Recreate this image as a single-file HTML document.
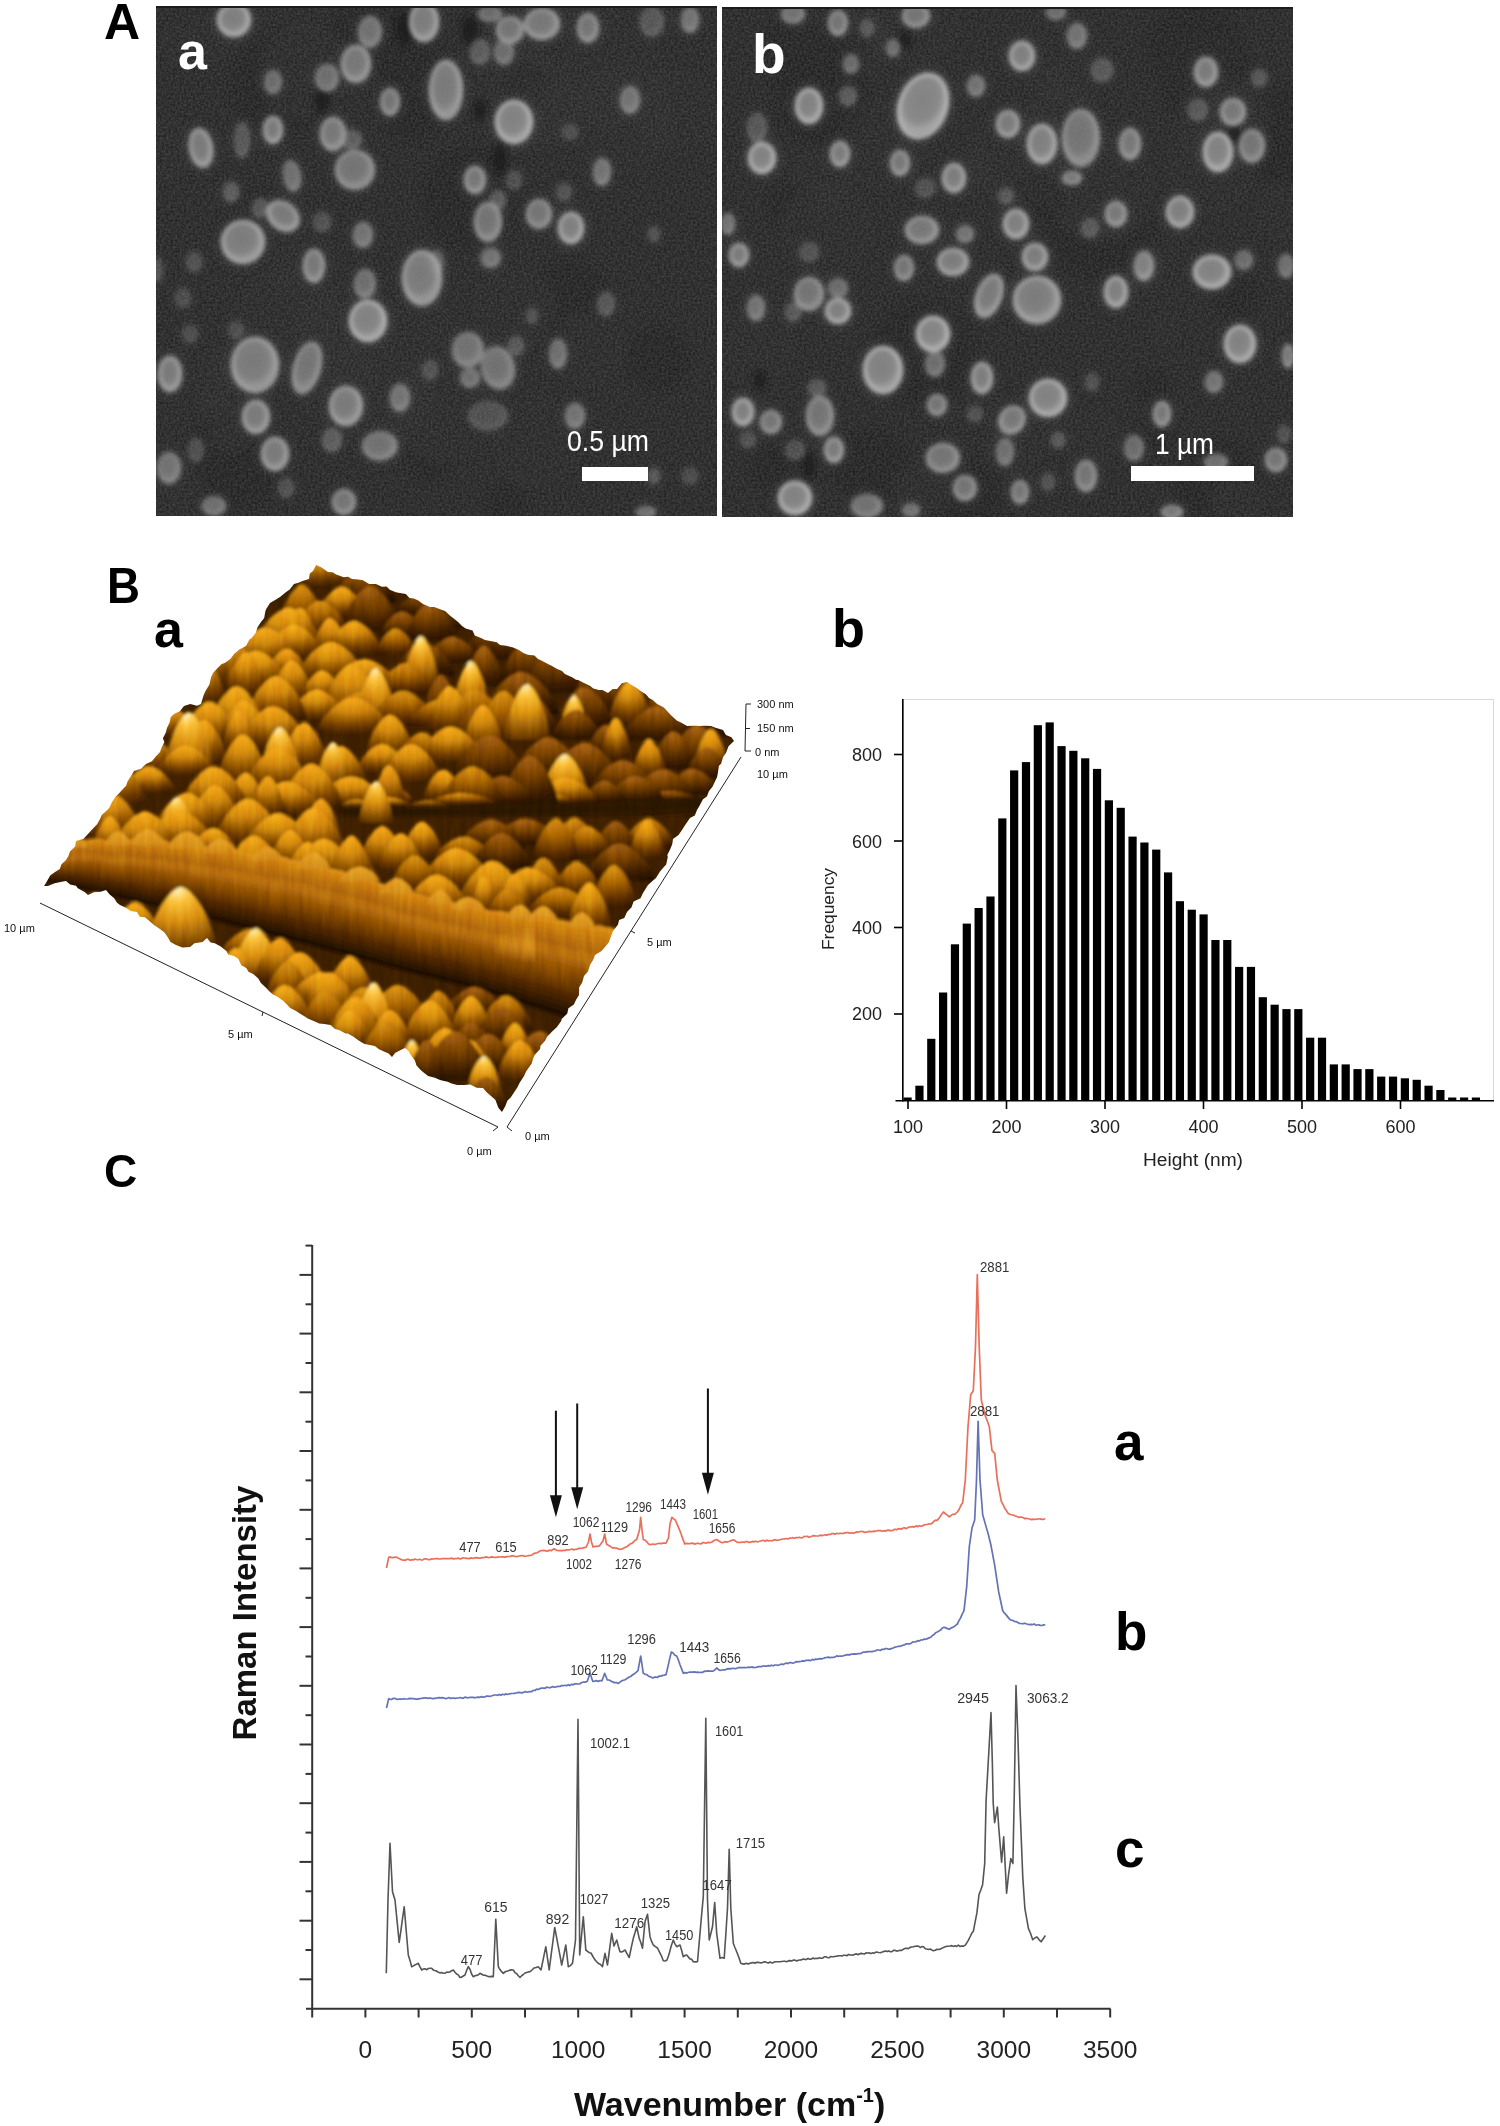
<!DOCTYPE html><html><head><meta charset="utf-8"><style>html,body{margin:0;padding:0;background:#fff;}svg{display:block;}</style></head><body>
<svg width="1500" height="2126" viewBox="0 0 1500 2126" font-family="Liberation Sans, sans-serif">
<defs>
<radialGradient id="pg" cx="0.45" cy="0.42" r="0.55">
<stop offset="0" stop-color="#868686"/><stop offset="0.6" stop-color="#8e8e8e"/><stop offset="0.86" stop-color="#b0b0b0"/><stop offset="1" stop-color="#9a9a9a"/>
</radialGradient>
<filter id="b1" x="-10%" y="-10%" width="120%" height="120%"><feGaussianBlur stdDeviation="2.1"/></filter>
<filter id="b4" x="-10%" y="-10%" width="120%" height="120%"><feGaussianBlur stdDeviation="4"/></filter>
<filter id="b3"><feGaussianBlur stdDeviation="3"/></filter>
<filter id="noise" x="0" y="0" width="100%" height="100%" color-interpolation-filters="sRGB"><feTurbulence type="fractalNoise" baseFrequency="0.45" numOctaves="2" seed="3"/><feColorMatrix type="matrix" values="0.7 0 0 0 -0.15  0.7 0 0 0 -0.15  0.7 0 0 0 -0.15  0 0 0 0 0.3"/></filter>
<clipPath id="cA"><rect x="156" y="6" width="561" height="510"/></clipPath>
<clipPath id="cB"><rect x="722" y="7" width="571" height="510"/></clipPath>
<clipPath id="cAFM"><polygon points="316.0,565.0 321.2,567.2 328.0,572.0 332.5,572.3 336.2,574.5 343.7,577.2 348.0,576.7 352.0,579.0 358.1,579.5 363.0,580.2 369.1,584.1 376.0,584.0 381.9,586.8 386.6,586.6 389.8,589.8 395.9,592.3 400.0,593.0 405.8,593.9 409.5,597.9 413.8,598.6 418.3,600.5 423.0,604.0 429.9,606.9 434.2,606.9 440.8,609.5 445.0,611.0 450.5,615.9 453.5,618.2 458.1,622.0 462.0,626.0 465.7,628.4 472.5,630.5 474.8,635.4 481.0,638.0 485.0,639.9 490.4,641.0 496.8,642.3 500.0,645.0 506.1,645.7 513.1,647.6 519.0,650.0 523.3,653.0 527.9,654.7 534.5,655.5 538.0,659.0 541.4,660.5 548.4,664.2 551.6,665.7 556.2,668.5 562.0,671.0 564.9,674.0 572.1,677.3 576.0,679.7 578.1,679.9 584.0,683.0 590.3,685.9 593.3,688.4 598.8,690.0 602.5,690.0 608.0,693.0 612.6,689.1 617.1,689.0 621.7,683.2 627.0,682.0 629.9,684.1 636.7,688.0 639.5,690.3 646.1,694.6 649.0,698.0 652.8,700.1 657.1,703.9 663.8,707.4 668.0,712.0 671.3,715.5 676.7,720.6 681.0,722.6 687.0,726.0 693.9,725.7 700.6,725.9 704.2,725.7 711.0,726.0 715.5,727.7 723.0,730.0 725.9,734.9 731.4,737.3 734.0,741.0 728.5,746.2 726.0,753.0 723.2,756.8 721.1,763.7 718.9,765.8 718.0,772.0 717.1,777.0 715.1,781.2 712.5,786.7 709.0,791.0 706.9,796.5 703.0,799.2 699.1,806.4 697.0,810.0 694.8,815.4 690.0,818.0 685.5,824.5 682.0,830.0 678.5,835.0 673.0,839.0 672.3,843.9 670.2,849.3 667.3,854.9 667.8,857.0 666.2,864.6 663.0,868.0 660.0,871.5 656.0,878.0 653.3,880.3 648.0,885.0 643.0,893.0 640.5,898.3 633.6,901.4 631.4,907.5 627.0,912.0 624.3,918.1 619.1,919.9 617.9,924.7 613.0,931.0 611.5,935.1 608.7,942.6 605.0,947.0 601.2,951.2 595.0,955.0 593.5,959.3 590.0,965.0 588.0,971.6 584.0,976.0 582.2,982.4 579.2,987.2 579.0,995.0 576.2,999.5 573.9,1004.5 568.4,1008.3 567.3,1013.4 561.7,1018.9 561.2,1021.1 557.0,1027.0 552.1,1031.6 547.0,1037.0 545.1,1040.8 540.5,1045.8 540.1,1048.9 534.6,1055.0 533.0,1059.0 531.7,1063.6 527.6,1069.3 526.2,1071.3 523.9,1076.3 519.5,1082.9 517.3,1087.4 515.0,1091.0 510.7,1097.4 507.5,1100.4 505.2,1106.2 502.0,1112.0 498.5,1108.0 495.3,1099.8 491.0,1096.0 486.4,1092.1 483.0,1088.0 476.6,1087.7 470.3,1084.6 464.0,1085.0 457.2,1084.9 451.5,1083.4 447.6,1081.7 440.0,1080.0 434.9,1077.7 428.1,1076.0 423.0,1072.0 419.9,1069.3 416.4,1065.2 414.9,1060.4 410.8,1054.9 408.9,1051.6 405.0,1048.0 401.2,1049.8 395.0,1052.9 392.0,1057.0 388.6,1053.6 384.5,1051.8 379.0,1049.3 374.8,1046.1 370.0,1045.0 364.5,1043.9 358.6,1040.5 353.9,1036.9 347.8,1033.5 345.6,1033.6 339.0,1030.0 335.0,1029.0 330.5,1024.9 324.3,1024.0 319.2,1023.4 314.8,1021.5 307.8,1018.5 304.0,1016.0 300.2,1013.7 295.6,1010.8 290.2,1008.0 286.2,1003.8 283.4,1001.0 277.1,996.4 272.8,994.5 269.0,991.0 266.7,988.4 260.9,982.9 258.3,978.6 253.2,973.9 248.5,971.7 246.3,968.0 241.3,965.2 238.3,958.8 234.0,956.0 228.1,954.5 226.6,951.3 220.8,946.4 214.7,943.2 210.6,942.4 207.0,938.0 202.6,941.9 194.5,943.2 190.0,947.0 182.4,947.4 176.0,945.0 170.5,941.9 167.8,937.2 164.3,932.2 158.5,927.9 154.0,925.0 148.5,920.3 144.9,917.3 139.8,916.8 137.0,912.0 130.7,910.9 126.3,908.1 120.0,905.0 117.0,902.7 114.2,898.2 109.7,894.4 106.0,890.0 100.7,891.8 94.0,892.2 88.0,895.0 84.7,892.1 77.8,888.3 76.0,885.8 70.1,884.4 66.0,881.0 61.7,881.7 54.6,883.3 48.0,886.0 44.0,886.0 46.1,882.8 50.2,875.6 55.0,872.0 59.8,869.0 61.5,864.2 66.0,860.0 68.4,855.9 70.0,851.5 75.1,846.4 76.0,841.0 83.3,838.9 88.0,834.0 91.6,830.1 97.1,824.3 100.0,819.0 101.7,815.1 107.3,809.9 109.5,807.5 112.0,802.0 115.7,796.5 119.1,793.2 122.0,790.0 126.1,785.8 127.4,781.8 131.4,775.2 134.0,771.0 141.1,768.8 146.0,764.0 151.9,761.2 155.8,756.6 160.0,752.0 161.7,747.3 164.4,741.9 162.9,738.3 165.6,732.9 167.0,728.0 169.6,722.5 170.7,717.3 174.0,714.0 179.9,711.3 184.0,706.0 190.3,704.1 196.9,705.7 201.0,704.0 203.5,695.4 206.0,690.0 209.4,684.7 211.1,677.1 213.0,673.0 217.9,667.7 221.3,664.3 225.2,662.8 230.6,658.8 234.0,654.0 239.4,649.6 246.0,646.0 249.3,639.7 251.7,637.9 255.8,632.8 257.4,627.4 261.0,622.0 264.2,617.9 265.3,611.5 266.2,609.0 270.0,603.0 276.4,599.3 280.0,597.0 285.5,592.4 289.7,589.4 294.0,584.0 298.4,582.7 303.2,580.7 309.0,579.0 309.8,573.6 313.0,571.0"/></clipPath>

<radialGradient id="h0" cx="0.45" cy="0.05" r="1.0" fx="0.45" fy="0.05">
<stop offset="0" stop-color="#dc9410"/><stop offset="0.35" stop-color="#b06a04"/><stop offset="0.75" stop-color="#5c2e00"/><stop offset="1" stop-color="#301600"/>
</radialGradient>
<radialGradient id="h1" cx="0.45" cy="0.05" r="1.0" fx="0.45" fy="0.05">
<stop offset="0" stop-color="#f8ac1c"/><stop offset="0.35" stop-color="#d48a0a"/><stop offset="0.75" stop-color="#6e3a00"/><stop offset="1" stop-color="#3a1c00"/>
</radialGradient>
<radialGradient id="h2" cx="0.45" cy="0.05" r="1.0" fx="0.45" fy="0.05">
<stop offset="0" stop-color="#fff0b0"/><stop offset="0.18" stop-color="#fcc23a"/><stop offset="0.5" stop-color="#d88e0c"/><stop offset="1" stop-color="#542a00"/>
</radialGradient>
<radialGradient id="h3" cx="0.45" cy="0.05" r="1.0" fx="0.45" fy="0.05">
<stop offset="0" stop-color="#a8620c"/><stop offset="0.35" stop-color="#7c4404"/><stop offset="0.75" stop-color="#3e1e00"/><stop offset="1" stop-color="#241000"/>
</radialGradient>
<linearGradient id="hb" x1="0" y1="0" x2="0" y2="1"><stop offset="0" stop-color="#eaa426"/><stop offset="0.6" stop-color="#dc961e"/><stop offset="1" stop-color="#d28c18"/></linearGradient>
<radialGradient id="hl"><stop offset="0" stop-color="#f0a828" stop-opacity="0.85"/><stop offset="1" stop-color="#f0a828" stop-opacity="0"/></radialGradient>
<linearGradient id="rg" x1="0" y1="0" x2="0" y2="1">
<stop offset="0" stop-color="#e8a42a"/><stop offset="0.15" stop-color="#d08c1c"/><stop offset="0.55" stop-color="#9a5c0c"/><stop offset="0.85" stop-color="#4a2600"/><stop offset="1" stop-color="#200e00"/>
</linearGradient>
<linearGradient id="rg2" x1="0" y1="0" x2="0" y2="1">
<stop offset="0" stop-color="#e09c26"/><stop offset="0.3" stop-color="#b87414"/><stop offset="0.8" stop-color="#6a3a04"/><stop offset="1" stop-color="#3a1e00"/>
</linearGradient>
<filter id="fb3" x="-20%" y="-50%" width="140%" height="200%"><feGaussianBlur stdDeviation="3"/></filter>
<filter id="streak" x="0" y="0" width="100%" height="100%" color-interpolation-filters="sRGB"><feTurbulence type="fractalNoise" baseFrequency="0.18 0.025" numOctaves="2" seed="5"/><feColorMatrix type="matrix" values="1.2 0 0 0 -0.1  1.2 0 0 0 -0.1  1.2 0 0 0 -0.1  0 0 0 0 1"/></filter>
<filter id="fb6" x="-20%" y="-20%" width="140%" height="140%"><feGaussianBlur stdDeviation="6"/></filter>
<filter id="fb1" x="-5%" y="-5%" width="110%" height="110%"><feGaussianBlur stdDeviation="1.8"/></filter>

</defs>
<rect width="1500" height="2126" fill="#fff"/>
<text x="104" y="39" font-size="50" font-weight="bold" fill="#000">A</text>
<g clip-path="url(#cA)">
<rect x="156" y="6" width="561" height="510" fill="#313131"/>
<g filter="url(#b3)" opacity="0.5"><circle cx="430" cy="459" r="25" fill="#262626" opacity="0.5"/><circle cx="281" cy="86" r="52" fill="#262626" opacity="0.5"/><circle cx="471" cy="198" r="52" fill="#262626" opacity="0.5"/><circle cx="232" cy="229" r="16" fill="#262626" opacity="0.5"/><circle cx="580" cy="7" r="38" fill="#3c3c3c" opacity="0.5"/><circle cx="215" cy="408" r="17" fill="#3c3c3c" opacity="0.5"/><circle cx="237" cy="460" r="51" fill="#262626" opacity="0.5"/><circle cx="179" cy="45" r="21" fill="#3c3c3c" opacity="0.5"/><circle cx="307" cy="71" r="48" fill="#3c3c3c" opacity="0.5"/><circle cx="212" cy="38" r="25" fill="#3c3c3c" opacity="0.5"/><circle cx="658" cy="359" r="34" fill="#262626" opacity="0.5"/><circle cx="343" cy="333" r="50" fill="#3c3c3c" opacity="0.5"/><circle cx="346" cy="27" r="18" fill="#262626" opacity="0.5"/><circle cx="167" cy="493" r="36" fill="#3c3c3c" opacity="0.5"/><circle cx="524" cy="60" r="27" fill="#3c3c3c" opacity="0.5"/><circle cx="418" cy="330" r="39" fill="#3c3c3c" opacity="0.5"/><circle cx="442" cy="410" r="52" fill="#3c3c3c" opacity="0.5"/><circle cx="163" cy="148" r="33" fill="#3c3c3c" opacity="0.5"/><circle cx="411" cy="117" r="27" fill="#262626" opacity="0.5"/><circle cx="569" cy="296" r="38" fill="#262626" opacity="0.5"/><circle cx="506" cy="505" r="22" fill="#262626" opacity="0.5"/><circle cx="621" cy="120" r="53" fill="#3c3c3c" opacity="0.5"/><circle cx="522" cy="100" r="54" fill="#3c3c3c" opacity="0.5"/><circle cx="398" cy="397" r="38" fill="#3c3c3c" opacity="0.5"/><circle cx="287" cy="321" r="53" fill="#3c3c3c" opacity="0.5"/><circle cx="525" cy="85" r="23" fill="#262626" opacity="0.5"/><circle cx="612" cy="75" r="53" fill="#3c3c3c" opacity="0.5"/><circle cx="588" cy="349" r="37" fill="#3c3c3c" opacity="0.5"/><circle cx="403" cy="44" r="44" fill="#262626" opacity="0.5"/><circle cx="258" cy="208" r="20" fill="#262626" opacity="0.5"/><circle cx="230" cy="432" r="21" fill="#3c3c3c" opacity="0.5"/><circle cx="371" cy="12" r="25" fill="#262626" opacity="0.5"/><circle cx="226" cy="380" r="34" fill="#3c3c3c" opacity="0.5"/><circle cx="538" cy="442" r="45" fill="#3c3c3c" opacity="0.5"/><circle cx="292" cy="266" r="24" fill="#3c3c3c" opacity="0.5"/><circle cx="234" cy="369" r="24" fill="#3c3c3c" opacity="0.5"/><circle cx="332" cy="381" r="43" fill="#3c3c3c" opacity="0.5"/><circle cx="675" cy="111" r="43" fill="#3c3c3c" opacity="0.5"/><circle cx="514" cy="309" r="42" fill="#3c3c3c" opacity="0.5"/><circle cx="542" cy="116" r="34" fill="#3c3c3c" opacity="0.5"/></g>
<rect x="156" y="6" width="561" height="510" filter="url(#noise)"/>
<g filter="url(#b4)"><ellipse cx="234" cy="20" rx="22" ry="22" fill="#6a6a6a" opacity="0.28"/>
<ellipse cx="370" cy="32" rx="17" ry="21" fill="#6a6a6a" opacity="0.19"/>
<ellipse cx="424" cy="22" rx="20" ry="25" fill="#6a6a6a" opacity="0.26"/>
<ellipse cx="356" cy="64" rx="20" ry="24" fill="#6a6a6a" opacity="0.23"/>
<ellipse cx="327" cy="78" rx="17" ry="19" fill="#6a6a6a" opacity="0.17"/>
<ellipse cx="273" cy="82" rx="14" ry="17" fill="#6a6a6a" opacity="0.16"/>
<ellipse cx="390" cy="102" rx="15" ry="19" fill="#6a6a6a" opacity="0.21"/>
<ellipse cx="446" cy="90" rx="22" ry="35" fill="#6a6a6a" opacity="0.24"/>
<ellipse cx="273" cy="130" rx="15" ry="19" fill="#6a6a6a" opacity="0.24"/>
<ellipse cx="333" cy="134" rx="18" ry="22" fill="#6a6a6a" opacity="0.23"/>
<ellipse cx="352" cy="140" rx="15" ry="15" fill="#6a6a6a" opacity="0.14"/>
<ellipse cx="201" cy="148" rx="17" ry="25" fill="#6a6a6a" opacity="0.24" transform="rotate(-10 201 148)"/>
<ellipse cx="242" cy="140" rx="13" ry="23" fill="#6a6a6a" opacity="0.12"/>
<ellipse cx="292" cy="176" rx="14" ry="21" fill="#6a6a6a" opacity="0.17" transform="rotate(-10 292 176)"/>
<ellipse cx="355" cy="170" rx="25" ry="25" fill="#6a6a6a" opacity="0.21"/>
<ellipse cx="231" cy="192" rx="13" ry="15" fill="#6a6a6a" opacity="0.14"/>
<ellipse cx="283" cy="216" rx="23" ry="19" fill="#6a6a6a" opacity="0.24" transform="rotate(40 283 216)"/>
<ellipse cx="260" cy="208" rx="13" ry="15" fill="#6a6a6a" opacity="0.12"/>
<ellipse cx="243" cy="242" rx="27" ry="27" fill="#6a6a6a" opacity="0.26"/>
<ellipse cx="363" cy="235" rx="15" ry="18" fill="#6a6a6a" opacity="0.19"/>
<ellipse cx="314" cy="266" rx="16" ry="22" fill="#6a6a6a" opacity="0.23"/>
<ellipse cx="322" cy="222" rx="14" ry="15" fill="#6a6a6a" opacity="0.10"/>
<ellipse cx="490" cy="14" rx="17" ry="13" fill="#6a6a6a" opacity="0.16"/>
<ellipse cx="510" cy="30" rx="19" ry="19" fill="#6a6a6a" opacity="0.21"/>
<ellipse cx="542" cy="24" rx="23" ry="21" fill="#6a6a6a" opacity="0.23"/>
<ellipse cx="588" cy="28" rx="16" ry="20" fill="#6a6a6a" opacity="0.21"/>
<ellipse cx="652" cy="22" rx="17" ry="20" fill="#6a6a6a" opacity="0.12"/>
<ellipse cx="690" cy="20" rx="14" ry="18" fill="#6a6a6a" opacity="0.19"/>
<ellipse cx="480" cy="52" rx="15" ry="18" fill="#6a6a6a" opacity="0.14"/>
<ellipse cx="504" cy="52" rx="15" ry="18" fill="#6a6a6a" opacity="0.16"/>
<ellipse cx="514" cy="122" rx="24" ry="27" fill="#6a6a6a" opacity="0.30"/>
<ellipse cx="630" cy="100" rx="15" ry="19" fill="#6a6a6a" opacity="0.19"/>
<ellipse cx="570" cy="132" rx="13" ry="13" fill="#6a6a6a" opacity="0.09"/>
<ellipse cx="475" cy="180" rx="16" ry="19" fill="#6a6a6a" opacity="0.23"/>
<ellipse cx="602" cy="172" rx="14" ry="19" fill="#6a6a6a" opacity="0.19"/>
<ellipse cx="514" cy="180" rx="13" ry="15" fill="#6a6a6a" opacity="0.10"/>
<ellipse cx="564" cy="192" rx="13" ry="14" fill="#6a6a6a" opacity="0.10"/>
<ellipse cx="488" cy="222" rx="19" ry="25" fill="#6a6a6a" opacity="0.21"/>
<ellipse cx="498" cy="200" rx="13" ry="15" fill="#6a6a6a" opacity="0.14"/>
<ellipse cx="539" cy="214" rx="18" ry="20" fill="#6a6a6a" opacity="0.21"/>
<ellipse cx="571" cy="228" rx="18" ry="21" fill="#6a6a6a" opacity="0.28"/>
<ellipse cx="654" cy="234" rx="11" ry="13" fill="#6a6a6a" opacity="0.10"/>
<ellipse cx="490" cy="258" rx="15" ry="15" fill="#6a6a6a" opacity="0.14"/>
<ellipse cx="436" cy="262" rx="13" ry="17" fill="#6a6a6a" opacity="0.14"/>
<ellipse cx="422" cy="278" rx="25" ry="33" fill="#6a6a6a" opacity="0.24"/>
<ellipse cx="368" cy="321" rx="24" ry="26" fill="#6a6a6a" opacity="0.30"/>
<ellipse cx="365" cy="284" rx="16" ry="20" fill="#6a6a6a" opacity="0.17"/>
<ellipse cx="255" cy="365" rx="29" ry="33" fill="#6a6a6a" opacity="0.24"/>
<ellipse cx="307" cy="368" rx="19" ry="32" fill="#6a6a6a" opacity="0.21" transform="rotate(15 307 368)"/>
<ellipse cx="170" cy="374" rx="17" ry="23" fill="#6a6a6a" opacity="0.24"/>
<ellipse cx="346" cy="406" rx="22" ry="25" fill="#6a6a6a" opacity="0.24"/>
<ellipse cx="400" cy="398" rx="15" ry="19" fill="#6a6a6a" opacity="0.19"/>
<ellipse cx="256" cy="417" rx="19" ry="22" fill="#6a6a6a" opacity="0.24"/>
<ellipse cx="275" cy="454" rx="19" ry="22" fill="#6a6a6a" opacity="0.24"/>
<ellipse cx="332" cy="440" rx="15" ry="17" fill="#6a6a6a" opacity="0.14"/>
<ellipse cx="380" cy="446" rx="23" ry="20" fill="#6a6a6a" opacity="0.19"/>
<ellipse cx="169" cy="468" rx="17" ry="21" fill="#6a6a6a" opacity="0.19"/>
<ellipse cx="196" cy="450" rx="13" ry="17" fill="#6a6a6a" opacity="0.10"/>
<ellipse cx="344" cy="502" rx="17" ry="18" fill="#6a6a6a" opacity="0.21"/>
<ellipse cx="214" cy="506" rx="17" ry="15" fill="#6a6a6a" opacity="0.17"/>
<ellipse cx="286" cy="488" rx="13" ry="15" fill="#6a6a6a" opacity="0.10"/>
<ellipse cx="183" cy="298" rx="13" ry="15" fill="#6a6a6a" opacity="0.09"/>
<ellipse cx="194" cy="262" rx="13" ry="15" fill="#6a6a6a" opacity="0.10"/>
<ellipse cx="236" cy="330" rx="13" ry="14" fill="#6a6a6a" opacity="0.09"/>
<ellipse cx="190" cy="334" rx="13" ry="14" fill="#6a6a6a" opacity="0.09"/>
<ellipse cx="430" cy="370" rx="13" ry="15" fill="#6a6a6a" opacity="0.10"/>
<ellipse cx="468" cy="350" rx="21" ry="23" fill="#6a6a6a" opacity="0.19"/>
<ellipse cx="498" cy="368" rx="22" ry="27" fill="#6a6a6a" opacity="0.19" transform="rotate(-15 498 368)"/>
<ellipse cx="470" cy="378" rx="15" ry="15" fill="#6a6a6a" opacity="0.17"/>
<ellipse cx="516" cy="346" rx="13" ry="15" fill="#6a6a6a" opacity="0.12"/>
<ellipse cx="558" cy="354" rx="14" ry="20" fill="#6a6a6a" opacity="0.17"/>
<ellipse cx="575" cy="416" rx="15" ry="18" fill="#6a6a6a" opacity="0.19"/>
<ellipse cx="488" cy="416" rx="25" ry="20" fill="#6a6a6a" opacity="0.10"/>
<ellipse cx="654" cy="476" rx="11" ry="13" fill="#6a6a6a" opacity="0.12"/>
<ellipse cx="646" cy="512" rx="15" ry="11" fill="#6a6a6a" opacity="0.17"/>
<ellipse cx="532" cy="316" rx="11" ry="13" fill="#6a6a6a" opacity="0.10"/>
<ellipse cx="690" cy="476" rx="13" ry="13" fill="#6a6a6a" opacity="0.09"/>
<ellipse cx="606" cy="304" rx="14" ry="17" fill="#6a6a6a" opacity="0.12"/>
<ellipse cx="492" cy="258" rx="14" ry="15" fill="#6a6a6a" opacity="0.14"/>
<ellipse cx="158" cy="270" rx="9" ry="17" fill="#6a6a6a" opacity="0.12"/></g>
<g filter="url(#b3)"><ellipse cx="322" cy="100" rx="7" ry="12" fill="#151515" opacity="0.8"/><ellipse cx="406" cy="28" rx="9" ry="16" fill="#151515" opacity="0.8"/><ellipse cx="500" cy="158" rx="6" ry="15" fill="#151515" opacity="0.8"/><ellipse cx="470" cy="30" rx="8" ry="14" fill="#151515" opacity="0.8"/><ellipse cx="480" cy="110" rx="6" ry="10" fill="#151515" opacity="0.8"/></g>
<g filter="url(#b1)"><ellipse cx="234" cy="20" rx="17" ry="17" fill="url(#pg)" opacity="0.87"/>
<ellipse cx="234" cy="20" rx="15.5" ry="15.5" fill="none" stroke="#cccccc" stroke-width="2.6" opacity="0.62"/>
<ellipse cx="370" cy="32" rx="12" ry="16" fill="url(#pg)" opacity="0.70"/>
<ellipse cx="424" cy="22" rx="15" ry="20" fill="url(#pg)" opacity="0.84"/>
<ellipse cx="424" cy="22" rx="13.5" ry="18.5" fill="none" stroke="#cccccc" stroke-width="2.6" opacity="0.52"/>
<ellipse cx="356" cy="64" rx="15" ry="19" fill="url(#pg)" opacity="0.77"/>
<ellipse cx="356" cy="64" rx="13.5" ry="17.5" fill="none" stroke="#cccccc" stroke-width="2.6" opacity="0.34"/>
<ellipse cx="327" cy="78" rx="12" ry="14" fill="url(#pg)" opacity="0.66"/>
<ellipse cx="273" cy="82" rx="9" ry="12" fill="url(#pg)" opacity="0.62"/>
<ellipse cx="390" cy="102" rx="10" ry="14" fill="url(#pg)" opacity="0.74"/>
<ellipse cx="390" cy="102" rx="8.5" ry="12.5" fill="none" stroke="#cccccc" stroke-width="2.6" opacity="0.26"/>
<ellipse cx="446" cy="90" rx="17" ry="30" fill="url(#pg)" opacity="0.81"/>
<ellipse cx="446" cy="90" rx="15.5" ry="28.5" fill="none" stroke="#cccccc" stroke-width="2.6" opacity="0.43"/>
<ellipse cx="273" cy="130" rx="10" ry="14" fill="url(#pg)" opacity="0.81"/>
<ellipse cx="273" cy="130" rx="8.5" ry="12.5" fill="none" stroke="#cccccc" stroke-width="2.6" opacity="0.43"/>
<ellipse cx="333" cy="134" rx="13" ry="17" fill="url(#pg)" opacity="0.77"/>
<ellipse cx="333" cy="134" rx="11.5" ry="15.5" fill="none" stroke="#cccccc" stroke-width="2.6" opacity="0.34"/>
<ellipse cx="352" cy="140" rx="10" ry="10" fill="url(#pg)" opacity="0.44"/>
<ellipse cx="201" cy="148" rx="12" ry="20" fill="url(#pg)" opacity="0.81" transform="rotate(-10 201 148)"/>
<ellipse cx="201" cy="148" rx="10.5" ry="18.5" fill="none" stroke="#cccccc" stroke-width="2.6" opacity="0.43" transform="rotate(-10 201 148)"/>
<ellipse cx="242" cy="140" rx="8" ry="18" fill="url(#pg)" opacity="0.39"/>
<ellipse cx="292" cy="176" rx="9" ry="16" fill="url(#pg)" opacity="0.66" transform="rotate(-10 292 176)"/>
<ellipse cx="355" cy="170" rx="20" ry="20" fill="url(#pg)" opacity="0.74"/>
<ellipse cx="355" cy="170" rx="18.5" ry="18.5" fill="none" stroke="#cccccc" stroke-width="2.6" opacity="0.26"/>
<ellipse cx="231" cy="192" rx="8" ry="10" fill="url(#pg)" opacity="0.44"/>
<ellipse cx="283" cy="216" rx="18" ry="14" fill="url(#pg)" opacity="0.81" transform="rotate(40 283 216)"/>
<ellipse cx="283" cy="216" rx="16.5" ry="12.5" fill="none" stroke="#cccccc" stroke-width="2.6" opacity="0.43" transform="rotate(40 283 216)"/>
<ellipse cx="260" cy="208" rx="8" ry="10" fill="url(#pg)" opacity="0.39"/>
<ellipse cx="243" cy="242" rx="22" ry="22" fill="url(#pg)" opacity="0.84"/>
<ellipse cx="243" cy="242" rx="20.5" ry="20.5" fill="none" stroke="#cccccc" stroke-width="2.6" opacity="0.52"/>
<ellipse cx="363" cy="235" rx="10" ry="13" fill="url(#pg)" opacity="0.70"/>
<ellipse cx="314" cy="266" rx="11" ry="17" fill="url(#pg)" opacity="0.77"/>
<ellipse cx="314" cy="266" rx="9.5" ry="15.5" fill="none" stroke="#cccccc" stroke-width="2.6" opacity="0.34"/>
<ellipse cx="322" cy="222" rx="9" ry="10" fill="url(#pg)" opacity="0.33"/>
<ellipse cx="490" cy="14" rx="12" ry="8" fill="url(#pg)" opacity="0.62"/>
<ellipse cx="510" cy="30" rx="14" ry="14" fill="url(#pg)" opacity="0.74"/>
<ellipse cx="510" cy="30" rx="12.5" ry="12.5" fill="none" stroke="#cccccc" stroke-width="2.6" opacity="0.26"/>
<ellipse cx="542" cy="24" rx="18" ry="16" fill="url(#pg)" opacity="0.77"/>
<ellipse cx="542" cy="24" rx="16.5" ry="14.5" fill="none" stroke="#cccccc" stroke-width="2.6" opacity="0.34"/>
<ellipse cx="588" cy="28" rx="11" ry="15" fill="url(#pg)" opacity="0.74"/>
<ellipse cx="588" cy="28" rx="9.5" ry="13.5" fill="none" stroke="#cccccc" stroke-width="2.6" opacity="0.26"/>
<ellipse cx="652" cy="22" rx="12" ry="15" fill="url(#pg)" opacity="0.39"/>
<ellipse cx="690" cy="20" rx="9" ry="13" fill="url(#pg)" opacity="0.70"/>
<ellipse cx="480" cy="52" rx="10" ry="13" fill="url(#pg)" opacity="0.44"/>
<ellipse cx="504" cy="52" rx="10" ry="13" fill="url(#pg)" opacity="0.62"/>
<ellipse cx="514" cy="122" rx="19" ry="22" fill="url(#pg)" opacity="0.91"/>
<ellipse cx="514" cy="122" rx="17.5" ry="20.5" fill="none" stroke="#cccccc" stroke-width="2.6" opacity="0.73"/>
<ellipse cx="630" cy="100" rx="10" ry="14" fill="url(#pg)" opacity="0.70"/>
<ellipse cx="570" cy="132" rx="8" ry="8" fill="url(#pg)" opacity="0.28"/>
<ellipse cx="475" cy="180" rx="11" ry="14" fill="url(#pg)" opacity="0.77"/>
<ellipse cx="475" cy="180" rx="9.5" ry="12.5" fill="none" stroke="#cccccc" stroke-width="2.6" opacity="0.34"/>
<ellipse cx="602" cy="172" rx="9" ry="14" fill="url(#pg)" opacity="0.70"/>
<ellipse cx="514" cy="180" rx="8" ry="10" fill="url(#pg)" opacity="0.33"/>
<ellipse cx="564" cy="192" rx="8" ry="9" fill="url(#pg)" opacity="0.33"/>
<ellipse cx="488" cy="222" rx="14" ry="20" fill="url(#pg)" opacity="0.74"/>
<ellipse cx="488" cy="222" rx="12.5" ry="18.5" fill="none" stroke="#cccccc" stroke-width="2.6" opacity="0.26"/>
<ellipse cx="498" cy="200" rx="8" ry="10" fill="url(#pg)" opacity="0.44"/>
<ellipse cx="539" cy="214" rx="13" ry="15" fill="url(#pg)" opacity="0.74"/>
<ellipse cx="539" cy="214" rx="11.5" ry="13.5" fill="none" stroke="#cccccc" stroke-width="2.6" opacity="0.26"/>
<ellipse cx="571" cy="228" rx="13" ry="16" fill="url(#pg)" opacity="0.87"/>
<ellipse cx="571" cy="228" rx="11.5" ry="14.5" fill="none" stroke="#cccccc" stroke-width="2.6" opacity="0.62"/>
<ellipse cx="654" cy="234" rx="6" ry="8" fill="url(#pg)" opacity="0.33"/>
<ellipse cx="490" cy="258" rx="10" ry="10" fill="url(#pg)" opacity="0.44"/>
<ellipse cx="436" cy="262" rx="8" ry="12" fill="url(#pg)" opacity="0.44"/>
<ellipse cx="422" cy="278" rx="20" ry="28" fill="url(#pg)" opacity="0.81"/>
<ellipse cx="422" cy="278" rx="18.5" ry="26.5" fill="none" stroke="#cccccc" stroke-width="2.6" opacity="0.43"/>
<ellipse cx="368" cy="321" rx="19" ry="21" fill="url(#pg)" opacity="0.91"/>
<ellipse cx="368" cy="321" rx="17.5" ry="19.5" fill="none" stroke="#cccccc" stroke-width="2.6" opacity="0.73"/>
<ellipse cx="365" cy="284" rx="11" ry="15" fill="url(#pg)" opacity="0.66"/>
<ellipse cx="255" cy="365" rx="24" ry="28" fill="url(#pg)" opacity="0.81"/>
<ellipse cx="255" cy="365" rx="22.5" ry="26.5" fill="none" stroke="#cccccc" stroke-width="2.6" opacity="0.43"/>
<ellipse cx="307" cy="368" rx="14" ry="27" fill="url(#pg)" opacity="0.74" transform="rotate(15 307 368)"/>
<ellipse cx="307" cy="368" rx="12.5" ry="25.5" fill="none" stroke="#cccccc" stroke-width="2.6" opacity="0.26" transform="rotate(15 307 368)"/>
<ellipse cx="170" cy="374" rx="12" ry="18" fill="url(#pg)" opacity="0.81"/>
<ellipse cx="170" cy="374" rx="10.5" ry="16.5" fill="none" stroke="#cccccc" stroke-width="2.6" opacity="0.43"/>
<ellipse cx="346" cy="406" rx="17" ry="20" fill="url(#pg)" opacity="0.81"/>
<ellipse cx="346" cy="406" rx="15.5" ry="18.5" fill="none" stroke="#cccccc" stroke-width="2.6" opacity="0.43"/>
<ellipse cx="400" cy="398" rx="10" ry="14" fill="url(#pg)" opacity="0.70"/>
<ellipse cx="256" cy="417" rx="14" ry="17" fill="url(#pg)" opacity="0.81"/>
<ellipse cx="256" cy="417" rx="12.5" ry="15.5" fill="none" stroke="#cccccc" stroke-width="2.6" opacity="0.43"/>
<ellipse cx="275" cy="454" rx="14" ry="17" fill="url(#pg)" opacity="0.81"/>
<ellipse cx="275" cy="454" rx="12.5" ry="15.5" fill="none" stroke="#cccccc" stroke-width="2.6" opacity="0.43"/>
<ellipse cx="332" cy="440" rx="10" ry="12" fill="url(#pg)" opacity="0.44"/>
<ellipse cx="380" cy="446" rx="18" ry="15" fill="url(#pg)" opacity="0.70"/>
<ellipse cx="169" cy="468" rx="12" ry="16" fill="url(#pg)" opacity="0.70"/>
<ellipse cx="196" cy="450" rx="8" ry="12" fill="url(#pg)" opacity="0.33"/>
<ellipse cx="344" cy="502" rx="12" ry="13" fill="url(#pg)" opacity="0.74"/>
<ellipse cx="344" cy="502" rx="10.5" ry="11.5" fill="none" stroke="#cccccc" stroke-width="2.6" opacity="0.26"/>
<ellipse cx="214" cy="506" rx="12" ry="10" fill="url(#pg)" opacity="0.66"/>
<ellipse cx="286" cy="488" rx="8" ry="10" fill="url(#pg)" opacity="0.33"/>
<ellipse cx="183" cy="298" rx="8" ry="10" fill="url(#pg)" opacity="0.28"/>
<ellipse cx="194" cy="262" rx="8" ry="10" fill="url(#pg)" opacity="0.33"/>
<ellipse cx="236" cy="330" rx="8" ry="9" fill="url(#pg)" opacity="0.28"/>
<ellipse cx="190" cy="334" rx="8" ry="9" fill="url(#pg)" opacity="0.28"/>
<ellipse cx="430" cy="370" rx="8" ry="10" fill="url(#pg)" opacity="0.33"/>
<ellipse cx="468" cy="350" rx="16" ry="18" fill="url(#pg)" opacity="0.70"/>
<ellipse cx="498" cy="368" rx="17" ry="22" fill="url(#pg)" opacity="0.70" transform="rotate(-15 498 368)"/>
<ellipse cx="470" cy="378" rx="10" ry="10" fill="url(#pg)" opacity="0.66"/>
<ellipse cx="516" cy="346" rx="8" ry="10" fill="url(#pg)" opacity="0.39"/>
<ellipse cx="558" cy="354" rx="9" ry="15" fill="url(#pg)" opacity="0.66"/>
<ellipse cx="575" cy="416" rx="10" ry="13" fill="url(#pg)" opacity="0.70"/>
<ellipse cx="488" cy="416" rx="20" ry="15" fill="url(#pg)" opacity="0.33"/>
<ellipse cx="654" cy="476" rx="6" ry="8" fill="url(#pg)" opacity="0.39"/>
<ellipse cx="646" cy="512" rx="10" ry="6" fill="url(#pg)" opacity="0.66"/>
<ellipse cx="532" cy="316" rx="6" ry="8" fill="url(#pg)" opacity="0.33"/>
<ellipse cx="690" cy="476" rx="8" ry="8" fill="url(#pg)" opacity="0.28"/>
<ellipse cx="606" cy="304" rx="9" ry="12" fill="url(#pg)" opacity="0.39"/>
<ellipse cx="492" cy="258" rx="9" ry="10" fill="url(#pg)" opacity="0.44"/>
<ellipse cx="158" cy="270" rx="4" ry="12" fill="url(#pg)" opacity="0.39"/></g>
<rect x="156" y="6" width="561" height="2" fill="#1c1c1c"/>
</g>
<g clip-path="url(#cB)">
<rect x="722" y="7" width="571" height="510" fill="#313131"/>
<g filter="url(#b3)" opacity="0.5"><circle cx="1071" cy="84" r="27" fill="#3c3c3c" opacity="0.5"/><circle cx="881" cy="146" r="45" fill="#3c3c3c" opacity="0.5"/><circle cx="1289" cy="138" r="51" fill="#262626" opacity="0.5"/><circle cx="1165" cy="329" r="18" fill="#3c3c3c" opacity="0.5"/><circle cx="822" cy="179" r="31" fill="#3c3c3c" opacity="0.5"/><circle cx="964" cy="498" r="39" fill="#262626" opacity="0.5"/><circle cx="754" cy="345" r="42" fill="#3c3c3c" opacity="0.5"/><circle cx="914" cy="17" r="49" fill="#3c3c3c" opacity="0.5"/><circle cx="1015" cy="442" r="33" fill="#3c3c3c" opacity="0.5"/><circle cx="1283" cy="213" r="29" fill="#3c3c3c" opacity="0.5"/><circle cx="922" cy="353" r="53" fill="#262626" opacity="0.5"/><circle cx="792" cy="208" r="27" fill="#262626" opacity="0.5"/><circle cx="809" cy="237" r="17" fill="#262626" opacity="0.5"/><circle cx="1217" cy="481" r="44" fill="#262626" opacity="0.5"/><circle cx="1236" cy="295" r="24" fill="#262626" opacity="0.5"/><circle cx="872" cy="467" r="40" fill="#262626" opacity="0.5"/><circle cx="1101" cy="229" r="53" fill="#262626" opacity="0.5"/><circle cx="1090" cy="439" r="30" fill="#3c3c3c" opacity="0.5"/><circle cx="843" cy="37" r="48" fill="#3c3c3c" opacity="0.5"/><circle cx="1211" cy="170" r="45" fill="#3c3c3c" opacity="0.5"/><circle cx="1046" cy="79" r="19" fill="#3c3c3c" opacity="0.5"/><circle cx="1032" cy="297" r="28" fill="#3c3c3c" opacity="0.5"/><circle cx="774" cy="468" r="25" fill="#262626" opacity="0.5"/><circle cx="1153" cy="388" r="20" fill="#262626" opacity="0.5"/><circle cx="834" cy="61" r="25" fill="#3c3c3c" opacity="0.5"/><circle cx="1021" cy="155" r="52" fill="#3c3c3c" opacity="0.5"/><circle cx="1157" cy="433" r="20" fill="#262626" opacity="0.5"/><circle cx="968" cy="175" r="25" fill="#3c3c3c" opacity="0.5"/><circle cx="1208" cy="82" r="48" fill="#262626" opacity="0.5"/><circle cx="1195" cy="49" r="49" fill="#262626" opacity="0.5"/><circle cx="1063" cy="130" r="45" fill="#3c3c3c" opacity="0.5"/><circle cx="827" cy="232" r="47" fill="#3c3c3c" opacity="0.5"/><circle cx="921" cy="492" r="28" fill="#3c3c3c" opacity="0.5"/><circle cx="1223" cy="123" r="47" fill="#3c3c3c" opacity="0.5"/><circle cx="1100" cy="189" r="54" fill="#3c3c3c" opacity="0.5"/><circle cx="814" cy="52" r="53" fill="#262626" opacity="0.5"/><circle cx="1237" cy="501" r="26" fill="#3c3c3c" opacity="0.5"/><circle cx="1036" cy="201" r="27" fill="#262626" opacity="0.5"/><circle cx="822" cy="99" r="49" fill="#262626" opacity="0.5"/><circle cx="817" cy="72" r="48" fill="#262626" opacity="0.5"/></g>
<rect x="722" y="7" width="571" height="510" filter="url(#noise)"/>
<g filter="url(#b4)"><ellipse cx="793" cy="14" rx="17" ry="15" fill="#6a6a6a" opacity="0.19"/>
<ellipse cx="838" cy="23" rx="15" ry="18" fill="#6a6a6a" opacity="0.21"/>
<ellipse cx="867" cy="28" rx="12" ry="14" fill="#6a6a6a" opacity="0.12"/>
<ellipse cx="916" cy="16" rx="19" ry="17" fill="#6a6a6a" opacity="0.21"/>
<ellipse cx="893" cy="48" rx="12" ry="14" fill="#6a6a6a" opacity="0.16"/>
<ellipse cx="851" cy="64" rx="13" ry="15" fill="#6a6a6a" opacity="0.16"/>
<ellipse cx="809" cy="106" rx="19" ry="23" fill="#6a6a6a" opacity="0.30"/>
<ellipse cx="848" cy="96" rx="14" ry="15" fill="#6a6a6a" opacity="0.14"/>
<ellipse cx="923" cy="106" rx="30" ry="39" fill="#6a6a6a" opacity="0.32" transform="rotate(20 923 106)"/>
<ellipse cx="976" cy="86" rx="14" ry="16" fill="#6a6a6a" opacity="0.19"/>
<ellipse cx="757" cy="128" rx="15" ry="20" fill="#6a6a6a" opacity="0.12"/>
<ellipse cx="762" cy="158" rx="19" ry="21" fill="#6a6a6a" opacity="0.30"/>
<ellipse cx="840" cy="154" rx="15" ry="18" fill="#6a6a6a" opacity="0.24"/>
<ellipse cx="900" cy="163" rx="15" ry="18" fill="#6a6a6a" opacity="0.23"/>
<ellipse cx="954" cy="178" rx="17" ry="20" fill="#6a6a6a" opacity="0.26"/>
<ellipse cx="925" cy="188" rx="15" ry="15" fill="#6a6a6a" opacity="0.10"/>
<ellipse cx="922" cy="230" rx="22" ry="19" fill="#6a6a6a" opacity="0.23"/>
<ellipse cx="965" cy="234" rx="14" ry="14" fill="#6a6a6a" opacity="0.19"/>
<ellipse cx="728" cy="224" rx="12" ry="16" fill="#6a6a6a" opacity="0.19"/>
<ellipse cx="739" cy="255" rx="15" ry="17" fill="#6a6a6a" opacity="0.24"/>
<ellipse cx="953" cy="262" rx="21" ry="19" fill="#6a6a6a" opacity="0.26"/>
<ellipse cx="904" cy="268" rx="15" ry="18" fill="#6a6a6a" opacity="0.21"/>
<ellipse cx="809" cy="252" rx="15" ry="15" fill="#6a6a6a" opacity="0.10"/>
<ellipse cx="1056" cy="12" rx="15" ry="13" fill="#6a6a6a" opacity="0.16"/>
<ellipse cx="1077" cy="36" rx="15" ry="18" fill="#6a6a6a" opacity="0.19"/>
<ellipse cx="1022" cy="56" rx="18" ry="20" fill="#6a6a6a" opacity="0.28"/>
<ellipse cx="1102" cy="70" rx="16" ry="17" fill="#6a6a6a" opacity="0.12"/>
<ellipse cx="1008" cy="124" rx="17" ry="19" fill="#6a6a6a" opacity="0.24"/>
<ellipse cx="1042" cy="144" rx="20" ry="25" fill="#6a6a6a" opacity="0.28"/>
<ellipse cx="1081" cy="138" rx="24" ry="34" fill="#6a6a6a" opacity="0.21"/>
<ellipse cx="1072" cy="178" rx="15" ry="12" fill="#6a6a6a" opacity="0.21"/>
<ellipse cx="1130" cy="144" rx="16" ry="21" fill="#6a6a6a" opacity="0.23"/>
<ellipse cx="1206" cy="72" rx="17" ry="20" fill="#6a6a6a" opacity="0.24"/>
<ellipse cx="1259" cy="78" rx="13" ry="14" fill="#6a6a6a" opacity="0.12"/>
<ellipse cx="1198" cy="110" rx="15" ry="16" fill="#6a6a6a" opacity="0.12"/>
<ellipse cx="1233" cy="112" rx="18" ry="19" fill="#6a6a6a" opacity="0.23"/>
<ellipse cx="1218" cy="152" rx="20" ry="25" fill="#6a6a6a" opacity="0.30"/>
<ellipse cx="1252" cy="146" rx="18" ry="22" fill="#6a6a6a" opacity="0.21"/>
<ellipse cx="1180" cy="212" rx="19" ry="21" fill="#6a6a6a" opacity="0.28"/>
<ellipse cx="1116" cy="214" rx="16" ry="18" fill="#6a6a6a" opacity="0.23"/>
<ellipse cx="1090" cy="228" rx="14" ry="15" fill="#6a6a6a" opacity="0.12"/>
<ellipse cx="1016" cy="224" rx="18" ry="20" fill="#6a6a6a" opacity="0.28"/>
<ellipse cx="1035" cy="257" rx="18" ry="19" fill="#6a6a6a" opacity="0.26"/>
<ellipse cx="1144" cy="266" rx="15" ry="20" fill="#6a6a6a" opacity="0.17"/>
<ellipse cx="1212" cy="272" rx="24" ry="22" fill="#6a6a6a" opacity="0.30"/>
<ellipse cx="1244" cy="260" rx="14" ry="15" fill="#6a6a6a" opacity="0.16"/>
<ellipse cx="1286" cy="266" rx="13" ry="17" fill="#6a6a6a" opacity="0.17"/>
<ellipse cx="1006" cy="196" rx="13" ry="13" fill="#6a6a6a" opacity="0.12"/>
<ellipse cx="809" cy="294" rx="20" ry="22" fill="#6a6a6a" opacity="0.21"/>
<ellipse cx="838" cy="288" rx="15" ry="15" fill="#6a6a6a" opacity="0.16"/>
<ellipse cx="838" cy="311" rx="18" ry="18" fill="#6a6a6a" opacity="0.28"/>
<ellipse cx="756" cy="308" rx="14" ry="18" fill="#6a6a6a" opacity="0.19"/>
<ellipse cx="793" cy="312" rx="13" ry="15" fill="#6a6a6a" opacity="0.12"/>
<ellipse cx="989" cy="296" rx="18" ry="28" fill="#6a6a6a" opacity="0.24" transform="rotate(20 989 296)"/>
<ellipse cx="933" cy="334" rx="22" ry="23" fill="#6a6a6a" opacity="0.32"/>
<ellipse cx="935" cy="364" rx="15" ry="18" fill="#6a6a6a" opacity="0.17"/>
<ellipse cx="883" cy="370" rx="25" ry="29" fill="#6a6a6a" opacity="0.30"/>
<ellipse cx="982" cy="378" rx="16" ry="21" fill="#6a6a6a" opacity="0.26"/>
<ellipse cx="937" cy="405" rx="15" ry="16" fill="#6a6a6a" opacity="0.21"/>
<ellipse cx="743" cy="412" rx="16" ry="19" fill="#6a6a6a" opacity="0.28"/>
<ellipse cx="771" cy="422" rx="16" ry="17" fill="#6a6a6a" opacity="0.21"/>
<ellipse cx="817" cy="388" rx="14" ry="14" fill="#6a6a6a" opacity="0.12"/>
<ellipse cx="820" cy="416" rx="19" ry="25" fill="#6a6a6a" opacity="0.21"/>
<ellipse cx="834" cy="450" rx="15" ry="18" fill="#6a6a6a" opacity="0.24"/>
<ellipse cx="795" cy="498" rx="22" ry="22" fill="#6a6a6a" opacity="0.30"/>
<ellipse cx="867" cy="506" rx="21" ry="17" fill="#6a6a6a" opacity="0.19"/>
<ellipse cx="911" cy="510" rx="14" ry="12" fill="#6a6a6a" opacity="0.17"/>
<ellipse cx="943" cy="458" rx="22" ry="20" fill="#6a6a6a" opacity="0.21"/>
<ellipse cx="965" cy="488" rx="17" ry="18" fill="#6a6a6a" opacity="0.21"/>
<ellipse cx="1005" cy="452" rx="14" ry="19" fill="#6a6a6a" opacity="0.17"/>
<ellipse cx="975" cy="414" rx="13" ry="13" fill="#6a6a6a" opacity="0.10"/>
<ellipse cx="748" cy="440" rx="13" ry="13" fill="#6a6a6a" opacity="0.10"/>
<ellipse cx="795" cy="450" rx="15" ry="15" fill="#6a6a6a" opacity="0.10"/>
<ellipse cx="1037" cy="300" rx="29" ry="29" fill="#6a6a6a" opacity="0.26"/>
<ellipse cx="1116" cy="292" rx="17" ry="21" fill="#6a6a6a" opacity="0.28"/>
<ellipse cx="1240" cy="344" rx="21" ry="24" fill="#6a6a6a" opacity="0.30"/>
<ellipse cx="1288" cy="356" rx="11" ry="17" fill="#6a6a6a" opacity="0.21"/>
<ellipse cx="1214" cy="382" rx="14" ry="16" fill="#6a6a6a" opacity="0.19"/>
<ellipse cx="1048" cy="398" rx="24" ry="24" fill="#6a6a6a" opacity="0.30"/>
<ellipse cx="1012" cy="420" rx="18" ry="20" fill="#6a6a6a" opacity="0.23" transform="rotate(30 1012 420)"/>
<ellipse cx="1162" cy="414" rx="14" ry="18" fill="#6a6a6a" opacity="0.23"/>
<ellipse cx="1092" cy="382" rx="12" ry="14" fill="#6a6a6a" opacity="0.10"/>
<ellipse cx="1134" cy="448" rx="15" ry="18" fill="#6a6a6a" opacity="0.16"/>
<ellipse cx="1058" cy="440" rx="12" ry="13" fill="#6a6a6a" opacity="0.12"/>
<ellipse cx="1086" cy="476" rx="16" ry="21" fill="#6a6a6a" opacity="0.21"/>
<ellipse cx="1020" cy="492" rx="14" ry="17" fill="#6a6a6a" opacity="0.21"/>
<ellipse cx="1048" cy="482" rx="12" ry="14" fill="#6a6a6a" opacity="0.10"/>
<ellipse cx="1216" cy="462" rx="17" ry="13" fill="#6a6a6a" opacity="0.17"/>
<ellipse cx="1276" cy="460" rx="16" ry="17" fill="#6a6a6a" opacity="0.21"/>
<ellipse cx="1284" cy="434" rx="12" ry="14" fill="#6a6a6a" opacity="0.10"/>
<ellipse cx="1172" cy="512" rx="16" ry="12" fill="#6a6a6a" opacity="0.21"/>
<ellipse cx="1144" cy="266" rx="15" ry="20" fill="#6a6a6a" opacity="0.17"/></g>
<g filter="url(#b3)"><ellipse cx="1234" cy="134" rx="6" ry="8" fill="#151515" opacity="0.8"/><ellipse cx="809" cy="466" rx="5" ry="13" fill="#151515" opacity="0.8"/><ellipse cx="905" cy="40" rx="6" ry="8" fill="#151515" opacity="0.8"/><ellipse cx="760" cy="380" rx="6" ry="8" fill="#151515" opacity="0.8"/></g>
<g filter="url(#b1)"><ellipse cx="793" cy="14" rx="12" ry="10" fill="url(#pg)" opacity="0.70"/>
<ellipse cx="838" cy="23" rx="10" ry="13" fill="url(#pg)" opacity="0.74"/>
<ellipse cx="838" cy="23" rx="8.5" ry="11.5" fill="none" stroke="#cccccc" stroke-width="2.6" opacity="0.26"/>
<ellipse cx="867" cy="28" rx="7" ry="9" fill="url(#pg)" opacity="0.39"/>
<ellipse cx="916" cy="16" rx="14" ry="12" fill="url(#pg)" opacity="0.74"/>
<ellipse cx="916" cy="16" rx="12.5" ry="10.5" fill="none" stroke="#cccccc" stroke-width="2.6" opacity="0.26"/>
<ellipse cx="893" cy="48" rx="7" ry="9" fill="url(#pg)" opacity="0.62"/>
<ellipse cx="851" cy="64" rx="8" ry="10" fill="url(#pg)" opacity="0.62"/>
<ellipse cx="809" cy="106" rx="14" ry="18" fill="url(#pg)" opacity="0.91"/>
<ellipse cx="809" cy="106" rx="12.5" ry="16.5" fill="none" stroke="#cccccc" stroke-width="2.6" opacity="0.73"/>
<ellipse cx="848" cy="96" rx="9" ry="10" fill="url(#pg)" opacity="0.44"/>
<ellipse cx="923" cy="106" rx="25" ry="34" fill="url(#pg)" opacity="0.94" transform="rotate(20 923 106)"/>
<ellipse cx="923" cy="106" rx="23.5" ry="32.5" fill="none" stroke="#cccccc" stroke-width="2.6" opacity="0.80" transform="rotate(20 923 106)"/>
<ellipse cx="976" cy="86" rx="9" ry="11" fill="url(#pg)" opacity="0.70"/>
<ellipse cx="757" cy="128" rx="10" ry="15" fill="url(#pg)" opacity="0.39"/>
<ellipse cx="762" cy="158" rx="14" ry="16" fill="url(#pg)" opacity="0.91"/>
<ellipse cx="762" cy="158" rx="12.5" ry="14.5" fill="none" stroke="#cccccc" stroke-width="2.6" opacity="0.73"/>
<ellipse cx="840" cy="154" rx="10" ry="13" fill="url(#pg)" opacity="0.81"/>
<ellipse cx="840" cy="154" rx="8.5" ry="11.5" fill="none" stroke="#cccccc" stroke-width="2.6" opacity="0.43"/>
<ellipse cx="900" cy="163" rx="10" ry="13" fill="url(#pg)" opacity="0.77"/>
<ellipse cx="900" cy="163" rx="8.5" ry="11.5" fill="none" stroke="#cccccc" stroke-width="2.6" opacity="0.34"/>
<ellipse cx="954" cy="178" rx="12" ry="15" fill="url(#pg)" opacity="0.84"/>
<ellipse cx="954" cy="178" rx="10.5" ry="13.5" fill="none" stroke="#cccccc" stroke-width="2.6" opacity="0.52"/>
<ellipse cx="925" cy="188" rx="10" ry="10" fill="url(#pg)" opacity="0.33"/>
<ellipse cx="922" cy="230" rx="17" ry="14" fill="url(#pg)" opacity="0.77"/>
<ellipse cx="922" cy="230" rx="15.5" ry="12.5" fill="none" stroke="#cccccc" stroke-width="2.6" opacity="0.34"/>
<ellipse cx="965" cy="234" rx="9" ry="9" fill="url(#pg)" opacity="0.70"/>
<ellipse cx="728" cy="224" rx="7" ry="11" fill="url(#pg)" opacity="0.70"/>
<ellipse cx="739" cy="255" rx="10" ry="12" fill="url(#pg)" opacity="0.81"/>
<ellipse cx="739" cy="255" rx="8.5" ry="10.5" fill="none" stroke="#cccccc" stroke-width="2.6" opacity="0.43"/>
<ellipse cx="953" cy="262" rx="16" ry="14" fill="url(#pg)" opacity="0.84"/>
<ellipse cx="953" cy="262" rx="14.5" ry="12.5" fill="none" stroke="#cccccc" stroke-width="2.6" opacity="0.52"/>
<ellipse cx="904" cy="268" rx="10" ry="13" fill="url(#pg)" opacity="0.74"/>
<ellipse cx="904" cy="268" rx="8.5" ry="11.5" fill="none" stroke="#cccccc" stroke-width="2.6" opacity="0.26"/>
<ellipse cx="809" cy="252" rx="10" ry="10" fill="url(#pg)" opacity="0.33"/>
<ellipse cx="1056" cy="12" rx="10" ry="8" fill="url(#pg)" opacity="0.62"/>
<ellipse cx="1077" cy="36" rx="10" ry="13" fill="url(#pg)" opacity="0.70"/>
<ellipse cx="1022" cy="56" rx="13" ry="15" fill="url(#pg)" opacity="0.87"/>
<ellipse cx="1022" cy="56" rx="11.5" ry="13.5" fill="none" stroke="#cccccc" stroke-width="2.6" opacity="0.62"/>
<ellipse cx="1102" cy="70" rx="11" ry="12" fill="url(#pg)" opacity="0.39"/>
<ellipse cx="1008" cy="124" rx="12" ry="14" fill="url(#pg)" opacity="0.81"/>
<ellipse cx="1008" cy="124" rx="10.5" ry="12.5" fill="none" stroke="#cccccc" stroke-width="2.6" opacity="0.43"/>
<ellipse cx="1042" cy="144" rx="15" ry="20" fill="url(#pg)" opacity="0.87"/>
<ellipse cx="1042" cy="144" rx="13.5" ry="18.5" fill="none" stroke="#cccccc" stroke-width="2.6" opacity="0.62"/>
<ellipse cx="1081" cy="138" rx="19" ry="29" fill="url(#pg)" opacity="0.74"/>
<ellipse cx="1081" cy="138" rx="17.5" ry="27.5" fill="none" stroke="#cccccc" stroke-width="2.6" opacity="0.26"/>
<ellipse cx="1072" cy="178" rx="10" ry="7" fill="url(#pg)" opacity="0.74"/>
<ellipse cx="1072" cy="178" rx="8.5" ry="5.5" fill="none" stroke="#cccccc" stroke-width="2.6" opacity="0.26"/>
<ellipse cx="1130" cy="144" rx="11" ry="16" fill="url(#pg)" opacity="0.77"/>
<ellipse cx="1130" cy="144" rx="9.5" ry="14.5" fill="none" stroke="#cccccc" stroke-width="2.6" opacity="0.34"/>
<ellipse cx="1206" cy="72" rx="12" ry="15" fill="url(#pg)" opacity="0.81"/>
<ellipse cx="1206" cy="72" rx="10.5" ry="13.5" fill="none" stroke="#cccccc" stroke-width="2.6" opacity="0.43"/>
<ellipse cx="1259" cy="78" rx="8" ry="9" fill="url(#pg)" opacity="0.39"/>
<ellipse cx="1198" cy="110" rx="10" ry="11" fill="url(#pg)" opacity="0.39"/>
<ellipse cx="1233" cy="112" rx="13" ry="14" fill="url(#pg)" opacity="0.77"/>
<ellipse cx="1233" cy="112" rx="11.5" ry="12.5" fill="none" stroke="#cccccc" stroke-width="2.6" opacity="0.34"/>
<ellipse cx="1218" cy="152" rx="15" ry="20" fill="url(#pg)" opacity="0.91"/>
<ellipse cx="1218" cy="152" rx="13.5" ry="18.5" fill="none" stroke="#cccccc" stroke-width="2.6" opacity="0.73"/>
<ellipse cx="1252" cy="146" rx="13" ry="17" fill="url(#pg)" opacity="0.74"/>
<ellipse cx="1252" cy="146" rx="11.5" ry="15.5" fill="none" stroke="#cccccc" stroke-width="2.6" opacity="0.26"/>
<ellipse cx="1180" cy="212" rx="14" ry="16" fill="url(#pg)" opacity="0.87"/>
<ellipse cx="1180" cy="212" rx="12.5" ry="14.5" fill="none" stroke="#cccccc" stroke-width="2.6" opacity="0.62"/>
<ellipse cx="1116" cy="214" rx="11" ry="13" fill="url(#pg)" opacity="0.77"/>
<ellipse cx="1116" cy="214" rx="9.5" ry="11.5" fill="none" stroke="#cccccc" stroke-width="2.6" opacity="0.34"/>
<ellipse cx="1090" cy="228" rx="9" ry="10" fill="url(#pg)" opacity="0.39"/>
<ellipse cx="1016" cy="224" rx="13" ry="15" fill="url(#pg)" opacity="0.87"/>
<ellipse cx="1016" cy="224" rx="11.5" ry="13.5" fill="none" stroke="#cccccc" stroke-width="2.6" opacity="0.62"/>
<ellipse cx="1035" cy="257" rx="13" ry="14" fill="url(#pg)" opacity="0.84"/>
<ellipse cx="1035" cy="257" rx="11.5" ry="12.5" fill="none" stroke="#cccccc" stroke-width="2.6" opacity="0.52"/>
<ellipse cx="1144" cy="266" rx="10" ry="15" fill="url(#pg)" opacity="0.66"/>
<ellipse cx="1212" cy="272" rx="19" ry="17" fill="url(#pg)" opacity="0.91"/>
<ellipse cx="1212" cy="272" rx="17.5" ry="15.5" fill="none" stroke="#cccccc" stroke-width="2.6" opacity="0.73"/>
<ellipse cx="1244" cy="260" rx="9" ry="10" fill="url(#pg)" opacity="0.62"/>
<ellipse cx="1286" cy="266" rx="8" ry="12" fill="url(#pg)" opacity="0.66"/>
<ellipse cx="1006" cy="196" rx="8" ry="8" fill="url(#pg)" opacity="0.39"/>
<ellipse cx="809" cy="294" rx="15" ry="17" fill="url(#pg)" opacity="0.74"/>
<ellipse cx="809" cy="294" rx="13.5" ry="15.5" fill="none" stroke="#cccccc" stroke-width="2.6" opacity="0.26"/>
<ellipse cx="838" cy="288" rx="10" ry="10" fill="url(#pg)" opacity="0.62"/>
<ellipse cx="838" cy="311" rx="13" ry="13" fill="url(#pg)" opacity="0.87"/>
<ellipse cx="838" cy="311" rx="11.5" ry="11.5" fill="none" stroke="#cccccc" stroke-width="2.6" opacity="0.62"/>
<ellipse cx="756" cy="308" rx="9" ry="13" fill="url(#pg)" opacity="0.70"/>
<ellipse cx="793" cy="312" rx="8" ry="10" fill="url(#pg)" opacity="0.39"/>
<ellipse cx="989" cy="296" rx="13" ry="23" fill="url(#pg)" opacity="0.81" transform="rotate(20 989 296)"/>
<ellipse cx="989" cy="296" rx="11.5" ry="21.5" fill="none" stroke="#cccccc" stroke-width="2.6" opacity="0.43" transform="rotate(20 989 296)"/>
<ellipse cx="933" cy="334" rx="17" ry="18" fill="url(#pg)" opacity="0.94"/>
<ellipse cx="933" cy="334" rx="15.5" ry="16.5" fill="none" stroke="#cccccc" stroke-width="2.6" opacity="0.80"/>
<ellipse cx="935" cy="364" rx="10" ry="13" fill="url(#pg)" opacity="0.66"/>
<ellipse cx="883" cy="370" rx="20" ry="24" fill="url(#pg)" opacity="0.91"/>
<ellipse cx="883" cy="370" rx="18.5" ry="22.5" fill="none" stroke="#cccccc" stroke-width="2.6" opacity="0.73"/>
<ellipse cx="982" cy="378" rx="11" ry="16" fill="url(#pg)" opacity="0.84"/>
<ellipse cx="982" cy="378" rx="9.5" ry="14.5" fill="none" stroke="#cccccc" stroke-width="2.6" opacity="0.52"/>
<ellipse cx="937" cy="405" rx="10" ry="11" fill="url(#pg)" opacity="0.74"/>
<ellipse cx="937" cy="405" rx="8.5" ry="9.5" fill="none" stroke="#cccccc" stroke-width="2.6" opacity="0.26"/>
<ellipse cx="743" cy="412" rx="11" ry="14" fill="url(#pg)" opacity="0.87"/>
<ellipse cx="743" cy="412" rx="9.5" ry="12.5" fill="none" stroke="#cccccc" stroke-width="2.6" opacity="0.62"/>
<ellipse cx="771" cy="422" rx="11" ry="12" fill="url(#pg)" opacity="0.74"/>
<ellipse cx="771" cy="422" rx="9.5" ry="10.5" fill="none" stroke="#cccccc" stroke-width="2.6" opacity="0.26"/>
<ellipse cx="817" cy="388" rx="9" ry="9" fill="url(#pg)" opacity="0.39"/>
<ellipse cx="820" cy="416" rx="14" ry="20" fill="url(#pg)" opacity="0.74"/>
<ellipse cx="820" cy="416" rx="12.5" ry="18.5" fill="none" stroke="#cccccc" stroke-width="2.6" opacity="0.26"/>
<ellipse cx="834" cy="450" rx="10" ry="13" fill="url(#pg)" opacity="0.81"/>
<ellipse cx="834" cy="450" rx="8.5" ry="11.5" fill="none" stroke="#cccccc" stroke-width="2.6" opacity="0.43"/>
<ellipse cx="795" cy="498" rx="17" ry="17" fill="url(#pg)" opacity="0.91"/>
<ellipse cx="795" cy="498" rx="15.5" ry="15.5" fill="none" stroke="#cccccc" stroke-width="2.6" opacity="0.73"/>
<ellipse cx="867" cy="506" rx="16" ry="12" fill="url(#pg)" opacity="0.70"/>
<ellipse cx="911" cy="510" rx="9" ry="7" fill="url(#pg)" opacity="0.66"/>
<ellipse cx="943" cy="458" rx="17" ry="15" fill="url(#pg)" opacity="0.74"/>
<ellipse cx="943" cy="458" rx="15.5" ry="13.5" fill="none" stroke="#cccccc" stroke-width="2.6" opacity="0.26"/>
<ellipse cx="965" cy="488" rx="12" ry="13" fill="url(#pg)" opacity="0.74"/>
<ellipse cx="965" cy="488" rx="10.5" ry="11.5" fill="none" stroke="#cccccc" stroke-width="2.6" opacity="0.26"/>
<ellipse cx="1005" cy="452" rx="9" ry="14" fill="url(#pg)" opacity="0.66"/>
<ellipse cx="975" cy="414" rx="8" ry="8" fill="url(#pg)" opacity="0.33"/>
<ellipse cx="748" cy="440" rx="8" ry="8" fill="url(#pg)" opacity="0.33"/>
<ellipse cx="795" cy="450" rx="10" ry="10" fill="url(#pg)" opacity="0.33"/>
<ellipse cx="1037" cy="300" rx="24" ry="24" fill="url(#pg)" opacity="0.84"/>
<ellipse cx="1037" cy="300" rx="22.5" ry="22.5" fill="none" stroke="#cccccc" stroke-width="2.6" opacity="0.52"/>
<ellipse cx="1116" cy="292" rx="12" ry="16" fill="url(#pg)" opacity="0.87"/>
<ellipse cx="1116" cy="292" rx="10.5" ry="14.5" fill="none" stroke="#cccccc" stroke-width="2.6" opacity="0.62"/>
<ellipse cx="1240" cy="344" rx="16" ry="19" fill="url(#pg)" opacity="0.91"/>
<ellipse cx="1240" cy="344" rx="14.5" ry="17.5" fill="none" stroke="#cccccc" stroke-width="2.6" opacity="0.73"/>
<ellipse cx="1288" cy="356" rx="6" ry="12" fill="url(#pg)" opacity="0.74"/>
<ellipse cx="1288" cy="356" rx="4.5" ry="10.5" fill="none" stroke="#cccccc" stroke-width="2.6" opacity="0.26"/>
<ellipse cx="1214" cy="382" rx="9" ry="11" fill="url(#pg)" opacity="0.70"/>
<ellipse cx="1048" cy="398" rx="19" ry="19" fill="url(#pg)" opacity="0.91"/>
<ellipse cx="1048" cy="398" rx="17.5" ry="17.5" fill="none" stroke="#cccccc" stroke-width="2.6" opacity="0.73"/>
<ellipse cx="1012" cy="420" rx="13" ry="15" fill="url(#pg)" opacity="0.77" transform="rotate(30 1012 420)"/>
<ellipse cx="1012" cy="420" rx="11.5" ry="13.5" fill="none" stroke="#cccccc" stroke-width="2.6" opacity="0.34" transform="rotate(30 1012 420)"/>
<ellipse cx="1162" cy="414" rx="9" ry="13" fill="url(#pg)" opacity="0.77"/>
<ellipse cx="1162" cy="414" rx="7.5" ry="11.5" fill="none" stroke="#cccccc" stroke-width="2.6" opacity="0.34"/>
<ellipse cx="1092" cy="382" rx="7" ry="9" fill="url(#pg)" opacity="0.33"/>
<ellipse cx="1134" cy="448" rx="10" ry="13" fill="url(#pg)" opacity="0.62"/>
<ellipse cx="1058" cy="440" rx="7" ry="8" fill="url(#pg)" opacity="0.39"/>
<ellipse cx="1086" cy="476" rx="11" ry="16" fill="url(#pg)" opacity="0.74"/>
<ellipse cx="1086" cy="476" rx="9.5" ry="14.5" fill="none" stroke="#cccccc" stroke-width="2.6" opacity="0.26"/>
<ellipse cx="1020" cy="492" rx="9" ry="12" fill="url(#pg)" opacity="0.74"/>
<ellipse cx="1020" cy="492" rx="7.5" ry="10.5" fill="none" stroke="#cccccc" stroke-width="2.6" opacity="0.26"/>
<ellipse cx="1048" cy="482" rx="7" ry="9" fill="url(#pg)" opacity="0.33"/>
<ellipse cx="1216" cy="462" rx="12" ry="8" fill="url(#pg)" opacity="0.66"/>
<ellipse cx="1276" cy="460" rx="11" ry="12" fill="url(#pg)" opacity="0.74"/>
<ellipse cx="1276" cy="460" rx="9.5" ry="10.5" fill="none" stroke="#cccccc" stroke-width="2.6" opacity="0.26"/>
<ellipse cx="1284" cy="434" rx="7" ry="9" fill="url(#pg)" opacity="0.33"/>
<ellipse cx="1172" cy="512" rx="11" ry="7" fill="url(#pg)" opacity="0.74"/>
<ellipse cx="1172" cy="512" rx="9.5" ry="5.5" fill="none" stroke="#cccccc" stroke-width="2.6" opacity="0.26"/>
<ellipse cx="1144" cy="266" rx="10" ry="15" fill="url(#pg)" opacity="0.66"/></g>
<rect x="722" y="7" width="571" height="2" fill="#1c1c1c"/>
</g>
<text x="178" y="69" font-size="52" font-weight="bold" fill="#fff">a</text>
<text x="752" y="73" font-size="55" font-weight="bold" fill="#fff">b</text>
<rect x="582" y="467" width="66" height="14" fill="#fff"/>
<text x="567" y="451" font-size="30" fill="#fff" textLength="82" lengthAdjust="spacingAndGlyphs">0.5 µm</text>
<rect x="1131" y="466" width="123" height="15" fill="#fff"/>
<text x="1155" y="454" font-size="30" fill="#fff" textLength="59" lengthAdjust="spacingAndGlyphs">1 µm</text>
<text x="107" y="603" font-size="50" font-weight="bold" fill="#000" textLength="33" lengthAdjust="spacingAndGlyphs">B</text>
<text x="154" y="647" font-size="52" font-weight="bold" fill="#000">a</text>
<g clip-path="url(#cAFM)">
<rect x="40" y="560" width="700" height="560" fill="#3e2000"/>
<g filter="url(#fb1)">
<path d="M293.9,585.5C296.7,569.2 313.6,552.9 322.0,552.9C330.5,552.9 347.4,569.2 350.2,585.5Z" fill="url(#h1)"/>
<path d="M361.7,595.0C365.1,577.2 385.7,559.4 396.0,559.4C406.3,559.4 426.9,577.2 430.3,595.0Z" fill="url(#h0)"/>
<path d="M330.8,602.4C334.1,585.7 354.0,568.9 364.0,568.9C373.9,568.9 393.8,585.7 397.1,602.4Z" fill="url(#h3)"/>
<path d="M393.5,616.0C397.1,603.0 418.6,590.0 429.4,590.0C440.2,590.0 461.8,603.0 465.4,616.0Z" fill="url(#h3)"/>
<path d="M316.6,616.9C319.1,601.8 334.0,586.7 341.5,586.7C348.9,586.7 363.8,601.8 366.3,616.9Z" fill="url(#h1)"/>
<path d="M278.2,627.4C280.5,605.9 294.8,584.4 301.9,584.4C309.1,584.4 323.3,605.9 325.7,627.4Z" fill="url(#h0)"/>
<path d="M437.1,628.0C439.8,614.1 455.9,600.3 464.0,600.3C472.1,600.3 488.3,614.1 491.0,628.0Z" fill="url(#h3)"/>
<path d="M340.2,632.5C343.3,609.2 361.4,586.0 370.4,586.0C379.5,586.0 397.6,609.2 400.6,632.5Z" fill="url(#h3)"/>
<path d="M292.2,633.1C295.0,616.8 311.8,600.5 320.2,600.5C328.6,600.5 345.5,616.8 348.3,633.1Z" fill="url(#h0)"/>
<path d="M379.3,637.9C381.6,624.7 395.4,611.5 402.3,611.5C409.3,611.5 423.1,624.7 425.4,637.9Z" fill="url(#h3)"/>
<path d="M404.8,641.5C407.5,621.6 423.3,601.8 431.2,601.8C439.1,601.8 454.9,621.6 457.6,641.5Z" fill="url(#h3)"/>
<path d="M282.0,644.0C283.8,626.0 294.6,608.0 300.0,608.0C305.4,608.0 316.2,626.0 318.0,644.0Z" fill="url(#h1)"/>
<path d="M252.4,650.7C256.0,629.2 277.6,607.6 288.4,607.6C299.2,607.6 320.7,629.2 324.3,650.7Z" fill="url(#h1)"/>
<path d="M312.0,654.0C313.8,636.0 324.6,618.0 330.0,618.0C335.4,618.0 346.2,636.0 348.0,654.0Z" fill="url(#h1)"/>
<path d="M325.2,654.5C328.1,637.7 345.4,620.9 354.0,620.9C362.7,620.9 380.0,637.7 382.9,654.5Z" fill="url(#h1)"/>
<path d="M375.3,655.2C377.3,641.9 389.6,628.5 395.8,628.5C401.9,628.5 414.2,641.9 416.3,655.2Z" fill="url(#h0)"/>
<path d="M264.7,657.5C267.6,641.0 285.3,624.5 294.2,624.5C303.1,624.5 320.8,641.0 323.7,657.5Z" fill="url(#h1)"/>
<path d="M462.9,660.1C466.7,638.7 489.0,617.3 500.2,617.3C511.3,617.3 533.6,638.7 537.4,660.1Z" fill="url(#h3)"/>
<path d="M424.5,663.4C427.4,650.1 444.2,636.8 452.6,636.8C461.1,636.8 477.9,650.1 480.7,663.4Z" fill="url(#h3)"/>
<path d="M227.1,665.4C230.9,646.5 253.6,627.5 265.0,627.5C276.4,627.5 299.1,646.5 302.9,665.4Z" fill="url(#h1)"/>
<path d="M265.7,675.7C267.8,662.3 280.5,648.8 286.9,648.8C293.2,648.8 305.9,662.3 308.0,675.7Z" fill="url(#h1)"/>
<path d="M394.0,676.0C397.0,659.3 415.2,642.6 424.4,642.6C433.5,642.6 451.7,659.3 454.8,676.0Z" fill="url(#h3)"/>
<path d="M295.3,681.5C298.9,661.8 320.4,642.1 331.2,642.1C341.9,642.1 363.4,661.8 367.0,681.5Z" fill="url(#h1)"/>
<path d="M193.9,682.9C197.2,659.0 216.8,635.1 226.6,635.1C236.4,635.1 256.0,659.0 259.2,682.9Z" fill="url(#h1)"/>
<path d="M499.8,683.6C502.7,661.8 519.9,640.0 528.5,640.0C537.0,640.0 554.2,661.8 557.1,683.6Z" fill="url(#h3)"/>
<path d="M403.0,686.0C404.8,661.0 415.6,636.0 421.0,636.0C426.4,636.0 437.2,661.0 439.0,686.0Z" fill="url(#h2)"/>
<path d="M464.0,686.8C466.0,666.2 478.0,645.7 484.0,645.7C489.9,645.7 501.9,666.2 503.9,686.8Z" fill="url(#h3)"/>
<path d="M222.0,688.7C225.5,669.7 246.0,650.7 256.2,650.7C266.5,650.7 287.0,669.7 290.4,688.7Z" fill="url(#h1)"/>
<path d="M327.5,690.1C331.2,674.6 353.4,659.1 364.5,659.1C375.6,659.1 397.8,674.6 401.5,690.1Z" fill="url(#h1)"/>
<path d="M523.8,693.6C527.1,669.8 547.4,646.0 557.5,646.0C567.6,646.0 587.9,669.8 591.2,693.6Z" fill="url(#h3)"/>
<path d="M375.6,693.9C378.6,678.5 396.9,663.1 406.0,663.1C415.2,663.1 433.5,678.5 436.5,693.9Z" fill="url(#h0)"/>
<path d="M226.0,694.0C228.0,673.0 240.0,652.0 246.0,652.0C252.0,652.0 264.0,673.0 266.0,694.0Z" fill="url(#h1)"/>
<path d="M271.0,700.0C273.1,680.0 285.7,660.0 292.0,660.0C298.3,660.0 310.9,680.0 313.0,700.0Z" fill="url(#h1)"/>
<path d="M300.1,701.1C302.3,685.8 315.5,670.6 322.1,670.6C328.6,670.6 341.8,685.8 344.0,701.1Z" fill="url(#h1)"/>
<path d="M177.7,703.4C180.2,679.5 194.6,655.7 201.8,655.7C209.0,655.7 223.4,679.5 225.8,703.4Z" fill="url(#h1)"/>
<path d="M570.6,708.3C573.2,687.0 588.8,665.8 596.6,665.8C604.4,665.8 620.0,687.0 622.6,708.3Z" fill="url(#h3)"/>
<path d="M453.0,709.0C454.8,685.0 465.6,661.0 471.0,661.0C476.4,661.0 487.2,685.0 489.0,709.0Z" fill="url(#h2)"/>
<path d="M594.2,712.0C597.8,692.2 619.6,672.3 630.5,672.3C641.3,672.3 663.1,692.2 666.7,712.0Z" fill="url(#h3)"/>
<path d="M483.0,714.5C486.8,693.3 509.7,672.1 521.1,672.1C532.6,672.1 555.5,693.3 559.3,714.5Z" fill="url(#h3)"/>
<path d="M320.0,719.0C323.2,691.5 342.4,664.0 352.0,664.0C361.6,664.0 380.8,691.5 384.0,719.0Z" fill="url(#h1)"/>
<path d="M646.0,719.4C648.1,698.7 660.4,678.1 666.6,678.1C672.8,678.1 685.2,698.7 687.2,719.4Z" fill="url(#h0)"/>
<path d="M288.8,719.5C291.6,704.5 308.7,689.5 317.2,689.5C325.8,689.5 342.8,704.5 345.7,719.5Z" fill="url(#h1)"/>
<path d="M324.3,720.2C328.0,706.0 350.6,691.9 361.8,691.9C373.1,691.9 395.6,706.0 399.4,720.2Z" fill="url(#h0)"/>
<path d="M245.3,720.2C248.4,698.1 266.9,676.0 276.2,676.0C285.5,676.0 304.1,698.1 307.2,720.2Z" fill="url(#h1)"/>
<path d="M356.0,722.0C358.0,695.0 370.0,668.0 376.0,668.0C382.0,668.0 394.0,695.0 396.0,722.0Z" fill="url(#h2)"/>
<path d="M609.0,723.0C611.1,702.0 623.7,681.0 630.0,681.0C636.3,681.0 648.9,702.0 651.0,723.0Z" fill="url(#h1)"/>
<path d="M421.5,724.1C423.5,699.5 435.2,674.8 441.1,674.8C447.0,674.8 458.7,699.5 460.6,724.1Z" fill="url(#h3)"/>
<path d="M368.9,724.6C372.3,707.7 392.9,690.8 403.1,690.8C413.4,690.8 434.0,707.7 437.4,724.6Z" fill="url(#h0)"/>
<path d="M407.3,726.2C410.4,713.0 429.1,699.9 438.4,699.9C447.7,699.9 466.3,713.0 469.4,726.2Z" fill="url(#h0)"/>
<path d="M444.4,726.7C447.5,707.8 465.6,688.9 474.7,688.9C483.8,688.9 501.9,707.8 505.0,726.7Z" fill="url(#h0)"/>
<path d="M555.1,727.9C558.0,707.6 575.7,687.2 584.5,687.2C593.3,687.2 610.9,707.6 613.9,727.9Z" fill="url(#h3)"/>
<path d="M427.0,732.0C429.3,709.0 443.1,686.0 450.0,686.0C456.9,686.0 470.7,709.0 473.0,732.0Z" fill="url(#h1)"/>
<path d="M315.9,733.4C319.7,715.3 342.4,697.3 353.8,697.3C365.2,697.3 387.9,715.3 391.7,733.4Z" fill="url(#h1)"/>
<path d="M513.9,734.5C516.0,716.3 528.9,698.1 535.4,698.1C541.9,698.1 554.8,716.3 556.9,734.5Z" fill="url(#h3)"/>
<path d="M135.4,735.1C138.5,720.3 157.5,705.6 167.0,705.6C176.6,705.6 195.6,720.3 198.7,735.1Z" fill="url(#h1)"/>
<path d="M680.2,735.9C682.8,714.0 698.9,692.2 706.9,692.2C715.0,692.2 731.0,714.0 733.7,735.9Z" fill="url(#h3)"/>
<path d="M206.5,736.2C209.6,711.3 227.8,686.3 236.9,686.3C246.0,686.3 264.2,711.3 267.2,736.2Z" fill="url(#h1)"/>
<path d="M559.0,739.0C560.5,717.0 569.5,695.0 574.0,695.0C578.5,695.0 587.5,717.0 589.0,739.0Z" fill="url(#h2)"/>
<path d="M479.7,739.6C482.6,726.4 500.1,713.3 508.9,713.3C517.7,713.3 535.2,726.4 538.2,739.6Z" fill="url(#h0)"/>
<path d="M476.3,739.7C479.1,715.2 495.4,690.7 503.6,690.7C511.8,690.7 528.2,715.2 530.9,739.7Z" fill="url(#h0)"/>
<path d="M504.0,740.0C506.3,712.0 520.1,684.0 527.0,684.0C533.9,684.0 547.7,712.0 550.0,740.0Z" fill="url(#h2)"/>
<path d="M550.7,740.1C553.2,724.8 568.4,709.5 576.0,709.5C583.6,709.5 598.8,724.8 601.3,740.1Z" fill="url(#h3)"/>
<path d="M620.7,741.1C624.4,723.5 646.8,706.0 657.9,706.0C669.1,706.0 691.4,723.5 695.1,741.1Z" fill="url(#h3)"/>
<path d="M179.4,742.8C182.4,722.2 200.4,701.7 209.4,701.7C218.4,701.7 236.5,722.2 239.5,742.8Z" fill="url(#h1)"/>
<path d="M218.3,744.1C220.9,722.2 236.4,700.2 244.1,700.2C251.9,700.2 267.4,722.2 270.0,744.1Z" fill="url(#h1)"/>
<path d="M238.0,747.1C241.5,726.7 262.6,706.2 273.2,706.2C283.7,706.2 304.8,726.7 308.4,747.1Z" fill="url(#h1)"/>
<path d="M450.1,748.8C452.9,726.9 469.8,705.0 478.2,705.0C486.6,705.0 503.4,726.9 506.3,748.8Z" fill="url(#h3)"/>
<path d="M462.0,751.0C464.1,728.0 476.7,705.0 483.0,705.0C489.3,705.0 501.9,728.0 504.0,751.0Z" fill="url(#h1)"/>
<path d="M222.0,752.0C223.7,731.0 233.9,710.0 239.0,710.0C244.1,710.0 254.3,731.0 256.0,752.0Z" fill="url(#h1)"/>
<path d="M586.4,755.8C588.3,740.5 600.0,725.1 605.8,725.1C611.6,725.1 623.3,740.5 625.3,755.8Z" fill="url(#h3)"/>
<path d="M365.4,756.5C367.9,735.7 382.7,714.8 390.2,714.8C397.6,714.8 412.4,735.7 414.9,756.5Z" fill="url(#h1)"/>
<path d="M601.0,758.0C602.5,738.0 611.5,718.0 616.0,718.0C620.5,718.0 629.5,738.0 631.0,758.0Z" fill="url(#h1)"/>
<path d="M397.2,758.5C399.7,745.4 414.7,732.2 422.1,732.2C429.6,732.2 444.6,745.4 447.0,758.5Z" fill="url(#h0)"/>
<path d="M416.6,762.1C420.0,744.4 440.5,726.8 450.7,726.8C461.0,726.8 481.4,744.4 484.8,762.1Z" fill="url(#h1)"/>
<path d="M180.7,764.2C183.1,742.0 197.1,719.8 204.1,719.8C211.2,719.8 225.2,742.0 227.5,764.2Z" fill="url(#h1)"/>
<path d="M668.8,766.3C671.6,745.5 688.6,724.6 697.1,724.6C705.5,724.6 722.5,745.5 725.3,766.3Z" fill="url(#h3)"/>
<path d="M280.0,767.6C282.4,744.9 296.9,722.2 304.2,722.2C311.4,722.2 325.9,744.9 328.3,767.6Z" fill="url(#h1)"/>
<path d="M650.5,770.1C652.8,750.7 666.6,731.4 673.5,731.4C680.4,731.4 694.1,750.7 696.4,770.1Z" fill="url(#h3)"/>
<path d="M693.0,771.0C694.8,750.0 705.6,729.0 711.0,729.0C716.4,729.0 727.2,750.0 729.0,771.0Z" fill="url(#h1)"/>
<path d="M107.7,771.8C111.4,752.6 133.2,733.4 144.1,733.4C155.1,733.4 176.9,752.6 180.5,771.8Z" fill="url(#h1)"/>
<path d="M164.0,772.0C166.5,742.0 181.5,712.0 189.0,712.0C196.5,712.0 211.5,742.0 214.0,772.0Z" fill="url(#h2)"/>
<path d="M355.8,772.4C358.5,758.2 374.3,744.1 382.2,744.1C390.1,744.1 406.0,758.2 408.6,772.4Z" fill="url(#h1)"/>
<path d="M156.3,774.9C159.3,760.1 177.1,745.3 186.0,745.3C194.9,745.3 212.8,760.1 215.7,774.9Z" fill="url(#h1)"/>
<path d="M632.0,777.0C633.7,758.0 643.9,739.0 649.0,739.0C654.1,739.0 664.3,758.0 666.0,777.0Z" fill="url(#h1)"/>
<path d="M511.9,778.3C515.5,757.7 537.3,737.2 548.1,737.2C559.0,737.2 580.7,757.7 584.3,778.3Z" fill="url(#h3)"/>
<path d="M685.1,778.4C687.3,763.0 700.6,747.5 707.3,747.5C713.9,747.5 727.2,763.0 729.4,778.4Z" fill="url(#h3)"/>
<path d="M259.0,779.0C261.1,753.0 273.7,727.0 280.0,727.0C286.3,727.0 298.9,753.0 301.0,779.0Z" fill="url(#h2)"/>
<path d="M381.0,781.6C384.1,762.8 402.2,744.0 411.3,744.0C420.4,744.0 438.6,762.8 441.6,781.6Z" fill="url(#h1)"/>
<path d="M217.1,783.5C219.7,758.9 235.1,734.3 242.8,734.3C250.6,734.3 266.0,758.9 268.6,783.5Z" fill="url(#h1)"/>
<path d="M450.4,783.6C454.3,759.3 477.6,735.0 489.2,735.0C500.8,735.0 524.1,759.3 528.0,783.6Z" fill="url(#h3)"/>
<path d="M315.8,785.3C318.4,765.7 333.7,746.1 341.3,746.1C349.0,746.1 364.3,765.7 366.8,785.3Z" fill="url(#h1)"/>
<path d="M316.0,786.0C317.7,764.0 327.9,742.0 333.0,742.0C338.1,742.0 348.3,764.0 350.0,786.0Z" fill="url(#h2)"/>
<path d="M545.9,787.9C549.7,765.2 572.9,742.6 584.5,742.6C596.1,742.6 619.3,765.2 623.2,787.9Z" fill="url(#h3)"/>
<path d="M244.3,790.5C247.7,769.0 267.7,747.5 277.8,747.5C287.8,747.5 307.8,769.0 311.2,790.5Z" fill="url(#h1)"/>
<path d="M121.7,792.8C124.5,779.7 140.8,766.5 149.0,766.5C157.1,766.5 173.5,779.7 176.2,792.8Z" fill="url(#h1)"/>
<path d="M663.9,795.1C666.7,782.0 683.7,768.8 692.3,768.8C700.8,768.8 717.8,782.0 720.6,795.1Z" fill="url(#h3)"/>
<path d="M587.7,795.6C591.2,777.8 612.4,759.9 623.0,759.9C633.5,759.9 654.7,777.8 658.2,795.6Z" fill="url(#h3)"/>
<path d="M541.0,800.0C543.4,777.0 557.8,754.0 565.0,754.0C572.2,754.0 586.6,777.0 589.0,800.0Z" fill="url(#h2)"/>
<path d="M628.9,800.5C632.4,784.9 653.0,769.2 663.3,769.2C673.6,769.2 694.2,784.9 697.6,800.5Z" fill="url(#h3)"/>
<path d="M639.2,800.7C642.3,795.7 660.7,790.7 669.9,790.7C679.1,790.7 697.5,795.7 700.5,800.7Z" fill="url(#h3)"/>
<path d="M423.0,800.7C425.0,785.1 437.3,769.6 443.5,769.6C449.7,769.6 462.0,785.1 464.0,800.7Z" fill="url(#h1)"/>
<path d="M605.9,802.1C608.9,789.1 626.6,776.0 635.5,776.0C644.4,776.0 662.1,789.1 665.1,802.1Z" fill="url(#h3)"/>
<path d="M583.3,802.9C585.5,791.7 598.3,780.6 604.6,780.6C611.0,780.6 623.8,791.7 625.9,802.9Z" fill="url(#h3)"/>
<path d="M531.8,803.9C535.1,790.7 555.2,777.6 565.2,777.6C575.2,777.6 595.3,790.7 598.7,803.9Z" fill="url(#h1)"/>
<path d="M503.2,804.4C506.9,798.1 529.4,791.8 540.6,791.8C551.8,791.8 574.2,798.1 577.9,804.4Z" fill="url(#h1)"/>
<path d="M501.3,804.5C504.2,780.0 521.3,755.5 529.9,755.5C538.4,755.5 555.6,780.0 558.4,804.5Z" fill="url(#h3)"/>
<path d="M469.1,805.0C472.5,790.6 492.6,776.1 502.6,776.1C512.7,776.1 532.8,790.6 536.2,805.0Z" fill="url(#h3)"/>
<path d="M439.1,805.6C442.5,786.0 462.6,766.4 472.6,766.4C482.7,766.4 502.8,786.0 506.1,805.6Z" fill="url(#h0)"/>
<path d="M423.0,805.8C426.9,799.4 449.9,793.0 461.4,793.0C473.0,793.0 496.0,799.4 499.8,805.8Z" fill="url(#h0)"/>
<path d="M83.6,805.8C86.8,783.6 106.0,761.4 115.6,761.4C125.2,761.4 144.3,783.6 147.5,805.8Z" fill="url(#h1)"/>
<path d="M313.0,806.0C316.8,791.2 339.7,776.5 351.2,776.5C362.6,776.5 385.5,791.2 389.3,806.0Z" fill="url(#h1)"/>
<path d="M361.7,806.0C364.4,795.5 380.9,785.0 389.1,785.0C397.3,785.0 413.8,795.5 416.5,806.0Z" fill="url(#h0)"/>
<path d="M372.0,807.0C373.7,786.0 383.9,765.0 389.0,765.0C394.1,765.0 404.3,786.0 406.0,807.0Z" fill="url(#h1)"/>
<path d="M363.9,807.5C366.4,802.5 381.5,797.5 389.0,797.5C396.5,797.5 411.6,802.5 414.1,807.5Z" fill="url(#h1)"/>
<path d="M334.5,809.3C336.7,804.3 350.0,799.3 356.7,799.3C363.3,799.3 376.6,804.3 378.8,809.3Z" fill="url(#h1)"/>
<path d="M401.0,810.3C403.6,805.3 419.5,800.3 427.5,800.3C435.4,800.3 451.4,805.3 454.0,810.3Z" fill="url(#h0)"/>
<path d="M279.2,810.3C282.4,787.1 301.8,763.8 311.5,763.8C321.2,763.8 340.6,787.1 343.8,810.3Z" fill="url(#h1)"/>
<path d="M224.9,810.4C227.0,791.6 239.6,772.8 245.8,772.8C252.1,772.8 264.7,791.6 266.8,810.4Z" fill="url(#h1)"/>
<path d="M178.1,812.2C181.7,789.3 203.3,766.5 214.1,766.5C224.8,766.5 246.4,789.3 250.0,812.2Z" fill="url(#h1)"/>
<path d="M251.1,814.6C254.7,797.9 276.4,781.3 287.2,781.3C298.1,781.3 319.7,797.9 323.4,814.6Z" fill="url(#h1)"/>
<path d="M250.0,816.0C251.8,796.0 262.6,776.0 268.0,776.0C273.4,776.0 284.2,796.0 286.0,816.0Z" fill="url(#h1)"/>
<path d="M345,812 L450,812 L560,810 L640,808 L720,803" fill="none" stroke="#2a1200" stroke-width="16" stroke-linecap="round" stroke-linejoin="round" filter="url(#fb3)"/>
<path d="M359.0,823.0C360.7,802.0 370.9,781.0 376.0,781.0C381.1,781.0 391.3,802.0 393.0,823.0Z" fill="url(#h2)"/>
<path d="M189.2,826.6C191.8,805.8 207.3,785.0 215.0,785.0C222.8,785.0 238.3,805.8 240.9,826.6Z" fill="url(#h1)"/>
<path d="M152.0,834.5C155.5,813.6 176.3,792.7 186.8,792.7C197.2,792.7 218.1,813.6 221.6,834.5Z" fill="url(#h1)"/>
<path d="M77.6,836.9C80.9,814.8 100.6,792.7 110.4,792.7C120.3,792.7 139.9,814.8 143.2,836.9Z" fill="url(#h1)"/>
<path d="M157.0,839.0C159.0,818.0 171.0,797.0 177.0,797.0C183.0,797.0 195.0,818.0 197.0,839.0Z" fill="url(#h2)"/>
<path d="M213.5,844.4C217.0,821.5 237.9,798.6 248.3,798.6C258.7,798.6 279.6,821.5 283.1,844.4Z" fill="url(#h1)"/>
<path d="M300.2,844.5C302.3,821.6 314.8,798.7 321.1,798.7C327.3,798.7 339.8,821.6 341.9,844.5Z" fill="url(#h1)"/>
<path d="M488.3,845.5C492.0,832.1 514.3,818.6 525.5,818.6C536.6,818.6 558.9,832.1 562.7,845.5Z" fill="url(#h3)"/>
<path d="M622.1,848.7C624.8,833.3 640.8,818.0 648.9,818.0C656.9,818.0 672.9,833.3 675.6,848.7Z" fill="url(#h0)"/>
<path d="M142.2,849.2C145.9,829.9 168.2,810.6 179.3,810.6C190.4,810.6 212.7,829.9 216.4,849.2Z" fill="url(#h1)"/>
<path d="M456.5,849.6C460.0,834.4 480.7,819.3 491.0,819.3C501.4,819.3 522.1,834.4 525.6,849.6Z" fill="url(#h3)"/>
<path d="M549.6,851.3C552.1,834.4 567.2,817.6 574.7,817.6C582.2,817.6 597.3,834.4 599.8,851.3Z" fill="url(#h0)"/>
<path d="M92.0,852.0C93.8,834.0 104.6,816.0 110.0,816.0C115.4,816.0 126.2,834.0 128.0,852.0Z" fill="url(#h1)"/>
<path d="M241.5,852.3C245.2,832.8 267.4,813.2 278.5,813.2C289.7,813.2 311.9,832.8 315.6,852.3Z" fill="url(#h1)"/>
<path d="M591.8,855.4C594.2,838.0 608.6,820.7 615.8,820.7C623.0,820.7 637.4,838.0 639.8,855.4Z" fill="url(#h3)"/>
<path d="M187.9,855.6C190.5,841.9 205.7,828.2 213.4,828.2C221.0,828.2 236.2,841.9 238.8,855.6Z" fill="url(#h1)"/>
<path d="M562.6,855.8C565.0,840.7 579.8,825.7 587.2,825.7C594.6,825.7 609.4,840.7 611.8,855.8Z" fill="url(#h0)"/>
<path d="M400.9,856.9C403.0,839.2 415.7,821.5 422.0,821.5C428.4,821.5 441.0,839.2 443.2,856.9Z" fill="url(#h1)"/>
<path d="M280.3,857.7C283.6,832.8 303.6,808.0 313.5,808.0C323.5,808.0 343.5,832.8 346.8,857.7Z" fill="url(#h1)"/>
<path d="M109.5,857.9C113.0,834.6 134.5,811.3 145.2,811.3C156.0,811.3 177.4,834.6 181.0,857.9Z" fill="url(#h1)"/>
<path d="M629.0,858.0C630.8,839.0 641.6,820.0 647.0,820.0C652.4,820.0 663.2,839.0 665.0,858.0Z" fill="url(#h1)"/>
<path d="M532.3,861.3C534.7,839.7 548.9,818.1 556.1,818.1C563.2,818.1 577.4,839.7 579.8,861.3Z" fill="url(#h0)"/>
<path d="M431.5,862.8C434.7,849.7 454.0,836.5 463.6,836.5C473.2,836.5 492.5,849.7 495.7,862.8Z" fill="url(#h0)"/>
<path d="M358.4,865.7C360.8,845.8 375.2,825.8 382.3,825.8C389.5,825.8 403.8,845.8 406.2,865.7Z" fill="url(#h1)"/>
<path d="M268.8,866.5C270.9,848.1 283.8,829.7 290.3,829.7C296.7,829.7 309.6,848.1 311.8,866.5Z" fill="url(#h1)"/>
<path d="M471.2,869.9C474.3,851.4 492.4,832.9 501.5,832.9C510.6,832.9 528.8,851.4 531.8,869.9Z" fill="url(#h3)"/>
<path d="M378.0,871.0C380.3,852.0 394.1,833.0 401.0,833.0C407.9,833.0 421.7,852.0 424.0,871.0Z" fill="url(#h1)"/>
<path d="M290.9,877.3C294.2,858.0 314.0,838.7 323.8,838.7C333.7,838.7 353.4,858.0 356.7,877.3Z" fill="url(#h1)"/>
<path d="M285.0,878.0C287.3,860.0 301.1,842.0 308.0,842.0C314.9,842.0 328.7,860.0 331.0,878.0Z" fill="url(#h1)"/>
<path d="M223.0,879.5C226.1,857.5 244.7,835.5 254.0,835.5C263.2,835.5 281.8,857.5 284.9,879.5Z" fill="url(#h1)"/>
<path d="M584.2,880.9C587.7,862.2 609.0,843.4 619.6,843.4C630.2,843.4 651.4,862.2 654.9,880.9Z" fill="url(#h3)"/>
<path d="M39.2,851.3 L47.2,849.0 L55.1,846.4 L63.0,845.5 L71.0,843.1 L79.0,839.2 L86.9,839.6 L94.8,838.8 L102.8,838.6 L102.8,842.8 L94.8,842.8 L86.9,843.4 L79.0,843.0 L71.0,846.5 L63.0,848.5 L55.1,849.2 L47.2,851.5 L39.2,853.4Z" fill="rgb(217, 140, 20)"/>
<path d="M39.2,852.9 L47.2,850.8 L55.1,848.4 L63.0,847.7 L71.0,845.6 L79.0,842.0 L86.9,842.4 L94.8,841.8 L102.8,841.7 L102.8,845.9 L94.8,845.8 L86.9,846.3 L79.0,845.7 L71.0,848.9 L63.0,850.7 L55.1,851.2 L47.2,853.3 L39.2,855.0Z" fill="rgb(207, 129, 16)"/>
<path d="M39.2,854.4 L47.2,852.6 L55.1,850.5 L63.0,849.9 L71.0,848.0 L79.0,844.7 L86.9,845.3 L94.8,844.7 L102.8,844.8 L102.8,849.0 L94.8,848.8 L86.9,849.1 L79.0,848.5 L71.0,851.3 L63.0,852.9 L55.1,853.3 L47.2,855.1 L39.2,856.6Z" fill="rgb(196, 120, 14)"/>
<path d="M39.2,856.0 L47.2,854.5 L55.1,852.5 L63.0,852.1 L71.0,850.4 L79.0,847.5 L86.9,848.1 L94.8,847.7 L102.8,847.9 L102.8,852.1 L94.8,851.8 L86.9,851.9 L79.0,851.2 L71.0,853.8 L63.0,855.1 L55.1,855.3 L47.2,856.9 L39.2,858.2Z" fill="rgb(185, 111, 11)"/>
<path d="M39.2,857.6 L47.2,856.3 L55.1,854.6 L63.0,854.3 L71.0,852.9 L79.0,850.2 L86.9,850.9 L94.8,850.7 L102.8,850.9 L102.8,855.1 L94.8,854.7 L86.9,854.8 L79.0,854.0 L71.0,856.2 L63.0,857.3 L55.1,857.4 L47.2,858.7 L39.2,859.8Z" fill="rgb(177, 105, 10)"/>
<path d="M39.2,859.2 L47.2,858.1 L55.1,856.7 L63.0,856.5 L71.0,855.3 L79.0,853.0 L86.9,853.8 L94.8,853.7 L102.8,854.0 L102.8,858.2 L94.8,857.7 L86.9,857.6 L79.0,856.7 L71.0,858.6 L63.0,859.5 L55.1,859.5 L47.2,860.5 L39.2,861.4Z" fill="rgb(185, 111, 12)"/>
<path d="M39.2,860.8 L47.2,859.9 L55.1,858.7 L63.0,858.7 L71.0,857.8 L79.0,855.7 L86.9,856.6 L94.8,856.6 L102.8,857.1 L102.8,861.3 L94.8,860.7 L86.9,860.4 L79.0,859.5 L71.0,861.1 L63.0,861.7 L55.1,861.5 L47.2,862.3 L39.2,862.9Z" fill="rgb(184, 111, 12)"/>
<path d="M39.2,862.4 L47.2,861.7 L55.1,860.8 L63.0,860.9 L71.0,860.2 L79.0,858.5 L86.9,859.4 L94.8,859.6 L102.8,860.2 L102.8,864.4 L94.8,863.7 L86.9,863.3 L79.0,862.2 L71.0,863.5 L63.0,863.9 L55.1,863.6 L47.2,864.2 L39.2,864.5Z" fill="rgb(169, 99, 9)"/>
<path d="M39.2,864.0 L47.2,863.5 L55.1,862.8 L63.0,863.1 L71.0,862.6 L79.0,861.2 L86.9,862.2 L94.8,862.6 L102.8,863.3 L102.8,867.5 L94.8,866.6 L86.9,866.1 L79.0,865.0 L71.0,865.9 L63.0,866.1 L55.1,865.6 L47.2,866.0 L39.2,866.1Z" fill="rgb(154, 87, 6)"/>
<path d="M39.2,865.5 L47.2,865.3 L55.1,864.9 L63.0,865.3 L71.0,865.1 L79.0,864.0 L86.9,865.1 L94.8,865.6 L102.8,866.4 L102.8,870.6 L94.8,869.6 L86.9,868.9 L79.0,867.7 L71.0,868.4 L63.0,868.3 L55.1,867.7 L47.2,867.8 L39.2,867.7Z" fill="rgb(140, 77, 5)"/>
<path d="M39.2,867.1 L47.2,867.1 L55.1,866.9 L63.0,867.5 L71.0,867.5 L79.0,866.7 L86.9,867.9 L94.8,868.5 L102.8,869.5 L102.8,873.6 L94.8,872.6 L86.9,871.8 L79.0,870.5 L71.0,870.8 L63.0,870.5 L55.1,869.7 L47.2,869.6 L39.2,869.3Z" fill="rgb(125, 68, 4)"/>
<path d="M39.2,868.7 L47.2,868.9 L55.1,869.0 L63.0,869.7 L71.0,869.9 L79.0,869.5 L86.9,870.7 L94.8,871.5 L102.8,872.5 L102.8,876.7 L94.8,875.6 L86.9,874.6 L79.0,873.2 L71.0,873.2 L63.0,872.7 L55.1,871.8 L47.2,871.4 L39.2,870.9Z" fill="rgb(110, 58, 3)"/>
<path d="M39.2,870.3 L47.2,870.7 L55.1,871.1 L63.0,871.9 L71.0,872.4 L79.0,872.2 L86.9,873.6 L94.8,874.5 L102.8,875.6 L102.8,879.8 L94.8,878.5 L86.9,877.4 L79.0,876.0 L71.0,875.7 L63.0,874.9 L55.1,873.9 L47.2,873.2 L39.2,872.5Z" fill="rgb(96, 49, 2)"/>
<path d="M39.2,871.9 L47.2,872.6 L55.1,873.1 L63.0,874.1 L71.0,874.8 L79.0,875.0 L86.9,876.4 L94.8,877.5 L102.8,878.7 L102.8,882.9 L94.8,881.5 L86.9,880.2 L79.0,878.7 L71.0,878.1 L63.0,877.2 L55.1,875.9 L47.2,875.0 L39.2,874.0Z" fill="rgb(81, 40, 1)"/>
<path d="M39.2,873.5 L47.2,874.4 L55.1,875.2 L63.0,876.4 L71.0,877.2 L79.0,877.8 L86.9,879.2 L94.8,880.4 L102.8,881.8 L102.8,886.0 L94.8,884.5 L86.9,883.1 L79.0,881.5 L71.0,880.5 L63.0,879.4 L55.1,878.0 L47.2,876.8 L39.2,875.6Z" fill="rgb(69, 34, 1)"/>
<path d="M39.2,875.1 L47.2,876.2 L55.1,877.2 L63.0,878.6 L71.0,879.7 L79.0,880.5 L86.9,882.1 L94.8,883.4 L102.8,884.9 L102.8,889.1 L94.8,887.5 L86.9,885.9 L79.0,884.2 L71.0,883.0 L63.0,881.6 L55.1,880.0 L47.2,878.6 L39.2,877.2Z" fill="rgb(56, 27, 1)"/>
<path d="M39.2,876.6 L47.2,878.0 L55.1,879.3 L63.0,880.8 L71.0,882.1 L79.0,883.3 L86.9,884.9 L94.8,886.4 L102.8,888.0 L102.8,892.2 L94.8,890.4 L86.9,888.7 L79.0,887.0 L71.0,885.4 L63.0,883.8 L55.1,882.1 L47.2,880.5 L39.2,878.8Z" fill="rgb(44, 20, 0)"/>
<path d="M39.2,878.2 L47.2,879.8 L55.1,881.3 L63.0,883.0 L71.0,884.5 L79.0,886.0 L86.9,887.7 L94.8,889.4 L102.8,891.0 L102.8,894.1 L94.8,892.3 L86.9,890.6 L79.0,888.8 L71.0,887.0 L63.0,885.2 L55.1,883.4 L47.2,881.6 L39.2,879.8Z" fill="rgb(31, 14, 0)"/>
<path d="M332.4,883.6C334.8,869.8 349.0,856.0 356.1,856.0C363.2,856.0 377.5,869.8 379.8,883.6Z" fill="url(#h1)"/>
<path d="M328.6,884.0C330.9,859.6 344.7,835.3 351.6,835.3C358.4,835.3 372.2,859.6 374.5,884.0Z" fill="url(#h1)"/>
<path d="M419.5,886.9C423.2,867.4 445.4,847.9 456.6,847.9C467.7,847.9 489.9,867.4 493.6,886.9Z" fill="url(#h1)"/>
<path d="M55.4,847.0C57.1,840.8 66.9,834.5 71.8,834.5C76.7,834.5 86.5,840.8 88.2,847.0Z" fill="url(#hb)"/>
<path d="M388.7,892.4C391.3,873.8 407.1,855.3 414.9,855.3C422.8,855.3 438.5,873.8 441.2,892.4Z" fill="url(#h0)"/>
<path d="M551.7,895.3C554.2,878.3 569.2,861.2 576.7,861.2C584.2,861.2 599.1,878.3 601.6,895.3Z" fill="url(#h0)"/>
<path d="M101.2,839.5 L109.2,841.1 L117.1,841.0 L125.1,838.9 L133.0,839.0 L141.0,839.7 L148.9,841.0 L156.9,840.4 L164.8,841.8 L164.8,846.9 L156.9,845.4 L148.9,845.9 L141.0,844.5 L133.0,843.7 L125.1,843.4 L117.1,845.3 L109.2,845.2 L101.2,843.6Z" fill="rgb(217, 140, 20)"/>
<path d="M101.2,842.6 L109.2,844.1 L117.1,844.1 L125.1,842.2 L133.0,842.5 L141.0,843.2 L148.9,844.6 L156.9,844.0 L164.8,845.6 L164.8,850.6 L156.9,849.1 L148.9,849.4 L141.0,848.0 L133.0,847.2 L125.1,846.8 L117.1,848.4 L109.2,848.2 L101.2,846.6Z" fill="rgb(207, 129, 16)"/>
<path d="M101.2,845.6 L109.2,847.1 L117.1,847.3 L125.1,845.6 L133.0,845.9 L141.0,846.7 L148.9,848.1 L156.9,847.7 L164.8,849.3 L164.8,854.3 L156.9,852.8 L148.9,853.0 L141.0,851.5 L133.0,850.6 L125.1,850.1 L117.1,851.5 L109.2,851.3 L101.2,849.7Z" fill="rgb(196, 120, 14)"/>
<path d="M101.2,848.6 L109.2,850.2 L117.1,850.4 L125.1,848.9 L133.0,849.4 L141.0,850.2 L148.9,851.7 L156.9,851.4 L164.8,853.0 L164.8,858.1 L156.9,856.5 L148.9,856.5 L141.0,855.0 L133.0,854.1 L125.1,853.5 L117.1,854.6 L109.2,854.3 L101.2,852.7Z" fill="rgb(185, 111, 11)"/>
<path d="M101.2,851.6 L109.2,853.2 L117.1,853.5 L125.1,852.3 L133.0,852.8 L141.0,853.7 L148.9,855.2 L156.9,855.1 L164.8,856.7 L164.8,861.8 L156.9,860.2 L148.9,860.1 L141.0,858.5 L133.0,857.5 L125.1,856.8 L117.1,857.8 L109.2,857.3 L101.2,855.7Z" fill="rgb(177, 105, 10)"/>
<path d="M101.2,854.6 L109.2,856.2 L117.1,856.7 L125.1,855.6 L133.0,856.3 L141.0,857.3 L148.9,858.8 L156.9,858.8 L164.8,860.4 L164.8,865.5 L156.9,863.8 L148.9,863.6 L141.0,862.1 L133.0,861.0 L125.1,860.2 L117.1,860.9 L109.2,860.3 L101.2,858.7Z" fill="rgb(185, 111, 12)"/>
<path d="M101.2,857.6 L109.2,859.2 L117.1,859.8 L125.1,859.0 L133.0,859.7 L141.0,860.8 L148.9,862.3 L156.9,862.5 L164.8,864.1 L164.8,869.2 L156.9,867.5 L148.9,867.2 L141.0,865.6 L133.0,864.4 L125.1,863.5 L117.1,864.0 L109.2,863.4 L101.2,861.7Z" fill="rgb(184, 111, 12)"/>
<path d="M101.2,860.6 L109.2,862.3 L117.1,862.9 L125.1,862.3 L133.0,863.2 L141.0,864.3 L148.9,865.9 L156.9,866.2 L164.8,867.9 L164.8,872.9 L156.9,871.2 L148.9,870.7 L141.0,869.1 L133.0,867.9 L125.1,866.9 L117.1,867.2 L109.2,866.4 L101.2,864.7Z" fill="rgb(169, 99, 9)"/>
<path d="M101.2,863.6 L109.2,865.3 L117.1,866.0 L125.1,865.7 L133.0,866.6 L141.0,867.8 L148.9,869.4 L156.9,869.9 L164.8,871.6 L164.8,876.6 L156.9,874.9 L148.9,874.3 L141.0,872.6 L133.0,871.3 L125.1,870.2 L117.1,870.3 L109.2,869.4 L101.2,867.7Z" fill="rgb(154, 87, 6)"/>
<path d="M101.2,866.7 L109.2,868.3 L117.1,869.2 L125.1,869.0 L133.0,870.1 L141.0,871.3 L148.9,873.0 L156.9,873.6 L164.8,875.3 L164.8,880.4 L156.9,878.6 L148.9,877.8 L141.0,876.1 L133.0,874.8 L125.1,873.6 L117.1,873.4 L109.2,872.4 L101.2,870.8Z" fill="rgb(140, 77, 5)"/>
<path d="M101.2,869.7 L109.2,871.4 L117.1,872.3 L125.1,872.4 L133.0,873.5 L141.0,874.9 L148.9,876.5 L156.9,877.3 L164.8,879.0 L164.8,884.1 L156.9,882.3 L148.9,881.4 L141.0,879.7 L133.0,878.2 L125.1,876.9 L117.1,876.6 L109.2,875.5 L101.2,873.8Z" fill="rgb(125, 68, 4)"/>
<path d="M101.2,872.7 L109.2,874.4 L117.1,875.4 L125.1,875.7 L133.0,877.0 L141.0,878.4 L148.9,880.1 L156.9,881.0 L164.8,882.7 L164.8,887.8 L156.9,886.0 L148.9,884.9 L141.0,883.2 L133.0,881.7 L125.1,880.3 L117.1,879.7 L109.2,878.5 L101.2,876.8Z" fill="rgb(110, 58, 3)"/>
<path d="M101.2,875.7 L109.2,877.4 L117.1,878.6 L125.1,879.1 L133.0,880.4 L141.0,881.9 L148.9,883.6 L156.9,884.7 L164.8,886.4 L164.8,891.5 L156.9,889.7 L148.9,888.5 L141.0,886.7 L133.0,885.1 L125.1,883.7 L117.1,882.8 L109.2,881.5 L101.2,879.8Z" fill="rgb(96, 49, 2)"/>
<path d="M101.2,878.7 L109.2,880.4 L117.1,881.7 L125.1,882.4 L133.0,883.9 L141.0,885.4 L148.9,887.2 L156.9,888.4 L164.8,890.2 L164.8,895.2 L156.9,893.4 L148.9,892.0 L141.0,890.2 L133.0,888.6 L125.1,887.0 L117.1,886.0 L109.2,884.5 L101.2,882.8Z" fill="rgb(81, 40, 1)"/>
<path d="M101.2,881.7 L109.2,883.5 L117.1,884.8 L125.1,885.8 L133.0,887.3 L141.0,888.9 L148.9,890.7 L156.9,892.1 L164.8,893.9 L164.8,898.9 L156.9,897.1 L148.9,895.6 L141.0,893.7 L133.0,892.0 L125.1,890.4 L117.1,889.1 L109.2,887.6 L101.2,885.8Z" fill="rgb(69, 34, 1)"/>
<path d="M101.2,884.7 L109.2,886.5 L117.1,888.0 L125.1,889.2 L133.0,890.8 L141.0,892.5 L148.9,894.3 L156.9,895.8 L164.8,897.6 L164.8,902.7 L156.9,900.8 L148.9,899.1 L141.0,897.3 L133.0,895.5 L125.1,893.7 L117.1,892.2 L109.2,890.6 L101.2,888.8Z" fill="rgb(56, 27, 1)"/>
<path d="M101.2,887.7 L109.2,889.5 L117.1,891.1 L125.1,892.5 L133.0,894.2 L141.0,896.0 L148.9,897.8 L156.9,899.5 L164.8,901.3 L164.8,906.4 L156.9,904.5 L148.9,902.7 L141.0,900.8 L133.0,898.9 L125.1,897.1 L117.1,895.3 L109.2,893.6 L101.2,891.8Z" fill="rgb(44, 20, 0)"/>
<path d="M101.2,890.8 L109.2,892.5 L117.1,894.2 L125.1,895.9 L133.0,897.7 L141.0,899.5 L148.9,901.4 L156.9,903.1 L164.8,905.0 L164.8,908.8 L156.9,906.8 L148.9,904.9 L141.0,903.0 L133.0,901.1 L125.1,899.2 L117.1,897.3 L109.2,895.6 L101.2,893.8Z" fill="rgb(31, 14, 0)"/>
<path d="M105.2,845.0C106.5,838.0 114.1,831.0 117.9,831.0C121.7,831.0 129.4,838.0 130.6,845.0Z" fill="url(#hb)"/>
<path d="M520.3,898.9C522.6,878.5 536.5,858.1 543.4,858.1C550.3,858.1 564.2,878.5 566.5,898.9Z" fill="url(#h0)"/>
<path d="M493.3,900.7C496.9,884.3 518.2,867.8 528.8,867.8C539.5,867.8 560.8,884.3 564.3,900.7Z" fill="url(#h1)"/>
<path d="M129.7,845.0C131.5,837.1 142.2,829.3 147.5,829.3C152.8,829.3 163.5,837.1 165.3,845.0Z" fill="url(#hb)"/>
<path d="M591.0,908.4C593.3,886.7 607.1,864.9 614.0,864.9C620.9,864.9 634.7,886.7 637.0,908.4Z" fill="url(#h0)"/>
<path d="M455.2,910.8C458.9,885.9 481.3,861.0 492.4,861.0C503.6,861.0 525.9,885.9 529.6,910.8Z" fill="url(#h1)"/>
<path d="M163.2,839.1 L171.1,843.0 L179.1,841.7 L187.1,844.0 L195.0,845.8 L202.9,846.4 L210.9,845.9 L218.9,848.4 L226.8,848.9 L226.8,854.5 L218.9,853.9 L210.9,851.5 L202.9,851.8 L195.0,851.1 L187.1,849.3 L179.1,847.0 L171.1,848.0 L163.2,844.4Z" fill="rgb(217, 140, 20)"/>
<path d="M163.2,843.0 L171.1,846.7 L179.1,845.6 L187.1,847.9 L195.0,849.7 L202.9,850.4 L210.9,850.0 L218.9,852.4 L226.8,853.0 L226.8,858.7 L218.9,858.0 L210.9,855.6 L202.9,855.8 L195.0,855.0 L187.1,853.2 L179.1,850.9 L171.1,851.8 L163.2,848.2Z" fill="rgb(207, 129, 16)"/>
<path d="M163.2,846.8 L171.1,850.4 L179.1,849.5 L187.1,851.8 L195.0,853.6 L202.9,854.4 L210.9,854.1 L218.9,856.5 L226.8,857.2 L226.8,862.8 L218.9,862.0 L210.9,859.7 L202.9,859.8 L195.0,858.9 L187.1,857.1 L179.1,854.8 L171.1,855.5 L163.2,852.1Z" fill="rgb(196, 120, 14)"/>
<path d="M163.2,850.7 L171.1,854.2 L179.1,853.4 L187.1,855.7 L195.0,857.5 L202.9,858.3 L210.9,858.2 L218.9,860.6 L226.8,861.3 L226.8,867.0 L218.9,866.1 L210.9,863.8 L202.9,863.7 L195.0,862.8 L187.1,861.0 L179.1,858.7 L171.1,859.3 L163.2,855.9Z" fill="rgb(185, 111, 11)"/>
<path d="M163.2,854.5 L171.1,857.9 L179.1,857.3 L187.1,859.6 L195.0,861.4 L202.9,862.3 L210.9,862.3 L218.9,864.7 L226.8,865.5 L226.8,871.2 L218.9,870.2 L210.9,867.9 L202.9,867.7 L195.0,866.7 L187.1,864.9 L179.1,862.7 L171.1,863.0 L163.2,859.8Z" fill="rgb(177, 105, 10)"/>
<path d="M163.2,858.4 L171.1,861.7 L179.1,861.3 L187.1,863.5 L195.0,865.3 L202.9,866.3 L210.9,866.4 L218.9,868.7 L226.8,869.7 L226.8,875.3 L218.9,874.3 L210.9,872.0 L202.9,871.7 L195.0,870.6 L187.1,868.8 L179.1,866.6 L171.1,866.7 L163.2,863.6Z" fill="rgb(185, 111, 12)"/>
<path d="M163.2,862.2 L171.1,865.4 L179.1,865.2 L187.1,867.4 L195.0,869.2 L202.9,870.2 L210.9,870.5 L218.9,872.8 L226.8,873.8 L226.8,879.5 L218.9,878.4 L210.9,876.1 L202.9,875.6 L195.0,874.5 L187.1,872.7 L179.1,870.5 L171.1,870.5 L163.2,867.4Z" fill="rgb(184, 111, 12)"/>
<path d="M163.2,866.1 L171.1,869.1 L179.1,869.1 L187.1,871.3 L195.0,873.1 L202.9,874.2 L210.9,874.6 L218.9,876.9 L226.8,878.0 L226.8,883.7 L218.9,882.4 L210.9,880.2 L202.9,879.6 L195.0,878.4 L187.1,876.6 L179.1,874.4 L171.1,874.2 L163.2,871.3Z" fill="rgb(169, 99, 9)"/>
<path d="M163.2,869.9 L171.1,872.9 L179.1,873.0 L187.1,875.1 L195.0,877.0 L202.9,878.2 L210.9,878.7 L218.9,881.0 L226.8,882.2 L226.8,887.8 L218.9,886.5 L210.9,884.3 L202.9,883.6 L195.0,882.3 L187.1,880.4 L179.1,878.3 L171.1,878.0 L163.2,875.1Z" fill="rgb(154, 87, 6)"/>
<path d="M163.2,873.8 L171.1,876.6 L179.1,876.9 L187.1,879.0 L195.0,880.9 L202.9,882.2 L210.9,882.8 L218.9,885.0 L226.8,886.3 L226.8,892.0 L218.9,890.6 L210.9,888.4 L202.9,887.6 L195.0,886.2 L187.1,884.3 L179.1,882.3 L171.1,881.7 L163.2,879.0Z" fill="rgb(140, 77, 5)"/>
<path d="M163.2,877.6 L171.1,880.4 L179.1,880.8 L187.1,882.9 L195.0,884.8 L202.9,886.1 L210.9,887.0 L218.9,889.1 L226.8,890.5 L226.8,896.1 L218.9,894.7 L210.9,892.5 L202.9,891.5 L195.0,890.1 L187.1,888.2 L179.1,886.2 L171.1,885.4 L163.2,882.8Z" fill="rgb(125, 68, 4)"/>
<path d="M163.2,881.4 L171.1,884.1 L179.1,884.8 L187.1,886.8 L195.0,888.7 L202.9,890.1 L210.9,891.1 L218.9,893.2 L226.8,894.6 L226.8,900.3 L218.9,898.7 L210.9,896.6 L202.9,895.5 L195.0,894.0 L187.1,892.1 L179.1,890.1 L171.1,889.2 L163.2,886.7Z" fill="rgb(110, 58, 3)"/>
<path d="M163.2,885.3 L171.1,887.8 L179.1,888.7 L187.1,890.7 L195.0,892.6 L202.9,894.1 L210.9,895.2 L218.9,897.3 L226.8,898.8 L226.8,904.5 L218.9,902.8 L210.9,900.8 L202.9,899.5 L195.0,897.9 L187.1,896.0 L179.1,894.0 L171.1,892.9 L163.2,890.5Z" fill="rgb(96, 49, 2)"/>
<path d="M163.2,889.1 L171.1,891.6 L179.1,892.6 L187.1,894.6 L195.0,896.5 L202.9,898.0 L210.9,899.3 L218.9,901.3 L226.8,903.0 L226.8,908.6 L218.9,906.9 L210.9,904.9 L202.9,903.4 L195.0,901.8 L187.1,899.9 L179.1,897.9 L171.1,896.7 L163.2,894.4Z" fill="rgb(81, 40, 1)"/>
<path d="M163.2,893.0 L171.1,895.3 L179.1,896.5 L187.1,898.5 L195.0,900.4 L202.9,902.0 L210.9,903.4 L218.9,905.4 L226.8,907.1 L226.8,912.8 L218.9,911.0 L210.9,909.0 L202.9,907.4 L195.0,905.7 L187.1,903.8 L179.1,901.8 L171.1,900.4 L163.2,898.2Z" fill="rgb(69, 34, 1)"/>
<path d="M163.2,896.8 L171.1,899.1 L179.1,900.4 L187.1,902.4 L195.0,904.3 L202.9,906.0 L210.9,907.5 L218.9,909.5 L226.8,911.3 L226.8,916.9 L218.9,915.0 L210.9,913.1 L202.9,911.4 L195.0,909.6 L187.1,907.7 L179.1,905.8 L171.1,904.1 L163.2,902.1Z" fill="rgb(56, 27, 1)"/>
<path d="M163.2,900.7 L171.1,902.8 L179.1,904.3 L187.1,906.3 L195.0,908.2 L202.9,910.0 L210.9,911.6 L218.9,913.6 L226.8,915.4 L226.8,921.1 L218.9,919.1 L210.9,917.2 L202.9,915.4 L195.0,913.5 L187.1,911.6 L179.1,909.7 L171.1,907.9 L163.2,905.9Z" fill="rgb(44, 20, 0)"/>
<path d="M163.2,904.5 L171.1,906.5 L179.1,908.3 L187.1,910.2 L195.0,912.1 L202.9,913.9 L210.9,915.7 L218.9,917.6 L226.8,919.6 L226.8,923.8 L218.9,921.7 L210.9,919.8 L202.9,917.9 L195.0,916.0 L187.1,914.1 L179.1,912.2 L171.1,910.3 L163.2,908.4Z" fill="rgb(31, 14, 0)"/>
<path d="M497.0,913.0C498.8,893.0 509.6,873.0 515.0,873.0C520.4,873.0 531.2,893.0 533.0,913.0Z" fill="url(#h1)"/>
<path d="M470.0,914.0C471.4,895.0 479.8,876.0 484.0,876.0C488.2,876.0 496.6,895.0 498.0,914.0Z" fill="url(#h1)"/>
<path d="M403.0,914.1C406.4,894.3 426.7,874.5 436.9,874.5C447.1,874.5 467.5,894.3 470.8,914.1Z" fill="url(#h1)"/>
<path d="M167.7,848.6C169.6,839.9 181.1,831.3 186.9,831.3C192.6,831.3 204.1,839.9 206.1,848.6Z" fill="url(#hb)"/>
<path d="M524.6,917.9C528.1,902.6 549.5,887.4 560.2,887.4C570.9,887.4 592.3,902.6 595.8,917.9Z" fill="url(#h0)"/>
<path d="M41.0,920.0C43.3,904.0 57.1,888.0 64.0,888.0C70.9,888.0 84.7,904.0 87.0,920.0Z" fill="url(#h1)"/>
<path d="M483.7,922.1C486.1,905.5 500.4,888.9 507.6,888.9C514.8,888.9 529.1,905.5 531.5,922.1Z" fill="url(#h0)"/>
<path d="M203.4,853.1C205.1,845.8 215.3,838.4 220.5,838.4C225.6,838.4 235.8,845.8 237.5,853.1Z" fill="url(#hb)"/>
<path d="M225.2,847.4 L233.1,849.6 L241.1,850.8 L249.1,853.0 L257.0,853.2 L264.9,855.4 L272.9,856.9 L280.9,856.6 L288.8,857.7 L288.8,864.0 L280.9,862.8 L272.9,862.9 L264.9,861.3 L257.0,859.1 L249.1,858.8 L241.1,856.6 L233.1,855.3 L225.2,853.1Z" fill="rgb(217, 140, 20)"/>
<path d="M225.2,851.6 L233.1,853.8 L241.1,855.0 L249.1,857.2 L257.0,857.5 L264.9,859.8 L272.9,861.3 L280.9,861.2 L288.8,862.3 L288.8,868.5 L280.9,867.3 L272.9,867.3 L264.9,865.7 L257.0,863.5 L249.1,863.0 L241.1,860.8 L233.1,859.5 L225.2,857.3Z" fill="rgb(207, 129, 16)"/>
<path d="M225.2,855.8 L233.1,858.0 L241.1,859.3 L249.1,861.5 L257.0,861.9 L264.9,864.1 L272.9,865.7 L280.9,865.7 L288.8,866.9 L288.8,873.1 L280.9,871.8 L272.9,871.6 L264.9,870.0 L257.0,867.8 L249.1,867.3 L241.1,865.1 L233.1,863.7 L225.2,861.6Z" fill="rgb(196, 120, 14)"/>
<path d="M225.2,860.0 L233.1,862.2 L241.1,863.6 L249.1,865.7 L257.0,866.3 L264.9,868.5 L272.9,870.1 L280.9,870.2 L288.8,871.4 L288.8,877.6 L280.9,876.3 L272.9,876.0 L264.9,874.4 L257.0,872.2 L249.1,871.5 L241.1,869.4 L233.1,868.0 L225.2,865.8Z" fill="rgb(185, 111, 11)"/>
<path d="M225.2,864.3 L233.1,866.4 L241.1,867.8 L249.1,870.0 L257.0,870.6 L264.9,872.8 L272.9,874.5 L280.9,874.7 L288.8,876.0 L288.8,882.2 L280.9,880.8 L272.9,880.4 L264.9,878.7 L257.0,876.5 L249.1,875.8 L241.1,873.6 L233.1,872.2 L225.2,870.0Z" fill="rgb(177, 105, 10)"/>
<path d="M225.2,868.5 L233.1,870.7 L241.1,872.1 L249.1,874.2 L257.0,875.0 L264.9,877.2 L272.9,878.8 L280.9,879.2 L288.8,880.6 L288.8,886.8 L280.9,885.3 L272.9,884.8 L264.9,883.1 L257.0,880.9 L249.1,880.0 L241.1,877.9 L233.1,876.4 L225.2,874.2Z" fill="rgb(185, 111, 12)"/>
<path d="M225.2,872.7 L233.1,874.9 L241.1,876.3 L249.1,878.5 L257.0,879.3 L264.9,881.5 L272.9,883.2 L280.9,883.7 L288.8,885.1 L288.8,891.3 L280.9,889.8 L272.9,889.2 L264.9,887.4 L257.0,885.3 L249.1,884.3 L241.1,882.1 L233.1,880.6 L225.2,878.4Z" fill="rgb(184, 111, 12)"/>
<path d="M225.2,876.9 L233.1,879.1 L241.1,880.6 L249.1,882.8 L257.0,883.7 L264.9,885.8 L272.9,887.6 L280.9,888.2 L288.8,889.7 L288.8,895.9 L280.9,894.3 L272.9,893.5 L264.9,891.8 L257.0,889.6 L249.1,888.5 L241.1,886.4 L233.1,884.8 L225.2,882.7Z" fill="rgb(169, 99, 9)"/>
<path d="M225.2,881.1 L233.1,883.3 L241.1,884.9 L249.1,887.0 L257.0,888.0 L264.9,890.2 L272.9,892.0 L280.9,892.7 L288.8,894.3 L288.8,900.5 L280.9,898.9 L272.9,897.9 L264.9,896.1 L257.0,894.0 L249.1,892.8 L241.1,890.7 L233.1,889.0 L225.2,886.9Z" fill="rgb(154, 87, 6)"/>
<path d="M225.2,885.4 L233.1,887.5 L241.1,889.1 L249.1,891.3 L257.0,892.4 L264.9,894.5 L272.9,896.3 L280.9,897.2 L288.8,898.8 L288.8,905.0 L280.9,903.4 L272.9,902.3 L264.9,900.5 L257.0,898.3 L249.1,897.1 L241.1,894.9 L233.1,893.2 L225.2,891.1Z" fill="rgb(140, 77, 5)"/>
<path d="M225.2,889.6 L233.1,891.7 L241.1,893.4 L249.1,895.5 L257.0,896.8 L264.9,898.9 L272.9,900.7 L280.9,901.7 L288.8,903.4 L288.8,909.6 L280.9,907.9 L272.9,906.7 L264.9,904.8 L257.0,902.7 L249.1,901.3 L241.1,899.2 L233.1,897.4 L225.2,895.3Z" fill="rgb(125, 68, 4)"/>
<path d="M225.2,893.8 L233.1,895.9 L241.1,897.7 L249.1,899.8 L257.0,901.1 L264.9,903.2 L272.9,905.1 L280.9,906.3 L288.8,907.9 L288.8,914.2 L280.9,912.4 L272.9,911.1 L264.9,909.2 L257.0,907.0 L249.1,905.6 L241.1,903.5 L233.1,901.7 L225.2,899.5Z" fill="rgb(110, 58, 3)"/>
<path d="M225.2,898.0 L233.1,900.1 L241.1,901.9 L249.1,904.0 L257.0,905.5 L264.9,907.6 L272.9,909.5 L280.9,910.8 L288.8,912.5 L288.8,918.7 L280.9,916.9 L272.9,915.4 L264.9,913.5 L257.0,911.4 L249.1,909.8 L241.1,907.7 L233.1,905.9 L225.2,903.8Z" fill="rgb(96, 49, 2)"/>
<path d="M225.2,902.2 L233.1,904.4 L241.1,906.2 L249.1,908.3 L257.0,909.8 L264.9,911.9 L272.9,913.9 L280.9,915.3 L288.8,917.1 L288.8,923.3 L280.9,921.4 L272.9,919.8 L264.9,917.9 L257.0,915.8 L249.1,914.1 L241.1,912.0 L233.1,910.1 L225.2,908.0Z" fill="rgb(81, 40, 1)"/>
<path d="M225.2,906.5 L233.1,908.6 L241.1,910.4 L249.1,912.5 L257.0,914.2 L264.9,916.3 L272.9,918.2 L280.9,919.8 L288.8,921.6 L288.8,927.8 L280.9,925.9 L272.9,924.2 L264.9,922.2 L257.0,920.1 L249.1,918.3 L241.1,916.2 L233.1,914.3 L225.2,912.2Z" fill="rgb(69, 34, 1)"/>
<path d="M225.2,910.7 L233.1,912.8 L241.1,914.7 L249.1,916.8 L257.0,918.5 L264.9,920.6 L272.9,922.6 L280.9,924.3 L288.8,926.2 L288.8,932.4 L280.9,930.4 L272.9,928.6 L264.9,926.6 L257.0,924.5 L249.1,922.6 L241.1,920.5 L233.1,918.5 L225.2,916.4Z" fill="rgb(56, 27, 1)"/>
<path d="M225.2,914.9 L233.1,917.0 L241.1,919.0 L249.1,921.0 L257.0,922.9 L264.9,925.0 L272.9,927.0 L280.9,928.8 L288.8,930.8 L288.8,937.0 L280.9,934.9 L272.9,933.0 L264.9,930.9 L257.0,928.8 L249.1,926.8 L241.1,924.8 L233.1,922.7 L225.2,920.7Z" fill="rgb(44, 20, 0)"/>
<path d="M225.2,919.1 L233.1,921.2 L241.1,923.2 L249.1,925.3 L257.0,927.3 L264.9,929.3 L272.9,931.4 L280.9,933.3 L288.8,935.3 L288.8,939.9 L280.9,937.8 L272.9,935.8 L264.9,933.7 L257.0,931.6 L249.1,929.6 L241.1,927.5 L233.1,925.4 L225.2,923.4Z" fill="rgb(31, 14, 0)"/>
<path d="M68.0,931.0C70.8,912.0 87.6,893.0 96.0,893.0C104.4,893.0 121.2,912.0 124.0,931.0Z" fill="url(#h1)"/>
<path d="M566.7,932.3C568.9,907.4 582.5,882.6 589.3,882.6C596.1,882.6 609.6,907.4 611.9,932.3Z" fill="url(#h1)"/>
<path d="M251.5,860.5C253.1,853.6 262.5,846.7 267.2,846.7C272.0,846.7 281.4,853.6 283.0,860.5Z" fill="url(#hb)"/>
<path d="M107.0,942.0C109.8,922.0 126.6,902.0 135.0,902.0C143.4,902.0 160.2,922.0 163.0,942.0Z" fill="url(#h1)"/>
<path d="M287.2,859.2 L295.1,859.8 L303.1,860.7 L311.1,862.6 L319.0,867.1 L326.9,868.1 L334.9,869.3 L342.9,870.8 L350.8,875.2 L350.8,881.3 L342.9,877.1 L334.9,875.6 L326.9,874.3 L319.0,873.2 L311.1,868.9 L303.1,866.9 L295.1,865.9 L287.2,865.3Z" fill="rgb(217, 140, 20)"/>
<path d="M287.2,863.7 L295.1,864.3 L303.1,865.3 L311.1,867.2 L319.0,871.6 L326.9,872.6 L334.9,873.9 L342.9,875.4 L350.8,879.7 L350.8,885.8 L342.9,881.7 L334.9,880.2 L326.9,878.8 L319.0,877.6 L311.1,873.5 L303.1,871.5 L295.1,870.5 L287.2,869.7Z" fill="rgb(207, 129, 16)"/>
<path d="M287.2,868.1 L295.1,868.9 L303.1,869.9 L311.1,871.8 L319.0,876.0 L326.9,877.2 L334.9,878.5 L342.9,880.1 L350.8,884.2 L350.8,890.4 L342.9,886.4 L334.9,884.8 L326.9,883.3 L319.0,882.1 L311.1,878.1 L303.1,876.1 L295.1,875.0 L287.2,874.2Z" fill="rgb(196, 120, 14)"/>
<path d="M287.2,872.6 L295.1,873.4 L303.1,874.5 L311.1,876.5 L319.0,880.5 L326.9,881.7 L334.9,883.1 L342.9,884.7 L350.8,888.7 L350.8,894.9 L342.9,891.0 L334.9,889.4 L326.9,887.9 L319.0,886.6 L311.1,882.7 L303.1,880.8 L295.1,879.6 L287.2,878.6Z" fill="rgb(185, 111, 11)"/>
<path d="M287.2,877.0 L295.1,877.9 L303.1,879.1 L311.1,881.1 L319.0,885.0 L326.9,886.3 L334.9,887.7 L342.9,889.4 L350.8,893.2 L350.8,899.4 L342.9,895.7 L334.9,894.0 L326.9,892.4 L319.0,891.1 L311.1,887.3 L303.1,885.4 L295.1,884.1 L287.2,883.1Z" fill="rgb(177, 105, 10)"/>
<path d="M287.2,881.5 L295.1,882.5 L303.1,883.7 L311.1,885.7 L319.0,889.5 L326.9,890.8 L334.9,892.3 L342.9,894.0 L350.8,897.8 L350.8,903.9 L342.9,900.3 L334.9,898.6 L326.9,897.0 L319.0,895.6 L311.1,892.0 L303.1,890.0 L295.1,888.7 L287.2,887.6Z" fill="rgb(185, 111, 12)"/>
<path d="M287.2,886.0 L295.1,887.0 L303.1,888.3 L311.1,890.3 L319.0,894.0 L326.9,895.3 L334.9,896.9 L342.9,898.6 L350.8,902.3 L350.8,908.4 L342.9,904.9 L334.9,903.2 L326.9,901.5 L319.0,900.1 L311.1,896.6 L303.1,894.6 L295.1,893.2 L287.2,892.0Z" fill="rgb(184, 111, 12)"/>
<path d="M287.2,890.4 L295.1,891.6 L303.1,892.9 L311.1,894.9 L319.0,898.4 L326.9,899.9 L334.9,901.5 L342.9,903.3 L350.8,906.8 L350.8,912.9 L342.9,909.6 L334.9,907.8 L326.9,906.1 L319.0,904.5 L311.1,901.2 L303.1,899.2 L295.1,897.7 L287.2,896.5Z" fill="rgb(169, 99, 9)"/>
<path d="M287.2,894.9 L295.1,896.1 L303.1,897.5 L311.1,899.5 L319.0,902.9 L326.9,904.4 L334.9,906.1 L342.9,907.9 L350.8,911.3 L350.8,917.5 L342.9,914.2 L334.9,912.4 L326.9,910.6 L319.0,909.0 L311.1,905.8 L303.1,903.8 L295.1,902.3 L287.2,900.9Z" fill="rgb(154, 87, 6)"/>
<path d="M287.2,899.3 L295.1,900.7 L303.1,902.1 L311.1,904.1 L319.0,907.4 L326.9,909.0 L334.9,910.7 L342.9,912.5 L350.8,915.8 L350.8,922.0 L342.9,918.8 L334.9,917.0 L326.9,915.2 L319.0,913.5 L311.1,910.4 L303.1,908.4 L295.1,906.8 L287.2,905.4Z" fill="rgb(140, 77, 5)"/>
<path d="M287.2,903.8 L295.1,905.2 L303.1,906.7 L311.1,908.8 L319.0,911.9 L326.9,913.5 L334.9,915.3 L342.9,917.2 L350.8,920.3 L350.8,926.5 L342.9,923.5 L334.9,921.6 L326.9,919.7 L319.0,918.0 L311.1,915.0 L303.1,913.0 L295.1,911.4 L287.2,909.9Z" fill="rgb(125, 68, 4)"/>
<path d="M287.2,908.3 L295.1,909.7 L303.1,911.4 L311.1,913.4 L319.0,916.4 L326.9,918.1 L334.9,919.9 L342.9,921.8 L350.8,924.9 L350.8,931.0 L342.9,928.1 L334.9,926.2 L326.9,924.3 L319.0,922.5 L311.1,919.6 L303.1,917.6 L295.1,915.9 L287.2,914.3Z" fill="rgb(110, 58, 3)"/>
<path d="M287.2,912.7 L295.1,914.3 L303.1,916.0 L311.1,918.0 L319.0,920.9 L326.9,922.6 L334.9,924.5 L342.9,926.5 L350.8,929.4 L350.8,935.5 L342.9,932.8 L334.9,930.8 L326.9,928.8 L319.0,926.9 L311.1,924.3 L303.1,922.2 L295.1,920.5 L287.2,918.8Z" fill="rgb(96, 49, 2)"/>
<path d="M287.2,917.2 L295.1,918.8 L303.1,920.6 L311.1,922.6 L319.0,925.3 L326.9,927.2 L334.9,929.1 L342.9,931.1 L350.8,933.9 L350.8,940.0 L342.9,937.4 L334.9,935.4 L326.9,933.4 L319.0,931.4 L311.1,928.9 L303.1,926.8 L295.1,925.0 L287.2,923.2Z" fill="rgb(81, 40, 1)"/>
<path d="M287.2,921.6 L295.1,923.4 L303.1,925.2 L311.1,927.2 L319.0,929.8 L326.9,931.7 L334.9,933.7 L342.9,935.7 L350.8,938.4 L350.8,944.5 L342.9,942.0 L334.9,940.0 L326.9,937.9 L319.0,935.9 L311.1,933.5 L303.1,931.4 L295.1,929.5 L287.2,927.7Z" fill="rgb(69, 34, 1)"/>
<path d="M287.2,926.1 L295.1,927.9 L303.1,929.8 L311.1,931.8 L319.0,934.3 L326.9,936.3 L334.9,938.3 L342.9,940.4 L350.8,942.9 L350.8,949.1 L342.9,946.7 L334.9,944.6 L326.9,942.5 L319.0,940.4 L311.1,938.1 L303.1,936.0 L295.1,934.1 L287.2,932.2Z" fill="rgb(56, 27, 1)"/>
<path d="M287.2,930.6 L295.1,932.5 L303.1,934.4 L311.1,936.4 L319.0,938.8 L326.9,940.8 L334.9,942.9 L342.9,945.0 L350.8,947.4 L350.8,953.6 L342.9,951.3 L334.9,949.2 L326.9,947.0 L319.0,944.9 L311.1,942.7 L303.1,940.7 L295.1,938.6 L287.2,936.6Z" fill="rgb(44, 20, 0)"/>
<path d="M287.2,935.0 L295.1,937.0 L303.1,939.0 L311.1,941.1 L319.0,943.3 L326.9,945.4 L334.9,947.5 L342.9,949.6 L350.8,952.0 L350.8,956.5 L342.9,954.3 L334.9,952.1 L326.9,949.9 L319.0,947.7 L311.1,945.7 L303.1,943.6 L295.1,941.5 L287.2,939.5Z" fill="rgb(31, 14, 0)"/>
<path d="M296.6,869.4C298.3,860.6 308.4,851.9 313.4,851.9C318.5,851.9 328.6,860.6 330.3,869.4Z" fill="url(#hb)"/>
<path d="M152.6,952.3C155.3,935.0 171.4,917.6 179.5,917.6C187.5,917.6 203.6,935.0 206.3,952.3Z" fill="url(#h3)"/>
<path d="M349.2,873.9 L357.1,876.0 L365.1,877.4 L373.1,880.0 L381.0,883.1 L388.9,885.1 L396.9,889.3 L404.9,890.9 L412.8,893.8 L412.8,899.8 L404.9,896.9 L396.9,895.3 L388.9,891.3 L381.0,889.2 L373.1,886.2 L365.1,883.6 L357.1,882.2 L349.2,880.1Z" fill="rgb(217, 140, 20)"/>
<path d="M349.2,878.4 L357.1,880.6 L365.1,882.0 L373.1,884.6 L381.0,887.6 L388.9,889.6 L396.9,893.7 L404.9,895.3 L412.8,898.2 L412.8,904.2 L404.9,901.4 L396.9,899.8 L388.9,895.8 L381.0,893.8 L373.1,890.8 L365.1,888.3 L357.1,886.8 L349.2,884.6Z" fill="rgb(207, 129, 16)"/>
<path d="M349.2,883.0 L357.1,885.1 L365.1,886.6 L373.1,889.2 L381.0,892.2 L388.9,894.2 L396.9,898.2 L404.9,899.8 L412.8,902.7 L412.8,908.7 L404.9,905.9 L396.9,904.2 L388.9,900.4 L381.0,898.3 L373.1,895.4 L365.1,892.9 L357.1,891.3 L349.2,889.2Z" fill="rgb(196, 120, 14)"/>
<path d="M349.2,887.6 L357.1,889.7 L365.1,891.2 L373.1,893.8 L381.0,896.7 L388.9,898.7 L396.9,902.6 L404.9,904.3 L412.8,907.1 L412.8,913.1 L404.9,910.3 L396.9,908.6 L388.9,904.9 L381.0,902.9 L373.1,900.0 L365.1,897.5 L357.1,895.9 L349.2,893.8Z" fill="rgb(185, 111, 11)"/>
<path d="M349.2,892.1 L357.1,894.3 L365.1,895.8 L373.1,898.4 L381.0,901.2 L388.9,903.3 L396.9,907.1 L404.9,908.7 L412.8,911.5 L412.8,917.5 L404.9,914.8 L396.9,913.1 L388.9,909.5 L381.0,907.4 L373.1,904.6 L365.1,902.1 L357.1,900.5 L349.2,898.3Z" fill="rgb(177, 105, 10)"/>
<path d="M349.2,896.7 L357.1,898.8 L365.1,900.4 L373.1,902.9 L381.0,905.8 L388.9,907.8 L396.9,911.5 L404.9,913.2 L412.8,915.9 L412.8,921.9 L404.9,919.3 L396.9,917.5 L388.9,914.0 L381.0,911.9 L373.1,909.2 L365.1,906.7 L357.1,905.0 L349.2,902.9Z" fill="rgb(185, 111, 12)"/>
<path d="M349.2,901.3 L357.1,903.4 L365.1,905.0 L373.1,907.5 L381.0,910.3 L388.9,912.4 L396.9,915.9 L404.9,917.6 L412.8,920.3 L412.8,926.3 L404.9,923.7 L396.9,922.0 L388.9,918.6 L381.0,916.5 L373.1,913.8 L365.1,911.3 L357.1,909.6 L349.2,907.5Z" fill="rgb(184, 111, 12)"/>
<path d="M349.2,905.8 L357.1,908.0 L365.1,909.7 L373.1,912.1 L381.0,914.8 L388.9,916.9 L396.9,920.4 L404.9,922.1 L412.8,924.7 L412.8,930.7 L404.9,928.2 L396.9,926.4 L388.9,923.1 L381.0,921.0 L373.1,918.4 L365.1,915.9 L357.1,914.2 L349.2,912.0Z" fill="rgb(169, 99, 9)"/>
<path d="M349.2,910.4 L357.1,912.5 L365.1,914.3 L373.1,916.7 L381.0,919.4 L388.9,921.5 L396.9,924.8 L404.9,926.6 L412.8,929.1 L412.8,935.1 L404.9,932.6 L396.9,930.8 L388.9,927.7 L381.0,925.6 L373.1,922.9 L365.1,920.5 L357.1,918.8 L349.2,916.6Z" fill="rgb(154, 87, 6)"/>
<path d="M349.2,915.0 L357.1,917.1 L365.1,918.9 L373.1,921.3 L381.0,923.9 L388.9,926.0 L396.9,929.2 L404.9,931.0 L412.8,933.5 L412.8,939.5 L404.9,937.1 L396.9,935.3 L388.9,932.2 L381.0,930.1 L373.1,927.5 L365.1,925.2 L357.1,923.3 L349.2,921.2Z" fill="rgb(140, 77, 5)"/>
<path d="M349.2,919.5 L357.1,921.7 L365.1,923.5 L373.1,925.9 L381.0,928.5 L388.9,930.6 L396.9,933.7 L404.9,935.5 L412.8,937.9 L412.8,943.9 L404.9,941.6 L396.9,939.7 L388.9,936.8 L381.0,934.6 L373.1,932.1 L365.1,929.8 L357.1,927.9 L349.2,925.7Z" fill="rgb(125, 68, 4)"/>
<path d="M349.2,924.1 L357.1,926.2 L365.1,928.1 L373.1,930.5 L381.0,933.0 L388.9,935.1 L396.9,938.1 L404.9,940.0 L412.8,942.3 L412.8,948.3 L404.9,946.0 L396.9,944.1 L388.9,941.3 L381.0,939.2 L373.1,936.7 L365.1,934.4 L357.1,932.5 L349.2,930.3Z" fill="rgb(110, 58, 3)"/>
<path d="M349.2,928.6 L357.1,930.8 L365.1,932.7 L373.1,935.1 L381.0,937.5 L388.9,939.7 L396.9,942.5 L404.9,944.4 L412.8,946.7 L412.8,952.7 L404.9,950.5 L396.9,948.6 L388.9,945.9 L381.0,943.7 L373.1,941.3 L365.1,939.0 L357.1,937.0 L349.2,934.9Z" fill="rgb(96, 49, 2)"/>
<path d="M349.2,933.2 L357.1,935.4 L365.1,937.3 L373.1,939.6 L381.0,942.1 L388.9,944.2 L396.9,947.0 L404.9,948.9 L412.8,951.2 L412.8,957.2 L404.9,955.0 L396.9,953.0 L388.9,950.4 L381.0,948.3 L373.1,945.9 L365.1,943.6 L357.1,941.6 L349.2,939.4Z" fill="rgb(81, 40, 1)"/>
<path d="M349.2,937.8 L357.1,939.9 L365.1,941.9 L373.1,944.2 L381.0,946.6 L388.9,948.8 L396.9,951.4 L404.9,953.4 L412.8,955.6 L412.8,961.6 L404.9,959.4 L396.9,957.4 L388.9,955.0 L381.0,952.8 L373.1,950.5 L365.1,948.2 L357.1,946.2 L349.2,944.0Z" fill="rgb(69, 34, 1)"/>
<path d="M339.6,880.9C341.6,873.8 353.5,866.7 359.5,866.7C365.5,866.7 377.5,873.8 379.5,880.9Z" fill="url(#hb)"/>
<path d="M349.2,942.3 L357.1,944.5 L365.1,946.6 L373.1,948.8 L381.0,951.2 L388.9,953.3 L396.9,955.8 L404.9,957.8 L412.8,960.0 L412.8,966.0 L404.9,963.9 L396.9,961.9 L388.9,959.5 L381.0,957.3 L373.1,955.1 L365.1,952.8 L357.1,950.7 L349.2,948.5Z" fill="rgb(56, 27, 1)"/>
<path d="M349.2,946.9 L357.1,949.1 L365.1,951.2 L373.1,953.4 L381.0,955.7 L388.9,957.9 L396.9,960.3 L404.9,962.3 L412.8,964.4 L412.8,970.4 L404.9,968.4 L396.9,966.3 L388.9,964.0 L381.0,961.9 L373.1,959.7 L365.1,957.5 L357.1,955.3 L349.2,953.1Z" fill="rgb(44, 20, 0)"/>
<path d="M349.2,951.5 L357.1,953.6 L365.1,955.8 L373.1,958.0 L381.0,960.2 L388.9,962.4 L396.9,964.7 L404.9,966.7 L412.8,968.8 L412.8,973.2 L404.9,971.2 L396.9,969.1 L388.9,967.0 L381.0,964.8 L373.1,962.6 L365.1,960.4 L357.1,958.2 L349.2,956.0Z" fill="rgb(31, 14, 0)"/>
<path d="M216.5,961.4C219.8,945.1 239.8,928.9 249.8,928.9C259.8,928.9 279.8,945.1 283.1,961.4Z" fill="url(#h0)"/>
<path d="M379.4,893.8C381.1,885.8 391.4,877.9 396.6,877.9C401.7,877.9 412.1,885.8 413.8,893.8Z" fill="url(#hb)"/>
<path d="M223.6,970.5C226.0,957.2 240.5,944.0 247.7,944.0C254.9,944.0 269.4,957.2 271.8,970.5Z" fill="url(#h0)"/>
<path d="M411.2,892.2 L419.1,894.2 L427.1,896.1 L435.1,899.2 L443.0,899.2 L450.9,902.1 L458.9,902.5 L466.9,905.3 L474.8,906.2 L474.8,912.4 L466.9,911.4 L458.9,908.7 L450.9,908.2 L443.0,905.4 L435.1,905.2 L427.1,902.2 L419.1,900.3 L411.2,898.3Z" fill="rgb(217, 140, 20)"/>
<path d="M411.2,896.7 L419.1,898.7 L427.1,900.6 L435.1,903.6 L443.0,903.7 L450.9,906.6 L458.9,907.0 L466.9,909.8 L474.8,910.8 L474.8,917.0 L466.9,916.0 L458.9,913.2 L450.9,912.7 L443.0,909.9 L435.1,909.6 L427.1,906.7 L419.1,904.7 L411.2,902.8Z" fill="rgb(207, 129, 16)"/>
<path d="M411.2,901.2 L419.1,903.1 L427.1,905.1 L435.1,908.1 L443.0,908.3 L450.9,911.0 L458.9,911.6 L466.9,914.3 L474.8,915.4 L474.8,921.6 L466.9,920.5 L458.9,917.8 L450.9,917.1 L443.0,914.4 L435.1,914.1 L427.1,911.2 L419.1,909.2 L411.2,907.3Z" fill="rgb(196, 120, 14)"/>
<path d="M411.2,905.7 L419.1,907.6 L427.1,909.6 L435.1,912.5 L443.0,912.8 L450.9,915.5 L458.9,916.2 L466.9,918.9 L474.8,919.9 L474.8,926.2 L466.9,925.0 L458.9,922.4 L450.9,921.6 L443.0,919.0 L435.1,918.5 L427.1,915.7 L419.1,913.7 L411.2,911.8Z" fill="rgb(185, 111, 11)"/>
<path d="M411.2,910.1 L419.1,912.1 L427.1,914.0 L435.1,916.9 L443.0,917.3 L450.9,920.0 L458.9,920.7 L466.9,923.4 L474.8,924.5 L474.8,930.8 L466.9,929.5 L458.9,927.0 L450.9,926.1 L443.0,923.5 L435.1,922.9 L427.1,920.1 L419.1,918.2 L411.2,916.2Z" fill="rgb(177, 105, 10)"/>
<path d="M411.2,914.6 L419.1,916.6 L427.1,918.5 L435.1,921.3 L443.0,921.9 L450.9,924.5 L458.9,925.3 L466.9,927.9 L474.8,929.1 L474.8,935.3 L466.9,934.1 L458.9,931.5 L450.9,930.6 L443.0,928.0 L435.1,927.3 L427.1,924.6 L419.1,922.7 L411.2,920.7Z" fill="rgb(185, 111, 12)"/>
<path d="M411.2,919.1 L419.1,921.0 L427.1,923.0 L435.1,925.7 L443.0,926.4 L450.9,929.0 L458.9,929.9 L466.9,932.4 L474.8,933.7 L474.8,939.9 L466.9,938.6 L458.9,936.1 L450.9,935.1 L443.0,932.6 L435.1,931.7 L427.1,929.1 L419.1,927.1 L411.2,925.2Z" fill="rgb(184, 111, 12)"/>
<path d="M411.2,923.6 L419.1,925.5 L427.1,927.5 L435.1,930.1 L443.0,930.9 L450.9,933.4 L458.9,934.5 L466.9,936.9 L474.8,938.3 L474.8,944.5 L466.9,943.1 L458.9,940.7 L450.9,939.5 L443.0,937.1 L435.1,936.2 L427.1,933.6 L419.1,931.6 L411.2,929.7Z" fill="rgb(169, 99, 9)"/>
<path d="M411.2,928.0 L419.1,930.0 L427.1,932.0 L435.1,934.6 L443.0,935.5 L450.9,937.9 L458.9,939.0 L466.9,941.5 L474.8,942.9 L474.8,949.1 L466.9,947.6 L458.9,945.2 L450.9,944.0 L443.0,941.6 L435.1,940.6 L427.1,938.1 L419.1,936.1 L411.2,934.1Z" fill="rgb(154, 87, 6)"/>
<path d="M411.2,932.5 L419.1,934.5 L427.1,936.4 L435.1,939.0 L443.0,940.0 L450.9,942.4 L458.9,943.6 L466.9,946.0 L474.8,947.4 L474.8,953.7 L466.9,952.1 L458.9,949.8 L450.9,948.5 L443.0,946.1 L435.1,945.0 L427.1,942.5 L419.1,940.6 L411.2,938.6Z" fill="rgb(140, 77, 5)"/>
<path d="M411.2,937.0 L419.1,939.0 L427.1,940.9 L435.1,943.4 L443.0,944.5 L450.9,946.9 L458.9,948.2 L466.9,950.5 L474.8,952.0 L474.8,958.3 L466.9,956.7 L458.9,954.4 L450.9,953.0 L443.0,950.7 L435.1,949.4 L427.1,947.0 L419.1,945.1 L411.2,943.1Z" fill="rgb(125, 68, 4)"/>
<path d="M411.2,941.5 L419.1,943.4 L427.1,945.4 L435.1,947.8 L443.0,949.0 L450.9,951.4 L458.9,952.7 L466.9,955.0 L474.8,956.6 L474.8,962.8 L466.9,961.2 L458.9,958.9 L450.9,957.5 L443.0,955.2 L435.1,953.8 L427.1,951.5 L419.1,949.5 L411.2,947.6Z" fill="rgb(110, 58, 3)"/>
<path d="M411.2,945.9 L419.1,947.9 L427.1,949.9 L435.1,952.2 L443.0,953.6 L450.9,955.8 L458.9,957.3 L466.9,959.6 L474.8,961.2 L474.8,967.4 L466.9,965.7 L458.9,963.5 L450.9,961.9 L443.0,959.7 L435.1,958.3 L427.1,956.0 L419.1,954.0 L411.2,952.0Z" fill="rgb(96, 49, 2)"/>
<path d="M411.2,950.4 L419.1,952.4 L427.1,954.4 L435.1,956.7 L443.0,958.1 L450.9,960.3 L458.9,961.9 L466.9,964.1 L474.8,965.8 L474.8,972.0 L466.9,970.2 L458.9,968.1 L450.9,966.4 L443.0,964.3 L435.1,962.7 L427.1,960.5 L419.1,958.5 L411.2,956.5Z" fill="rgb(81, 40, 1)"/>
<path d="M411.2,954.9 L419.1,956.9 L427.1,958.9 L435.1,961.1 L443.0,962.6 L450.9,964.8 L458.9,966.4 L466.9,968.6 L474.8,970.4 L474.8,976.6 L466.9,974.8 L458.9,972.7 L450.9,970.9 L443.0,968.8 L435.1,967.1 L427.1,964.9 L419.1,963.0 L411.2,961.0Z" fill="rgb(69, 34, 1)"/>
<path d="M411.2,959.4 L419.1,961.4 L427.1,963.3 L435.1,965.5 L443.0,967.2 L450.9,969.3 L458.9,971.0 L466.9,973.1 L474.8,974.9 L474.8,981.2 L466.9,979.3 L458.9,977.2 L450.9,975.4 L443.0,973.3 L435.1,971.5 L427.1,969.4 L419.1,967.4 L411.2,965.5Z" fill="rgb(56, 27, 1)"/>
<path d="M411.2,963.8 L419.1,965.8 L427.1,967.8 L435.1,969.9 L443.0,971.7 L450.9,973.8 L458.9,975.6 L466.9,977.7 L474.8,979.5 L474.8,985.8 L466.9,983.8 L458.9,981.8 L450.9,979.9 L443.0,977.9 L435.1,975.9 L427.1,973.9 L419.1,971.9 L411.2,969.9Z" fill="rgb(44, 20, 0)"/>
<path d="M411.2,968.3 L419.1,970.3 L427.1,972.3 L435.1,974.3 L443.0,976.2 L450.9,978.3 L458.9,980.2 L466.9,982.2 L474.8,984.1 L474.8,988.7 L466.9,986.7 L458.9,984.7 L450.9,982.7 L443.0,980.8 L435.1,978.8 L427.1,976.8 L419.1,974.8 L411.2,972.8Z" fill="rgb(31, 14, 0)"/>
<path d="M231.0,980.0C233.5,954.0 248.5,928.0 256.0,928.0C263.5,928.0 278.5,954.0 281.0,980.0Z" fill="url(#h2)"/>
<path d="M427.4,904.0C428.7,896.7 436.2,889.4 440.0,889.4C443.7,889.4 451.2,896.7 452.5,904.0Z" fill="url(#hb)"/>
<path d="M145.0,951.0C148.6,919.0 170.2,887.0 181.0,887.0C191.8,887.0 213.4,919.0 217.0,951.0Z" fill="url(#h2)"/>
<path d="M253.8,982.0C256.4,959.9 272.1,937.7 280.0,937.7C287.8,937.7 303.5,959.9 306.2,982.0Z" fill="url(#h1)"/>
<path d="M213.0,988.0C215.3,968.0 229.1,948.0 236.0,948.0C242.9,948.0 256.7,968.0 259.0,988.0Z" fill="url(#h1)"/>
<path d="M450.8,910.3C452.5,903.7 462.9,897.1 468.0,897.1C473.2,897.1 483.5,903.7 485.3,910.3Z" fill="url(#hb)"/>
<path d="M473.2,907.6 L481.1,907.5 L489.1,910.4 L497.0,911.1 L505.0,911.6 L512.9,914.2 L520.9,913.8 L528.8,916.0 L536.8,916.8 L536.8,923.7 L528.8,922.8 L520.9,920.5 L512.9,920.8 L505.0,918.1 L497.0,917.5 L489.1,916.7 L481.1,913.8 L473.2,913.7Z" fill="rgb(217, 140, 20)"/>
<path d="M473.2,912.1 L481.1,912.1 L489.1,915.0 L497.0,915.8 L505.0,916.4 L512.9,919.0 L520.9,918.7 L528.8,921.0 L536.8,921.9 L536.8,928.8 L528.8,927.8 L520.9,925.5 L512.9,925.6 L505.0,922.9 L497.0,922.1 L489.1,921.2 L481.1,918.4 L473.2,918.2Z" fill="rgb(207, 129, 16)"/>
<path d="M473.2,916.6 L481.1,916.7 L489.1,919.6 L497.0,920.5 L505.0,921.2 L512.9,923.8 L520.9,923.7 L528.8,926.0 L536.8,927.0 L536.8,933.9 L528.8,932.8 L520.9,930.5 L512.9,930.4 L505.0,927.7 L497.0,926.8 L489.1,925.8 L481.1,923.0 L473.2,922.7Z" fill="rgb(196, 120, 14)"/>
<path d="M473.2,921.0 L481.1,921.3 L489.1,924.2 L497.0,925.2 L505.0,926.0 L512.9,928.6 L520.9,928.7 L528.8,931.0 L536.8,932.1 L536.8,939.0 L528.8,937.8 L520.9,935.5 L512.9,935.2 L505.0,932.6 L497.0,931.5 L489.1,930.4 L481.1,927.6 L473.2,927.1Z" fill="rgb(185, 111, 11)"/>
<path d="M473.2,925.5 L481.1,925.9 L489.1,928.8 L497.0,929.8 L505.0,930.8 L512.9,933.4 L520.9,933.7 L528.8,936.0 L536.8,937.2 L536.8,944.1 L528.8,942.8 L520.9,940.4 L512.9,940.0 L505.0,937.4 L497.0,936.2 L489.1,935.0 L481.1,932.2 L473.2,931.6Z" fill="rgb(177, 105, 10)"/>
<path d="M473.2,930.0 L481.1,930.5 L489.1,933.3 L497.0,934.5 L505.0,935.6 L512.9,938.2 L520.9,938.6 L528.8,941.0 L536.8,942.2 L536.8,949.2 L528.8,947.8 L520.9,945.4 L512.9,944.8 L505.0,942.2 L497.0,940.9 L489.1,939.6 L481.1,936.8 L473.2,936.1Z" fill="rgb(185, 111, 12)"/>
<path d="M473.2,934.5 L481.1,935.1 L489.1,937.9 L497.0,939.2 L505.0,940.4 L512.9,943.0 L520.9,943.6 L528.8,946.0 L536.8,947.3 L536.8,954.3 L528.8,952.8 L520.9,950.4 L512.9,949.6 L505.0,947.0 L497.0,945.6 L489.1,944.2 L481.1,941.4 L473.2,940.6Z" fill="rgb(184, 111, 12)"/>
<path d="M473.2,939.0 L481.1,939.7 L489.1,942.5 L497.0,943.9 L505.0,945.2 L512.9,947.9 L520.9,948.6 L528.8,951.0 L536.8,952.4 L536.8,959.4 L528.8,957.8 L520.9,955.3 L512.9,954.4 L505.0,951.8 L497.0,950.3 L489.1,948.8 L481.1,946.0 L473.2,945.1Z" fill="rgb(169, 99, 9)"/>
<path d="M473.2,943.5 L481.1,944.4 L489.1,947.1 L497.0,948.6 L505.0,950.1 L512.9,952.7 L520.9,953.6 L528.8,956.0 L536.8,957.5 L536.8,964.5 L528.8,962.7 L520.9,960.3 L512.9,959.2 L505.0,956.6 L497.0,955.0 L489.1,953.3 L481.1,950.6 L473.2,949.6Z" fill="rgb(154, 87, 6)"/>
<path d="M473.2,947.9 L481.1,949.0 L489.1,951.7 L497.0,953.3 L505.0,954.9 L512.9,957.5 L520.9,958.5 L528.8,960.9 L536.8,962.6 L536.8,969.5 L528.8,967.7 L520.9,965.3 L512.9,964.0 L505.0,961.4 L497.0,959.7 L489.1,957.9 L481.1,955.2 L473.2,954.0Z" fill="rgb(140, 77, 5)"/>
<path d="M473.2,952.4 L481.1,953.6 L489.1,956.3 L497.0,958.0 L505.0,959.7 L512.9,962.3 L520.9,963.5 L528.8,965.9 L536.8,967.7 L536.8,974.6 L528.8,972.7 L520.9,970.3 L512.9,968.8 L505.0,966.2 L497.0,964.4 L489.1,962.5 L481.1,959.8 L473.2,958.5Z" fill="rgb(125, 68, 4)"/>
<path d="M473.2,956.9 L481.1,958.2 L489.1,960.9 L497.0,962.7 L505.0,964.5 L512.9,967.1 L520.9,968.5 L528.8,970.9 L536.8,972.8 L536.8,979.7 L528.8,977.7 L520.9,975.2 L512.9,973.6 L505.0,971.0 L497.0,969.1 L489.1,967.1 L481.1,964.4 L473.2,963.0Z" fill="rgb(110, 58, 3)"/>
<path d="M473.2,961.4 L481.1,962.8 L489.1,965.4 L497.0,967.4 L505.0,969.3 L512.9,971.9 L520.9,973.5 L528.8,975.9 L536.8,977.9 L536.8,984.8 L528.8,982.7 L520.9,980.2 L512.9,978.4 L505.0,975.8 L497.0,973.8 L489.1,971.7 L481.1,969.0 L473.2,967.5Z" fill="rgb(96, 49, 2)"/>
<path d="M473.2,965.9 L481.1,967.4 L489.1,970.0 L497.0,972.1 L505.0,974.1 L512.9,976.7 L520.9,978.4 L528.8,980.9 L536.8,983.0 L536.8,989.9 L528.8,987.7 L520.9,985.2 L512.9,983.2 L505.0,980.6 L497.0,978.5 L489.1,976.3 L481.1,973.6 L473.2,972.0Z" fill="rgb(81, 40, 1)"/>
<path d="M473.2,970.4 L481.1,972.0 L489.1,974.6 L497.0,976.8 L505.0,978.9 L512.9,981.5 L520.9,983.4 L528.8,985.9 L536.8,988.1 L536.8,995.0 L528.8,992.7 L520.9,990.2 L512.9,988.0 L505.0,985.4 L497.0,983.2 L489.1,980.9 L481.1,978.2 L473.2,976.5Z" fill="rgb(69, 34, 1)"/>
<path d="M473.2,974.8 L481.1,976.6 L489.1,979.2 L497.0,981.5 L505.0,983.7 L512.9,986.3 L520.9,988.4 L528.8,990.9 L536.8,993.2 L536.8,1000.1 L528.8,997.7 L520.9,995.1 L512.9,992.8 L505.0,990.2 L497.0,987.8 L489.1,985.4 L481.1,982.8 L473.2,980.9Z" fill="rgb(56, 27, 1)"/>
<path d="M473.2,979.3 L481.1,981.2 L489.1,983.8 L497.0,986.2 L505.0,988.5 L512.9,991.1 L520.9,993.3 L528.8,995.9 L536.8,998.3 L536.8,1005.2 L528.8,1002.7 L520.9,1000.1 L512.9,997.6 L505.0,995.0 L497.0,992.5 L489.1,990.0 L481.1,987.4 L473.2,985.4Z" fill="rgb(44, 20, 0)"/>
<path d="M473.2,983.8 L481.1,985.8 L489.1,988.4 L497.0,990.8 L505.0,993.3 L512.9,995.9 L520.9,998.3 L528.8,1000.9 L536.8,1003.4 L536.8,1008.5 L528.8,1005.9 L520.9,1003.3 L512.9,1000.7 L505.0,998.1 L497.0,995.5 L489.1,993.0 L481.1,990.4 L473.2,988.3Z" fill="rgb(31, 14, 0)"/>
<path d="M187.0,996.0C189.3,978.0 203.1,960.0 210.0,960.0C216.9,960.0 230.7,978.0 233.0,996.0Z" fill="url(#h1)"/>
<path d="M324.3,1000.4C326.9,978.2 342.2,955.9 349.8,955.9C357.5,955.9 372.8,978.2 375.3,1000.4Z" fill="url(#h1)"/>
<path d="M267.0,1002.0C270.3,977.0 290.1,952.0 300.0,952.0C309.9,952.0 329.7,977.0 333.0,1002.0Z" fill="url(#h1)"/>
<path d="M263.9,1003.1C266.4,982.1 280.9,961.1 288.2,961.1C295.5,961.1 310.0,982.1 312.4,1003.1Z" fill="url(#h0)"/>
<path d="M506.1,918.9C507.5,911.9 515.7,904.9 519.8,904.9C523.9,904.9 532.1,911.9 533.5,918.9Z" fill="url(#hb)"/>
<path d="M284.7,1006.6C288.5,989.3 311.3,971.9 322.7,971.9C334.2,971.9 357.0,989.3 360.8,1006.6Z" fill="url(#h1)"/>
<ellipse cx="550" cy="944" rx="62" ry="20" fill="url(#hl)"/>
<path d="M527.7,922.4C529.2,914.3 538.3,906.2 542.9,906.2C547.4,906.2 556.5,914.3 558.0,922.4Z" fill="url(#hb)"/>
<path d="M535.2,916.1 L543.2,916.1 L551.1,918.4 L559.0,919.2 L567.0,920.8 L575.0,923.6 L582.9,922.8 L590.8,925.2 L598.8,926.3 L598.8,934.2 L590.8,932.9 L582.9,930.5 L575.0,931.0 L567.0,928.2 L559.0,926.5 L551.1,925.5 L543.2,923.3 L535.2,923.0Z" fill="rgb(217, 140, 20)"/>
<path d="M535.2,921.2 L543.2,921.4 L551.1,923.6 L559.0,924.5 L567.0,926.3 L575.0,929.0 L582.9,928.4 L590.8,930.9 L598.8,932.1 L598.8,939.9 L590.8,938.6 L582.9,936.1 L575.0,936.4 L567.0,933.6 L559.0,931.8 L551.1,930.8 L543.2,928.5 L535.2,928.1Z" fill="rgb(207, 129, 16)"/>
<path d="M535.2,926.3 L543.2,926.6 L551.1,928.9 L559.0,929.9 L567.0,931.7 L575.0,934.4 L582.9,934.1 L590.8,936.5 L598.8,937.8 L598.8,945.7 L590.8,944.2 L582.9,941.7 L575.0,941.8 L567.0,939.1 L559.0,937.2 L551.1,936.1 L543.2,933.7 L535.2,933.2Z" fill="rgb(196, 120, 14)"/>
<path d="M535.2,931.4 L543.2,931.9 L551.1,934.2 L559.0,935.3 L567.0,937.1 L575.0,939.9 L582.9,939.7 L590.8,942.2 L598.8,943.6 L598.8,951.4 L590.8,949.9 L582.9,947.4 L575.0,947.3 L567.0,944.5 L559.0,942.5 L551.1,941.3 L543.2,939.0 L535.2,938.3Z" fill="rgb(185, 111, 11)"/>
<path d="M535.2,936.5 L543.2,937.1 L551.1,939.4 L559.0,940.6 L567.0,942.5 L575.0,945.3 L582.9,945.3 L590.8,947.8 L598.8,949.4 L598.8,957.2 L590.8,955.5 L582.9,953.0 L575.0,952.7 L567.0,949.9 L559.0,947.9 L551.1,946.6 L543.2,944.2 L535.2,943.4Z" fill="rgb(177, 105, 10)"/>
<path d="M535.2,941.6 L543.2,942.3 L551.1,944.7 L559.0,946.0 L567.0,948.0 L575.0,950.7 L582.9,951.0 L590.8,953.5 L598.8,955.1 L598.8,963.0 L590.8,961.2 L582.9,958.6 L575.0,958.1 L567.0,955.4 L559.0,953.3 L551.1,951.8 L543.2,949.5 L535.2,948.5Z" fill="rgb(185, 111, 12)"/>
<path d="M535.2,946.7 L543.2,947.6 L551.1,950.0 L559.0,951.3 L567.0,953.4 L575.0,956.2 L582.9,956.6 L590.8,959.2 L598.8,960.9 L598.8,968.7 L590.8,966.9 L582.9,964.3 L575.0,963.6 L567.0,960.8 L559.0,958.6 L551.1,957.1 L543.2,954.7 L535.2,953.6Z" fill="rgb(184, 111, 12)"/>
<path d="M535.2,951.8 L543.2,952.8 L551.1,955.2 L559.0,956.7 L567.0,958.8 L575.0,961.6 L582.9,962.2 L590.8,964.8 L598.8,966.6 L598.8,974.5 L590.8,972.5 L582.9,969.9 L575.0,969.0 L567.0,966.2 L559.0,964.0 L551.1,962.4 L543.2,960.0 L535.2,958.7Z" fill="rgb(169, 99, 9)"/>
<path d="M535.2,956.9 L543.2,958.1 L551.1,960.5 L559.0,962.1 L567.0,964.3 L575.0,967.0 L582.9,967.9 L590.8,970.5 L598.8,972.4 L598.8,980.2 L590.8,978.2 L582.9,975.5 L575.0,974.4 L567.0,971.6 L559.0,969.4 L551.1,967.6 L543.2,965.2 L535.2,963.8Z" fill="rgb(154, 87, 6)"/>
<path d="M535.2,962.0 L543.2,963.3 L551.1,965.7 L559.0,967.4 L567.0,969.7 L575.0,972.5 L582.9,973.5 L590.8,976.2 L598.8,978.2 L598.8,986.0 L590.8,983.9 L582.9,981.2 L575.0,979.9 L567.0,977.1 L559.0,974.7 L551.1,972.9 L543.2,970.5 L535.2,969.0Z" fill="rgb(140, 77, 5)"/>
<path d="M535.2,967.1 L543.2,968.6 L551.1,971.0 L559.0,972.8 L567.0,975.1 L575.0,977.9 L582.9,979.2 L590.8,981.8 L598.8,983.9 L598.8,991.7 L590.8,989.5 L582.9,986.8 L575.0,985.3 L567.0,982.5 L559.0,980.1 L551.1,978.2 L543.2,975.7 L535.2,974.1Z" fill="rgb(125, 68, 4)"/>
<path d="M535.2,972.2 L543.2,973.8 L551.1,976.3 L559.0,978.2 L567.0,980.5 L575.0,983.3 L582.9,984.8 L590.8,987.5 L598.8,989.7 L598.8,997.5 L590.8,995.2 L582.9,992.5 L575.0,990.7 L567.0,987.9 L559.0,985.4 L551.1,983.4 L543.2,980.9 L535.2,979.2Z" fill="rgb(110, 58, 3)"/>
<path d="M535.2,977.3 L543.2,979.1 L551.1,981.5 L559.0,983.5 L567.0,986.0 L575.0,988.8 L582.9,990.4 L590.8,993.1 L598.8,995.4 L598.8,1003.3 L590.8,1000.8 L582.9,998.1 L575.0,996.2 L567.0,993.3 L559.0,990.8 L551.1,988.7 L543.2,986.2 L535.2,984.3Z" fill="rgb(96, 49, 2)"/>
<path d="M535.2,982.4 L543.2,984.3 L551.1,986.8 L559.0,988.9 L567.0,991.4 L575.0,994.2 L582.9,996.1 L590.8,998.8 L598.8,1001.2 L598.8,1009.0 L590.8,1006.5 L582.9,1003.7 L575.0,1001.6 L567.0,998.8 L559.0,996.2 L551.1,994.0 L543.2,991.4 L535.2,989.4Z" fill="rgb(81, 40, 1)"/>
<path d="M535.2,987.5 L543.2,989.5 L551.1,992.1 L559.0,994.2 L567.0,996.8 L575.0,999.6 L582.9,1001.7 L590.8,1004.5 L598.8,1006.9 L598.8,1014.8 L590.8,1012.2 L582.9,1009.4 L575.0,1007.0 L567.0,1004.2 L559.0,1001.5 L551.1,999.2 L543.2,996.7 L535.2,994.5Z" fill="rgb(69, 34, 1)"/>
<path d="M535.2,992.6 L543.2,994.8 L551.1,997.3 L559.0,999.6 L567.0,1002.2 L575.0,1005.1 L582.9,1007.3 L590.8,1010.1 L598.8,1012.7 L598.8,1020.5 L590.8,1017.8 L582.9,1015.0 L575.0,1012.5 L567.0,1009.6 L559.0,1006.9 L551.1,1004.5 L543.2,1001.9 L535.2,999.6Z" fill="rgb(56, 27, 1)"/>
<path d="M535.2,997.7 L543.2,1000.0 L551.1,1002.6 L559.0,1005.0 L567.0,1007.7 L575.0,1010.5 L582.9,1013.0 L590.8,1015.8 L598.8,1018.5 L598.8,1026.3 L590.8,1023.5 L582.9,1020.6 L575.0,1017.9 L567.0,1015.0 L559.0,1012.3 L551.1,1009.7 L543.2,1007.2 L535.2,1004.7Z" fill="rgb(44, 20, 0)"/>
<path d="M535.2,1002.8 L543.2,1005.3 L551.1,1007.8 L559.0,1010.3 L567.0,1013.1 L575.0,1015.9 L582.9,1018.6 L590.8,1021.4 L598.8,1024.2 L598.8,1030.0 L590.8,1027.1 L582.9,1024.2 L575.0,1021.4 L567.0,1018.5 L559.0,1015.7 L551.1,1013.1 L543.2,1010.5 L535.2,1007.9Z" fill="rgb(31, 14, 0)"/>
<path d="M442.0,1016.5C445.2,1001.8 464.6,987.0 474.3,987.0C484.0,987.0 503.4,1001.8 506.6,1016.5Z" fill="url(#h3)"/>
<path d="M302.0,1018.0C304.8,995.0 321.6,972.0 330.0,972.0C338.4,972.0 355.2,995.0 358.0,1018.0Z" fill="url(#h1)"/>
<path d="M568.3,928.2C569.7,920.4 577.7,912.6 581.7,912.6C585.7,912.6 593.7,920.4 595.0,928.2Z" fill="url(#hb)"/>
<path d="M257.0,1025.0C259.8,1005.0 276.6,985.0 285.0,985.0C293.4,985.0 310.2,1005.0 313.0,1025.0Z" fill="url(#h1)"/>
<path d="M332.4,1028.1C335.6,1007.7 354.5,987.2 363.9,987.2C373.4,987.2 392.3,1007.7 395.5,1028.1Z" fill="url(#h0)"/>
<path d="M416.8,1028.7C418.9,1009.6 432.0,990.5 438.5,990.5C445.0,990.5 458.0,1009.6 460.2,1028.7Z" fill="url(#h0)"/>
<path d="M479.1,1030.9C481.8,1013.3 498.1,995.6 506.2,995.6C514.3,995.6 530.6,1013.3 533.3,1030.9Z" fill="url(#h0)"/>
<path d="M362.2,1031.9C365.7,1008.4 387.1,984.8 397.8,984.8C408.4,984.8 429.8,1008.4 433.4,1031.9Z" fill="url(#h0)"/>
<path d="M298.8,1033.0C301.4,1011.9 317.4,990.9 325.3,990.9C333.3,990.9 349.2,1011.9 351.9,1033.0Z" fill="url(#h0)"/>
<path d="M597.2,924.8 L605.2,926.9 L613.1,928.0 L621.0,932.1 L629.0,932.0 L637.0,934.4 L644.9,936.0 L652.8,939.3 L660.8,941.2 L660.8,949.6 L652.8,947.6 L644.9,944.4 L637.0,942.6 L629.0,940.2 L621.0,940.1 L613.1,936.0 L605.2,934.9 L597.2,932.7Z" fill="rgb(217, 140, 20)"/>
<path d="M597.2,930.6 L605.2,932.8 L613.1,933.9 L621.0,938.0 L629.0,938.1 L637.0,940.5 L644.9,942.1 L652.8,945.4 L660.8,947.4 L660.8,955.8 L652.8,953.7 L644.9,950.5 L637.0,948.7 L629.0,946.3 L621.0,946.0 L613.1,942.0 L605.2,940.7 L597.2,938.5Z" fill="rgb(207, 129, 16)"/>
<path d="M597.2,936.4 L605.2,938.6 L613.1,939.9 L621.0,943.9 L629.0,944.1 L637.0,946.5 L644.9,948.3 L652.8,951.5 L660.8,953.6 L660.8,962.0 L652.8,959.9 L644.9,956.6 L637.0,954.8 L629.0,952.3 L621.0,951.9 L613.1,948.0 L605.2,946.6 L597.2,944.3Z" fill="rgb(196, 120, 14)"/>
<path d="M597.2,942.2 L605.2,944.5 L613.1,945.8 L621.0,949.7 L629.0,950.2 L637.0,952.6 L644.9,954.4 L652.8,957.6 L660.8,959.7 L660.8,968.1 L652.8,966.0 L644.9,962.8 L637.0,960.9 L629.0,958.4 L621.0,957.7 L613.1,953.9 L605.2,952.4 L597.2,950.1Z" fill="rgb(185, 111, 11)"/>
<path d="M597.2,948.1 L605.2,950.3 L613.1,951.8 L621.0,955.6 L629.0,956.2 L637.0,958.7 L644.9,960.6 L652.8,963.8 L660.8,965.9 L660.8,974.3 L652.8,972.1 L644.9,968.9 L637.0,966.9 L629.0,964.4 L621.0,963.6 L613.1,959.9 L605.2,958.3 L597.2,956.0Z" fill="rgb(177, 105, 10)"/>
<path d="M597.2,953.9 L605.2,956.2 L613.1,957.7 L621.0,961.5 L629.0,962.2 L637.0,964.7 L644.9,966.7 L652.8,969.9 L660.8,972.1 L660.8,980.5 L652.8,978.2 L644.9,975.1 L637.0,973.0 L629.0,970.5 L621.0,969.5 L613.1,965.8 L605.2,964.1 L597.2,961.8Z" fill="rgb(185, 111, 12)"/>
<path d="M597.2,959.7 L605.2,962.0 L613.1,963.7 L621.0,967.4 L629.0,968.3 L637.0,970.8 L644.9,972.9 L652.8,976.0 L660.8,978.3 L660.8,986.6 L652.8,984.3 L644.9,981.2 L637.0,979.1 L629.0,976.5 L621.0,975.4 L613.1,971.8 L605.2,970.0 L597.2,967.6Z" fill="rgb(184, 111, 12)"/>
<path d="M597.2,965.5 L605.2,967.9 L613.1,969.6 L621.0,973.3 L629.0,974.3 L637.0,976.9 L644.9,979.0 L652.8,982.1 L660.8,984.4 L660.8,992.8 L652.8,990.4 L644.9,987.4 L637.0,985.2 L629.0,982.6 L621.0,981.3 L613.1,977.7 L605.2,975.9 L597.2,973.4Z" fill="rgb(169, 99, 9)"/>
<path d="M597.2,971.3 L605.2,973.7 L613.1,975.6 L621.0,979.2 L629.0,980.4 L637.0,983.0 L644.9,985.1 L652.8,988.2 L660.8,990.6 L660.8,999.0 L652.8,996.6 L644.9,993.5 L637.0,991.2 L629.0,988.6 L621.0,987.2 L613.1,983.7 L605.2,981.7 L597.2,979.2Z" fill="rgb(154, 87, 6)"/>
<path d="M597.2,977.1 L605.2,979.6 L613.1,981.5 L621.0,985.0 L629.0,986.4 L637.0,989.0 L644.9,991.3 L652.8,994.4 L660.8,996.8 L660.8,1005.2 L652.8,1002.7 L644.9,999.6 L637.0,997.3 L629.0,994.7 L621.0,993.0 L613.1,989.6 L605.2,987.6 L597.2,985.0Z" fill="rgb(140, 77, 5)"/>
<path d="M597.2,982.9 L605.2,985.4 L613.1,987.5 L621.0,990.9 L629.0,992.5 L637.0,995.1 L644.9,997.4 L652.8,1000.5 L660.8,1002.9 L660.8,1011.3 L652.8,1008.8 L644.9,1005.8 L637.0,1003.4 L629.0,1000.7 L621.0,998.9 L613.1,995.6 L605.2,993.4 L597.2,990.8Z" fill="rgb(125, 68, 4)"/>
<path d="M597.2,988.7 L605.2,991.3 L613.1,993.4 L621.0,996.8 L629.0,998.5 L637.0,1001.2 L644.9,1003.6 L652.8,1006.6 L660.8,1009.1 L660.8,1017.5 L652.8,1014.9 L644.9,1011.9 L637.0,1009.4 L629.0,1006.7 L621.0,1004.8 L613.1,1001.5 L605.2,999.3 L597.2,996.6Z" fill="rgb(110, 58, 3)"/>
<path d="M597.2,994.5 L605.2,997.1 L613.1,999.4 L621.0,1002.7 L629.0,1004.6 L637.0,1007.3 L644.9,1009.7 L652.8,1012.7 L660.8,1015.3 L660.8,1023.7 L652.8,1021.0 L644.9,1018.1 L637.0,1015.5 L629.0,1012.8 L621.0,1010.7 L613.1,1007.5 L605.2,1005.1 L597.2,1002.4Z" fill="rgb(96, 49, 2)"/>
<path d="M597.2,1000.3 L605.2,1003.0 L613.1,1005.3 L621.0,1008.6 L629.0,1010.6 L637.0,1013.3 L644.9,1015.9 L652.8,1018.8 L660.8,1021.4 L660.8,1029.8 L652.8,1027.2 L644.9,1024.2 L637.0,1021.6 L629.0,1018.8 L621.0,1016.6 L613.1,1013.4 L605.2,1011.0 L597.2,1008.2Z" fill="rgb(81, 40, 1)"/>
<path d="M597.2,1006.2 L605.2,1008.9 L613.1,1011.3 L621.0,1014.4 L629.0,1016.7 L637.0,1019.4 L644.9,1022.0 L652.8,1025.0 L660.8,1027.6 L660.8,1036.0 L652.8,1033.3 L644.9,1030.3 L637.0,1027.7 L629.0,1024.9 L621.0,1022.4 L613.1,1019.4 L605.2,1016.8 L597.2,1014.1Z" fill="rgb(69, 34, 1)"/>
<path d="M597.2,1012.0 L605.2,1014.7 L613.1,1017.3 L621.0,1020.3 L629.0,1022.7 L637.0,1025.5 L644.9,1028.1 L652.8,1031.1 L660.8,1033.8 L660.8,1042.2 L652.8,1039.4 L644.9,1036.5 L637.0,1033.7 L629.0,1030.9 L621.0,1028.3 L613.1,1025.4 L605.2,1022.7 L597.2,1019.9Z" fill="rgb(56, 27, 1)"/>
<path d="M597.2,1017.8 L605.2,1020.6 L613.1,1023.2 L621.0,1026.2 L629.0,1028.7 L637.0,1031.6 L644.9,1034.3 L652.8,1037.2 L660.8,1039.9 L660.8,1048.3 L652.8,1045.5 L644.9,1042.6 L637.0,1039.8 L629.0,1037.0 L621.0,1034.2 L613.1,1031.3 L605.2,1028.5 L597.2,1025.7Z" fill="rgb(44, 20, 0)"/>
<path d="M450.0,1036.0C452.1,1016.0 464.7,996.0 471.0,996.0C477.3,996.0 489.9,1016.0 492.0,1036.0Z" fill="url(#h1)"/>
<path d="M597.2,1023.6 L605.2,1026.4 L613.1,1029.2 L621.0,1032.1 L629.0,1034.8 L637.0,1037.6 L644.9,1040.4 L652.8,1043.3 L660.8,1046.1 L660.8,1052.3 L652.8,1049.4 L644.9,1046.6 L637.0,1043.7 L629.0,1040.8 L621.0,1038.0 L613.1,1035.1 L605.2,1032.3 L597.2,1029.4Z" fill="rgb(31, 14, 0)"/>
<path d="M353.5,1040.0C355.6,1011.0 367.9,982.0 374.0,982.0C380.1,982.0 392.4,1011.0 394.5,1040.0Z" fill="url(#h2)"/>
<path d="M472.9,1043.1C475.9,1025.3 493.9,1007.6 502.8,1007.6C511.8,1007.6 529.7,1025.3 532.7,1043.1Z" fill="url(#h3)"/>
<path d="M325.2,1045.4C328.3,1021.1 346.7,996.8 355.9,996.8C365.1,996.8 383.6,1021.1 386.6,1045.4Z" fill="url(#h1)"/>
<path d="M402.0,1046.0C404.8,1023.0 421.6,1000.0 430.0,1000.0C438.4,1000.0 455.2,1023.0 458.0,1046.0Z" fill="url(#h1)"/>
<path d="M327.0,1050.0C329.3,1030.0 343.1,1010.0 350.0,1010.0C356.9,1010.0 370.7,1030.0 373.0,1050.0Z" fill="url(#h1)"/>
<path d="M367.0,1050.0C369.3,1030.0 383.1,1010.0 390.0,1010.0C396.9,1010.0 410.7,1030.0 413.0,1050.0Z" fill="url(#h1)"/>
<path d="M449.5,1052.9C451.7,1037.6 464.9,1022.3 471.5,1022.3C478.1,1022.3 491.3,1037.6 493.5,1052.9Z" fill="url(#h3)"/>
<path d="M497.0,1061.0C498.8,1042.0 509.6,1023.0 515.0,1023.0C520.4,1023.0 531.2,1042.0 533.0,1061.0Z" fill="url(#h1)"/>
<path d="M358.4,1062.5C361.1,1041.9 377.6,1021.3 385.8,1021.3C394.0,1021.3 410.4,1041.9 413.2,1062.5Z" fill="url(#h0)"/>
<path d="M508.4,1070.6C511.6,1050.9 530.5,1031.1 539.9,1031.1C549.4,1031.1 568.3,1050.9 571.4,1070.6Z" fill="url(#h3)"/>
<path d="M458.2,1071.7C461.2,1052.9 479.1,1034.1 488.1,1034.1C497.0,1034.1 514.9,1052.9 517.9,1071.7Z" fill="url(#h3)"/>
<path d="M417.0,1072.0C419.8,1050.0 436.6,1028.0 445.0,1028.0C453.4,1028.0 470.2,1050.0 473.0,1072.0Z" fill="url(#h1)"/>
<path d="M398.0,1078.0C399.4,1059.0 407.8,1040.0 412.0,1040.0C416.2,1040.0 424.6,1059.0 426.0,1078.0Z" fill="url(#h2)"/>
<path d="M497.0,1080.0C499.3,1060.0 513.1,1040.0 520.0,1040.0C526.9,1040.0 540.7,1060.0 543.0,1080.0Z" fill="url(#h1)"/>
<path d="M447.0,1080.0C449.3,1060.0 463.1,1040.0 470.0,1040.0C476.9,1040.0 490.7,1060.0 493.0,1080.0Z" fill="url(#h1)"/>
<path d="M421.8,1081.0C425.2,1056.1 445.4,1031.2 455.5,1031.2C465.5,1031.2 485.7,1056.1 489.1,1081.0Z" fill="url(#h3)"/>
<path d="M406.9,1083.2C408.9,1061.6 420.9,1040.1 426.9,1040.1C432.8,1040.1 444.8,1061.6 446.8,1083.2Z" fill="url(#h3)"/>
<path d="M466.0,1096.0C467.8,1076.0 478.6,1056.0 484.0,1056.0C489.4,1056.0 500.2,1076.0 502.0,1096.0Z" fill="url(#h2)"/>
<path d="M462.5,1112.1C464.8,1094.4 479.0,1076.7 486.0,1076.7C493.1,1076.7 507.2,1094.4 509.6,1112.1Z" fill="url(#h3)"/>
</g>
<rect x="40" y="560" width="700" height="560" filter="url(#streak)" style="mix-blend-mode:overlay" opacity="0.13"/>
</g>
<g stroke="#222" stroke-width="1" fill="none">
<line x1="40" y1="903" x2="498" y2="1127"/>
<line x1="498" y1="1127" x2="493" y2="1131"/>
<line x1="507" y1="1127" x2="741" y2="757"/>
<line x1="507" y1="1127" x2="512" y2="1131"/>
<line x1="263" y1="1012" x2="262" y2="1016"/>
<line x1="631" y1="931" x2="635" y2="933"/>
<polyline points="751,704 746,704 745,751 751,751"/>
<line x1="745.5" y1="728.5" x2="750" y2="728.5"/>
</g>
<g font-size="11" fill="#111">
<text x="4" y="932">10 µm</text>
<text x="228" y="1038">5 µm</text>
<text x="467" y="1155">0 µm</text>
<text x="525" y="1140">0 µm</text>
<text x="647" y="946">5 µm</text>
<text x="757" y="778">10 µm</text>
<text x="757" y="708">300 nm</text>
<text x="757" y="732">150 nm</text>
<text x="755" y="756">0 nm</text>
</g>
<text x="832" y="647" font-size="54" font-weight="bold" fill="#000">b</text>
<rect x="903" y="699.5" width="590.5" height="401" fill="none" stroke="#d8d8d8" stroke-width="1"/>
<rect x="903.50" y="1097.5" width="8.2" height="3.2" fill="#000"/>
<rect x="915.34" y="1085.7" width="8.2" height="15.0" fill="#000"/>
<rect x="927.18" y="1038.8" width="8.2" height="61.9" fill="#000"/>
<rect x="939.02" y="992.5" width="8.2" height="108.2" fill="#000"/>
<rect x="950.86" y="944.3" width="8.2" height="156.4" fill="#000"/>
<rect x="962.70" y="923.6" width="8.2" height="177.1" fill="#000"/>
<rect x="974.54" y="908.0" width="8.2" height="192.7" fill="#000"/>
<rect x="986.38" y="896.5" width="8.2" height="204.2" fill="#000"/>
<rect x="998.22" y="818.4" width="8.2" height="282.3" fill="#000"/>
<rect x="1010.06" y="770.4" width="8.2" height="330.3" fill="#000"/>
<rect x="1021.90" y="762.1" width="8.2" height="338.6" fill="#000"/>
<rect x="1033.74" y="725.2" width="8.2" height="375.5" fill="#000"/>
<rect x="1045.58" y="722.4" width="8.2" height="378.3" fill="#000"/>
<rect x="1057.42" y="746.1" width="8.2" height="354.6" fill="#000"/>
<rect x="1069.26" y="750.8" width="8.2" height="349.9" fill="#000"/>
<rect x="1081.10" y="758.3" width="8.2" height="342.4" fill="#000"/>
<rect x="1092.94" y="768.9" width="8.2" height="331.8" fill="#000"/>
<rect x="1104.78" y="800.3" width="8.2" height="300.4" fill="#000"/>
<rect x="1116.62" y="807.8" width="8.2" height="292.9" fill="#000"/>
<rect x="1128.46" y="836.6" width="8.2" height="264.1" fill="#000"/>
<rect x="1140.30" y="842.5" width="8.2" height="258.2" fill="#000"/>
<rect x="1152.14" y="849.6" width="8.2" height="251.1" fill="#000"/>
<rect x="1163.98" y="872.4" width="8.2" height="228.3" fill="#000"/>
<rect x="1175.82" y="901.2" width="8.2" height="199.5" fill="#000"/>
<rect x="1187.66" y="909.7" width="8.2" height="191.0" fill="#000"/>
<rect x="1199.50" y="914.4" width="8.2" height="186.3" fill="#000"/>
<rect x="1211.34" y="940.0" width="8.2" height="160.7" fill="#000"/>
<rect x="1223.18" y="940.0" width="8.2" height="160.7" fill="#000"/>
<rect x="1235.02" y="966.9" width="8.2" height="133.8" fill="#000"/>
<rect x="1246.86" y="966.9" width="8.2" height="133.8" fill="#000"/>
<rect x="1258.70" y="997.2" width="8.2" height="103.5" fill="#000"/>
<rect x="1270.54" y="1004.7" width="8.2" height="96.0" fill="#000"/>
<rect x="1282.38" y="1009.1" width="8.2" height="91.6" fill="#000"/>
<rect x="1294.22" y="1009.1" width="8.2" height="91.6" fill="#000"/>
<rect x="1306.06" y="1037.7" width="8.2" height="63.0" fill="#000"/>
<rect x="1317.90" y="1037.7" width="8.2" height="63.0" fill="#000"/>
<rect x="1329.74" y="1064.4" width="8.2" height="36.3" fill="#000"/>
<rect x="1341.58" y="1064.4" width="8.2" height="36.3" fill="#000"/>
<rect x="1353.42" y="1069.1" width="8.2" height="31.6" fill="#000"/>
<rect x="1365.26" y="1069.1" width="8.2" height="31.6" fill="#000"/>
<rect x="1377.10" y="1076.6" width="8.2" height="24.1" fill="#000"/>
<rect x="1388.94" y="1076.6" width="8.2" height="24.1" fill="#000"/>
<rect x="1400.78" y="1078.3" width="8.2" height="22.4" fill="#000"/>
<rect x="1412.62" y="1079.8" width="8.2" height="20.9" fill="#000"/>
<rect x="1424.46" y="1085.7" width="8.2" height="15.0" fill="#000"/>
<rect x="1436.30" y="1090.0" width="8.2" height="10.7" fill="#000"/>
<rect x="1448.14" y="1097.5" width="8.2" height="3.2" fill="#000"/>
<rect x="1459.98" y="1097.5" width="8.2" height="3.2" fill="#000"/>
<rect x="1471.82" y="1097.5" width="8.2" height="3.2" fill="#000"/>
<g stroke="#000" stroke-width="1.6">
<line x1="902.8" y1="699" x2="902.8" y2="1101.5"/>
<line x1="895.5" y1="1100.7" x2="1494" y2="1100.7"/>
<line x1="894" y1="754.5" x2="902.8" y2="754.5"/>
<line x1="894" y1="841" x2="902.8" y2="841"/>
<line x1="894" y1="927.5" x2="902.8" y2="927.5"/>
<line x1="894" y1="1014" x2="902.8" y2="1014"/>
<line x1="908.0" y1="1100.7" x2="908.0" y2="1109"/>
<line x1="1006.5" y1="1100.7" x2="1006.5" y2="1109"/>
<line x1="1105.0" y1="1100.7" x2="1105.0" y2="1109"/>
<line x1="1203.5" y1="1100.7" x2="1203.5" y2="1109"/>
<line x1="1302.0" y1="1100.7" x2="1302.0" y2="1109"/>
<line x1="1400.5" y1="1100.7" x2="1400.5" y2="1109"/>
</g>
<g font-size="18" fill="#222" text-anchor="end">
<text x="882" y="761">800</text>
<text x="882" y="848">600</text>
<text x="882" y="934">400</text>
<text x="882" y="1020">200</text>
</g>
<g font-size="18" fill="#222" text-anchor="middle">
<text x="908.0" y="1133">100</text>
<text x="1006.5" y="1133">200</text>
<text x="1105.0" y="1133">300</text>
<text x="1203.5" y="1133">400</text>
<text x="1302.0" y="1133">500</text>
<text x="1400.5" y="1133">600</text>
</g>
<text x="1143" y="1166" font-size="18" fill="#222" textLength="100" lengthAdjust="spacingAndGlyphs">Height (nm)</text>
<text transform="translate(834,950) rotate(-90)" font-size="17" fill="#222" textLength="82" lengthAdjust="spacingAndGlyphs">Frequency</text>
<text x="104" y="1187" font-size="46" font-weight="bold" fill="#000">C</text>
<g stroke="#333" stroke-width="2" fill="none">
<line x1="312.2" y1="1245" x2="312.2" y2="2009.5"/>
<line x1="306" y1="2008.7" x2="1110.5" y2="2008.7"/>
<line x1="305.5" y1="1245.6" x2="312.2" y2="1245.6"/>
<line x1="299.5" y1="1274.9" x2="312.2" y2="1274.9"/>
<line x1="305.5" y1="1304.3" x2="312.2" y2="1304.3"/>
<line x1="299.5" y1="1333.6" x2="312.2" y2="1333.6"/>
<line x1="305.5" y1="1363.0" x2="312.2" y2="1363.0"/>
<line x1="299.5" y1="1392.3" x2="312.2" y2="1392.3"/>
<line x1="305.5" y1="1421.7" x2="312.2" y2="1421.7"/>
<line x1="299.5" y1="1451.0" x2="312.2" y2="1451.0"/>
<line x1="305.5" y1="1480.4" x2="312.2" y2="1480.4"/>
<line x1="299.5" y1="1509.8" x2="312.2" y2="1509.8"/>
<line x1="305.5" y1="1539.1" x2="312.2" y2="1539.1"/>
<line x1="299.5" y1="1568.4" x2="312.2" y2="1568.4"/>
<line x1="305.5" y1="1597.8" x2="312.2" y2="1597.8"/>
<line x1="299.5" y1="1627.1" x2="312.2" y2="1627.1"/>
<line x1="305.5" y1="1656.5" x2="312.2" y2="1656.5"/>
<line x1="299.5" y1="1685.8" x2="312.2" y2="1685.8"/>
<line x1="305.5" y1="1715.2" x2="312.2" y2="1715.2"/>
<line x1="299.5" y1="1744.5" x2="312.2" y2="1744.5"/>
<line x1="305.5" y1="1773.9" x2="312.2" y2="1773.9"/>
<line x1="299.5" y1="1803.2" x2="312.2" y2="1803.2"/>
<line x1="305.5" y1="1832.6" x2="312.2" y2="1832.6"/>
<line x1="299.5" y1="1861.9" x2="312.2" y2="1861.9"/>
<line x1="305.5" y1="1891.3" x2="312.2" y2="1891.3"/>
<line x1="299.5" y1="1920.7" x2="312.2" y2="1920.7"/>
<line x1="305.5" y1="1950.0" x2="312.2" y2="1950.0"/>
<line x1="299.5" y1="1979.3" x2="312.2" y2="1979.3"/>
<line x1="312.2" y1="2008.7" x2="312.2" y2="2017.5"/>
<line x1="365.4" y1="2008.7" x2="365.4" y2="2017.5"/>
<line x1="418.6" y1="2008.7" x2="418.6" y2="2017.5"/>
<line x1="471.8" y1="2008.7" x2="471.8" y2="2017.5"/>
<line x1="525.0" y1="2008.7" x2="525.0" y2="2017.5"/>
<line x1="578.2" y1="2008.7" x2="578.2" y2="2017.5"/>
<line x1="631.4" y1="2008.7" x2="631.4" y2="2017.5"/>
<line x1="684.6" y1="2008.7" x2="684.6" y2="2017.5"/>
<line x1="737.8" y1="2008.7" x2="737.8" y2="2017.5"/>
<line x1="791.0" y1="2008.7" x2="791.0" y2="2017.5"/>
<line x1="844.2" y1="2008.7" x2="844.2" y2="2017.5"/>
<line x1="897.4" y1="2008.7" x2="897.4" y2="2017.5"/>
<line x1="950.6" y1="2008.7" x2="950.6" y2="2017.5"/>
<line x1="1003.8" y1="2008.7" x2="1003.8" y2="2017.5"/>
<line x1="1057.0" y1="2008.7" x2="1057.0" y2="2017.5"/>
<line x1="1110.2" y1="2008.7" x2="1110.2" y2="2017.5"/>
</g>
<g font-size="24.5" fill="#222" text-anchor="middle">
<text x="365.4" y="2058">0</text>
<text x="471.8" y="2058">500</text>
<text x="578.2" y="2058">1000</text>
<text x="684.6" y="2058">1500</text>
<text x="791.0" y="2058">2000</text>
<text x="897.4" y="2058">2500</text>
<text x="1003.8" y="2058">3000</text>
<text x="1110.2" y="2058">3500</text>
</g>
<text x="574" y="2116" font-size="34" font-weight="bold" fill="#111">Wavenumber (cm<tspan font-size="20" dy="-14">-1</tspan><tspan dy="14">)</tspan></text>
<text transform="translate(256,1613) rotate(-90)" font-size="33" font-weight="bold" fill="#111" text-anchor="middle">Raman Intensity</text>
<polyline points="386.5,1568.0 388.7,1557.3 390.3,1556.9 391.9,1557.7 393.5,1557.6 395.1,1557.0 396.7,1557.3 398.5,1558.2 400.2,1559.0 402.0,1560.0 403.6,1560.1 405.2,1560.3 406.8,1559.4 408.4,1559.3 410.0,1560.2 411.6,1559.7 413.2,1560.0 414.8,1559.1 416.4,1559.5 418.0,1559.8 419.6,1559.2 421.2,1560.0 422.8,1559.9 424.4,1558.8 426.0,1558.8 427.6,1559.4 429.2,1559.8 430.8,1559.1 432.4,1558.8 434.0,1559.0 435.6,1558.5 437.2,1558.7 438.8,1558.9 440.4,1559.0 442.0,1558.6 443.6,1558.6 445.2,1558.5 446.8,1558.7 448.4,1558.5 450.0,1558.7 451.6,1558.1 453.2,1559.0 454.8,1558.6 456.5,1558.7 458.1,1558.0 459.7,1559.0 461.3,1558.7 462.9,1557.8 464.5,1558.0 466.1,1558.4 467.7,1558.4 469.4,1558.6 471.0,1557.9 472.6,1558.3 474.2,1558.1 475.8,1557.6 477.4,1557.9 479.0,1558.2 480.6,1558.1 482.3,1557.6 483.9,1557.7 485.5,1556.9 487.1,1557.1 488.7,1557.7 490.3,1557.2 491.9,1556.9 493.5,1557.3 495.2,1557.4 496.8,1557.3 498.4,1556.9 500.0,1557.0 501.7,1556.8 503.3,1556.8 505.0,1557.1 506.7,1556.7 508.3,1556.5 510.0,1556.5 511.7,1555.9 513.3,1555.8 515.0,1556.5 516.7,1556.7 518.3,1556.2 520.0,1555.9 521.7,1555.5 523.3,1555.8 525.0,1556.3 526.7,1556.0 528.3,1555.6 530.0,1555.5 531.8,1555.1 533.6,1553.6 535.4,1553.1 537.1,1552.8 538.9,1551.6 540.7,1550.7 542.4,1550.7 544.1,1550.4 545.9,1550.8 547.6,1551.2 549.3,1550.1 551.0,1550.7 554.0,1548.8 557.0,1550.5 558.7,1550.7 560.3,1550.7 562.0,1550.6 563.7,1550.4 565.3,1550.3 567.0,1549.9 568.6,1549.8 570.3,1549.5 572.0,1549.0 573.6,1549.9 575.3,1549.3 577.1,1549.1 578.9,1548.3 580.6,1548.4 582.4,1548.1 584.2,1547.6 586.0,1547.5 588.5,1542.0 590.0,1534.0 591.5,1542.0 593.0,1547.0 595.1,1546.4 597.2,1546.3 599.3,1545.9 601.1,1543.6 603.0,1541.0 604.7,1534.0 606.5,1544.0 608.6,1545.5 610.6,1546.6 612.7,1548.0 614.3,1547.7 615.9,1548.2 617.5,1548.4 619.1,1549.1 620.7,1549.3 622.3,1548.9 623.9,1548.1 625.5,1547.3 627.1,1546.5 628.7,1545.3 630.3,1543.8 631.9,1543.4 633.5,1542.0 635.1,1540.2 636.7,1539.5 639.5,1530.0 640.7,1517.3 642.0,1530.0 643.3,1539.5 645.0,1540.2 646.6,1541.6 648.3,1543.8 650.0,1544.8 651.6,1544.3 653.2,1544.0 654.8,1544.5 656.4,1544.0 658.0,1543.5 659.6,1543.4 661.2,1543.7 662.8,1543.1 664.4,1543.1 666.0,1543.2 668.5,1538.0 670.0,1524.0 671.9,1517.3 673.6,1518.9 675.3,1520.0 677.3,1524.6 679.3,1529.3 681.1,1534.0 682.9,1539.1 684.7,1544.0 686.3,1543.4 688.0,1543.7 689.6,1543.7 691.3,1543.4 692.9,1543.2 694.5,1544.1 696.2,1543.6 697.8,1543.2 699.4,1543.6 701.1,1543.8 702.7,1542.7 704.4,1542.7 706.0,1543.2 708.0,1542.4 710.0,1542.7 712.0,1542.0 714.4,1540.3 716.7,1539.5 718.5,1540.8 720.2,1541.8 722.0,1542.7 723.7,1542.4 725.4,1541.6 727.1,1542.1 728.9,1541.5 730.6,1540.8 732.3,1540.1 734.0,1540.0 736.0,1541.4 738.0,1542.5 739.6,1542.3 741.2,1542.4 742.8,1542.0 744.4,1542.3 746.0,1541.5 747.6,1541.7 749.2,1542.4 750.8,1542.2 752.4,1541.4 754.0,1541.9 755.6,1541.2 757.2,1541.8 758.8,1541.5 760.4,1541.0 762.0,1540.7 763.6,1540.3 765.2,1541.3 766.8,1540.1 768.4,1541.0 770.0,1540.5 771.6,1540.9 773.3,1540.2 774.9,1539.6 776.5,1540.3 778.1,1540.2 779.8,1539.7 781.4,1539.3 783.0,1539.0 784.7,1538.8 786.3,1538.5 787.9,1538.9 789.5,1538.4 791.2,1538.0 792.8,1537.7 794.4,1538.2 796.0,1537.6 797.7,1537.7 799.3,1537.3 800.9,1537.8 802.6,1537.6 804.2,1536.4 805.8,1536.5 807.4,1536.4 809.1,1537.1 810.7,1536.7 812.3,1536.0 814.0,1535.6 815.6,1536.0 817.2,1536.0 818.8,1536.0 820.5,1535.1 822.1,1535.6 823.7,1535.2 825.3,1534.8 827.0,1535.2 828.6,1534.2 830.2,1534.6 831.9,1533.6 833.5,1533.6 835.1,1534.3 836.7,1533.3 838.4,1533.8 840.0,1533.3 841.6,1533.3 843.2,1533.5 844.8,1532.9 846.5,1532.7 848.1,1532.6 849.7,1533.2 851.3,1532.7 852.9,1533.1 854.5,1532.9 856.2,1531.9 857.8,1532.3 859.4,1531.7 861.0,1531.5 862.6,1531.4 864.2,1532.3 865.8,1532.1 867.5,1532.0 869.1,1531.4 870.7,1531.6 872.3,1531.7 873.9,1531.1 875.5,1531.3 877.1,1530.7 878.8,1530.5 880.4,1530.6 882.0,1531.2 883.6,1530.8 885.2,1531.1 886.8,1530.4 888.5,1530.1 890.1,1530.6 891.7,1530.6 893.3,1530.1 894.9,1529.2 896.6,1529.8 898.2,1528.8 899.8,1528.6 901.4,1529.2 903.1,1528.0 904.7,1527.9 906.3,1528.6 907.9,1527.6 909.6,1527.0 911.2,1526.8 912.8,1526.6 914.4,1526.9 916.1,1525.9 917.7,1526.6 919.3,1525.7 920.9,1526.2 922.6,1525.8 924.2,1524.8 925.8,1524.5 927.4,1524.5 929.1,1523.8 930.7,1524.0 932.3,1523.1 933.9,1521.3 935.5,1520.2 937.1,1520.3 938.7,1518.7 941.1,1515.1 943.5,1512.0 945.4,1513.7 947.4,1515.1 949.3,1516.8 950.9,1515.6 952.5,1514.4 954.1,1514.4 955.7,1513.5 957.3,1512.0 959.1,1509.5 960.9,1505.3 962.7,1502.7 965.3,1480.0 968.0,1426.7 970.7,1394.7 973.3,1390.7 975.5,1346.7 977.3,1274.7 979.2,1346.7 981.3,1400.0 983.3,1408.0 985.3,1416.0 987.3,1421.0 989.3,1426.7 992.0,1450.7 994.7,1453.3 997.3,1480.0 999.3,1490.7 1001.3,1501.3 1003.0,1504.4 1004.6,1507.9 1006.3,1510.4 1008.0,1513.3 1009.8,1514.2 1011.6,1514.8 1013.4,1515.0 1015.1,1516.0 1016.9,1516.4 1018.7,1517.3 1020.3,1517.2 1021.9,1517.2 1023.5,1517.7 1025.1,1518.8 1026.7,1518.3 1028.3,1518.8 1029.9,1519.0 1031.5,1519.6 1033.1,1519.1 1034.7,1519.5 1036.5,1519.1 1038.2,1519.0 1040.0,1518.9 1041.8,1519.4 1043.5,1519.3 1045.3,1518.7" fill="none" stroke="#e8705a" stroke-width="1.7" stroke-linejoin="round"/>
<polyline points="386.5,1708.0 388.7,1698.7 390.3,1699.3 391.9,1699.3 393.5,1698.3 395.2,1698.4 396.8,1699.3 398.4,1699.2 400.0,1699.0 401.6,1699.2 403.3,1698.7 404.9,1699.0 406.5,1699.0 408.2,1698.9 409.8,1698.4 411.4,1698.7 413.1,1698.6 414.7,1698.9 416.3,1699.2 418.0,1699.1 419.6,1698.6 421.2,1698.5 422.8,1698.2 424.5,1697.9 426.1,1697.9 427.7,1698.3 429.4,1698.1 431.0,1698.2 432.6,1698.7 434.3,1698.3 435.9,1698.3 437.5,1697.9 439.2,1697.6 440.8,1697.9 442.4,1697.6 444.1,1698.0 445.7,1698.6 447.3,1698.2 449.0,1697.5 450.6,1698.4 452.2,1698.2 453.9,1698.1 455.5,1698.3 457.1,1698.0 458.7,1698.0 460.4,1697.5 462.0,1698.2 463.6,1698.1 465.3,1697.1 466.9,1697.8 468.5,1697.7 470.2,1697.4 471.8,1697.4 473.4,1697.4 475.1,1697.8 476.7,1697.3 478.3,1697.1 479.9,1697.3 481.5,1696.6 483.2,1697.1 484.8,1696.9 486.4,1696.2 488.0,1696.2 489.6,1696.4 491.2,1696.0 492.9,1695.5 494.5,1695.0 496.1,1695.0 497.7,1695.3 499.3,1694.4 500.9,1695.2 502.5,1694.2 504.2,1694.8 505.8,1693.9 507.4,1694.5 509.0,1694.0 510.6,1693.6 512.2,1693.5 513.8,1693.4 515.5,1693.2 517.1,1692.7 518.7,1692.4 520.3,1692.6 521.9,1692.9 523.5,1692.4 525.2,1691.5 526.8,1692.2 528.4,1691.9 530.0,1691.5 531.7,1691.6 533.3,1690.3 535.0,1690.5 536.6,1689.2 538.3,1689.5 540.0,1688.6 541.6,1688.1 543.3,1688.0 545.0,1688.3 546.6,1687.2 548.3,1687.5 550.0,1687.8 551.7,1686.9 553.4,1686.7 555.0,1687.3 556.7,1686.7 558.3,1686.4 560.0,1686.5 561.6,1685.5 563.3,1685.7 564.9,1685.3 566.5,1685.7 568.2,1684.7 569.8,1685.6 571.4,1684.3 573.1,1684.9 574.7,1683.8 576.4,1683.9 578.0,1684.0 579.9,1683.8 581.7,1682.5 583.6,1682.0 585.4,1682.1 587.3,1681.3 590.0,1673.3 592.7,1681.3 594.6,1681.1 596.4,1680.6 598.3,1681.6 600.1,1680.5 602.0,1680.8 604.7,1673.3 607.3,1680.0 609.1,1680.0 610.9,1681.0 612.6,1681.9 614.4,1682.6 616.2,1682.5 618.0,1683.5 619.8,1682.3 621.6,1680.9 623.4,1680.3 625.1,1679.7 626.9,1678.6 628.7,1677.3 630.6,1676.5 632.4,1675.0 634.3,1673.8 636.1,1672.3 638.0,1670.7 640.7,1656.0 643.3,1673.3 645.2,1674.2 647.1,1674.9 648.9,1676.4 650.8,1676.9 652.7,1678.1 654.4,1677.2 656.0,1677.2 657.7,1677.3 659.4,1676.0 661.0,1676.1 662.7,1675.4 664.3,1675.1 666.0,1674.7 667.8,1667.1 669.5,1659.6 671.3,1652.0 673.1,1652.9 674.9,1655.2 676.7,1656.0 678.4,1660.0 680.0,1664.8 681.6,1668.9 683.3,1673.3 684.9,1672.6 686.5,1673.1 688.1,1672.5 689.8,1672.2 691.4,1672.1 693.0,1672.1 694.6,1671.9 696.2,1672.4 697.8,1672.1 699.5,1672.5 701.1,1672.3 702.7,1672.3 704.3,1671.2 705.9,1671.3 707.5,1670.9 709.2,1671.2 710.8,1671.1 712.4,1671.2 714.0,1670.7 716.7,1668.0 718.4,1669.5 720.0,1670.5 721.8,1670.0 723.5,1669.9 725.2,1669.8 727.0,1668.9 728.8,1668.7 730.5,1668.9 732.2,1668.3 734.0,1668.5 735.6,1668.7 737.3,1668.0 738.9,1667.7 740.5,1667.6 742.2,1667.6 743.8,1667.5 745.5,1667.7 747.1,1667.5 748.7,1667.2 750.4,1667.5 752.0,1666.9 753.6,1667.6 755.3,1667.5 756.9,1667.1 758.5,1666.6 760.2,1666.6 761.8,1666.6 763.5,1665.8 765.1,1666.2 766.7,1666.2 768.4,1665.6 770.0,1665.9 771.6,1665.2 773.3,1665.8 774.9,1665.0 776.5,1665.0 778.1,1665.3 779.8,1664.7 781.4,1664.0 783.0,1664.6 784.7,1663.7 786.3,1663.0 787.9,1663.6 789.5,1662.7 791.2,1662.7 792.8,1663.1 794.4,1662.7 796.0,1661.6 797.7,1661.9 799.3,1661.6 800.9,1661.5 802.6,1660.9 804.2,1661.2 805.8,1660.3 807.4,1660.3 809.1,1660.2 810.7,1660.7 812.3,1659.4 814.0,1660.0 815.6,1659.1 817.2,1659.3 818.8,1658.9 820.5,1658.7 822.1,1658.8 823.7,1658.2 825.3,1657.6 827.0,1657.4 828.6,1657.1 830.2,1657.8 831.9,1657.3 833.5,1657.5 835.1,1656.9 836.7,1655.9 838.4,1656.4 840.0,1656.0 841.6,1656.1 843.2,1655.8 844.8,1655.3 846.5,1654.9 848.1,1654.7 849.7,1654.9 851.3,1654.0 852.9,1654.1 854.5,1653.8 856.2,1654.1 857.8,1653.7 859.4,1653.6 861.0,1653.3 862.6,1652.4 864.2,1652.0 865.8,1652.1 867.5,1651.6 869.1,1651.5 870.7,1651.6 872.3,1651.7 873.9,1651.0 875.5,1651.0 877.1,1649.9 878.8,1650.0 880.4,1650.5 882.0,1649.3 883.6,1649.4 885.2,1648.7 886.8,1648.5 888.5,1649.2 890.1,1649.1 891.7,1648.4 893.3,1648.0 894.9,1647.1 896.6,1646.8 898.2,1646.3 899.8,1646.3 901.4,1645.9 903.1,1645.1 904.7,1644.8 906.3,1643.8 907.9,1643.9 909.6,1643.9 911.2,1643.2 912.8,1641.9 914.4,1642.0 916.1,1641.7 917.7,1640.7 919.3,1641.0 920.9,1640.0 922.6,1639.9 924.2,1639.0 925.8,1639.3 927.4,1638.6 929.1,1637.9 930.7,1637.3 932.4,1635.5 934.0,1634.6 935.6,1632.8 937.3,1632.0 939.0,1630.9 940.6,1630.1 942.3,1628.0 944.0,1627.2 945.8,1627.9 947.5,1628.6 949.3,1629.3 950.9,1628.1 952.5,1627.4 954.1,1626.6 955.7,1625.3 957.3,1624.0 959.0,1620.6 960.6,1617.9 962.3,1613.8 964.0,1610.7 966.7,1586.7 969.3,1546.7 972.0,1528.0 974.7,1520.0 976.5,1480.0 978.1,1421.3 980.0,1480.0 982.7,1514.7 984.5,1520.9 986.2,1527.1 988.0,1533.3 990.7,1544.0 992.7,1554.7 994.7,1565.3 996.7,1578.7 998.7,1592.0 1000.7,1601.3 1002.7,1610.7 1004.3,1612.9 1005.9,1614.6 1007.5,1616.6 1009.1,1618.6 1010.7,1620.0 1012.5,1620.3 1014.2,1621.3 1016.0,1621.6 1017.8,1622.5 1019.5,1623.5 1021.3,1623.5 1022.9,1623.8 1024.5,1623.2 1026.1,1623.8 1027.7,1624.2 1029.3,1624.6 1030.9,1624.4 1032.5,1624.7 1034.1,1623.9 1035.7,1625.1 1037.3,1625.0 1038.9,1624.9 1040.5,1625.4 1042.1,1625.5 1043.7,1624.7 1045.3,1625.3" fill="none" stroke="#6672b6" stroke-width="1.7" stroke-linejoin="round"/>
<polyline points="386.3,1973.3 388.0,1900.0 390.0,1843.3 392.5,1891.7 395.0,1900.0 397.1,1921.2 399.2,1942.5 400.9,1930.6 402.5,1918.6 404.2,1906.7 406.2,1930.8 408.3,1955.0 410.0,1960.4 411.7,1966.7 413.4,1965.9 415.0,1964.8 416.6,1964.3 418.3,1963.3 420.0,1966.9 421.7,1970.0 423.4,1969.0 425.0,1968.7 426.7,1969.7 428.4,1968.5 430.0,1968.2 431.7,1968.3 433.8,1970.3 435.9,1970.7 438.0,1972.0 439.8,1972.9 441.5,1972.6 443.2,1973.2 445.0,1973.3 446.7,1972.1 448.3,1972.2 450.0,1971.9 451.6,1970.7 453.3,1970.0 455.0,1972.3 456.6,1974.0 458.3,1974.9 460.0,1977.5 461.7,1977.1 463.3,1976.0 465.0,1975.0 466.6,1970.5 468.3,1966.7 470.0,1969.3 471.6,1974.0 473.3,1976.7 475.0,1975.8 476.6,1975.4 478.3,1974.8 480.0,1973.3 481.8,1974.3 483.5,1975.3 485.2,1975.2 487.0,1976.0 489.1,1976.7 491.2,1976.4 493.3,1976.7 495.8,1919.2 498.3,1966.7 500.0,1969.6 501.6,1971.7 503.3,1973.3 505.6,1971.5 508.0,1971.0 509.8,1970.1 511.5,1969.9 513.3,1970.0 515.0,1972.6 516.6,1973.6 518.3,1975.8 520.0,1977.5 521.7,1975.7 523.3,1974.5 525.0,1973.0 526.7,1972.4 528.3,1971.9 530.0,1971.7 532.0,1970.0 534.0,1968.0 536.1,1967.5 538.3,1966.7 541.0,1970.0 543.4,1958.3 545.8,1946.7 547.5,1958.3 549.2,1970.0 551.0,1955.8 552.9,1941.7 554.7,1927.5 556.5,1936.9 558.2,1946.2 560.0,1955.6 561.7,1965.0 563.8,1955.0 565.8,1945.0 568.3,1966.7 570.4,1965.6 572.5,1963.3 575.5,1940.0 578.0,1719.2 579.7,1955.0 581.5,1935.8 583.3,1916.7 585.8,1950.0 587.5,1951.3 589.3,1952.7 591.0,1953.0 592.9,1956.5 594.8,1959.6 596.7,1961.7 598.6,1963.6 600.6,1964.5 602.5,1966.7 605.0,1953.3 607.5,1965.0 609.6,1949.2 611.7,1933.3 614.0,1946.0 616.7,1940.0 618.4,1946.4 620.0,1951.7 621.7,1951.9 623.3,1951.2 625.0,1950.0 627.1,1953.9 629.2,1957.5 631.2,1947.9 633.3,1938.3 635.0,1932.8 636.7,1926.7 639.2,1938.3 640.9,1942.8 642.5,1948.3 645.0,1921.7 647.5,1914.2 650.0,1936.7 651.6,1941.4 653.3,1945.0 655.4,1946.6 657.5,1948.0 659.4,1951.9 661.4,1955.8 663.3,1960.8 665.1,1961.0 667.0,1960.0 669.1,1954.1 671.2,1946.0 673.3,1940.0 675.0,1943.8 676.7,1946.7 678.4,1945.7 680.0,1945.0 681.6,1950.3 683.3,1956.7 685.0,1955.5 686.7,1955.0 688.4,1957.1 690.0,1958.9 691.6,1959.3 693.3,1961.7 695.4,1961.9 697.5,1961.7 700.0,1933.3 701.6,1915.0 703.3,1896.7 705.8,1718.3 707.5,1900.0 709.2,1940.0 710.9,1933.3 712.5,1926.7 714.7,1902.5 716.7,1933.3 718.4,1945.8 720.0,1958.3 722.1,1957.6 724.2,1958.3 725.9,1933.3 727.5,1908.3 729.2,1849.2 730.8,1908.3 733.3,1943.3 735.0,1947.8 736.7,1951.7 738.8,1957.2 740.8,1963.3 742.6,1963.9 744.5,1964.1 746.3,1963.3 748.2,1964.1 750.0,1963.3 751.7,1962.9 753.3,1962.5 755.0,1963.2 756.7,1962.2 758.4,1962.4 760.0,1962.7 761.7,1962.9 763.4,1962.1 765.0,1961.8 766.7,1962.5 768.4,1963.0 770.0,1962.0 771.7,1962.9 773.4,1962.6 775.0,1961.7 776.7,1961.7 778.4,1961.7 780.0,1961.7 781.7,1961.5 783.4,1961.3 785.0,1961.3 786.7,1961.7 788.3,1960.9 790.0,1960.6 791.7,1961.0 793.3,1960.1 795.0,1960.1 796.7,1961.0 798.3,1960.2 800.0,1960.0 801.6,1959.9 803.2,1958.9 804.8,1959.4 806.5,1959.5 808.1,1958.4 809.7,1959.2 811.3,1959.1 812.9,1958.0 814.5,1958.8 816.1,1958.3 817.7,1958.5 819.4,1957.8 821.0,1958.2 822.6,1958.1 824.2,1956.8 825.8,1956.7 827.4,1957.5 829.0,1957.8 830.6,1956.5 832.3,1956.7 833.9,1956.8 835.5,1956.2 837.1,1956.1 838.7,1955.8 840.3,1955.8 841.9,1956.0 843.5,1955.3 845.2,1955.3 846.8,1955.8 848.4,1954.4 850.0,1955.0 851.6,1955.0 853.2,1955.1 854.8,1954.2 856.5,1953.9 858.1,1954.7 859.7,1953.7 861.3,1953.4 862.9,1953.7 864.5,1954.0 866.1,1952.8 867.7,1953.0 869.4,1952.9 871.0,1953.6 872.6,1952.8 874.2,1953.3 875.8,1952.0 877.4,1952.2 879.0,1952.5 880.6,1952.7 882.3,1951.9 883.9,1951.4 885.5,1951.1 887.1,1951.6 888.7,1950.9 890.3,1951.7 891.9,1951.6 893.5,1950.4 895.2,1950.4 896.8,1951.1 898.4,1950.7 900.0,1950.3 901.7,1950.4 903.4,1949.2 905.1,1948.4 906.8,1948.2 908.5,1948.6 910.1,1947.4 911.8,1947.0 913.5,1946.7 915.2,1946.3 916.9,1946.0 918.6,1946.2 920.2,1947.5 921.9,1946.6 923.6,1946.8 925.3,1948.7 926.9,1949.0 928.6,1949.5 930.3,1949.0 932.0,1950.2 933.6,1950.6 935.3,1950.3 936.9,1949.3 938.6,1949.5 940.2,1949.1 941.9,1948.2 943.6,1947.4 945.2,1946.8 946.8,1946.3 948.5,1946.3 950.1,1946.0 951.8,1945.6 953.4,1946.4 955.0,1945.8 956.7,1946.5 958.3,1945.1 960.0,1946.4 961.6,1945.9 963.3,1946.2 964.9,1945.4 966.6,1943.2 968.3,1940.4 970.0,1937.0 971.7,1933.3 973.4,1931.2 975.1,1922.1 976.9,1912.9 979.0,1894.5 980.8,1890.0 982.6,1884.7 984.7,1863.5 986.1,1800.0 988.9,1750.6 991.0,1712.5 992.4,1764.7 993.2,1802.8 994.6,1822.6 997.4,1807.0 998.8,1828.2 1001.6,1862.1 1003.7,1836.7 1006.6,1893.1 1008.5,1875.0 1010.8,1858.5 1012.9,1863.5 1014.3,1792.9 1016.0,1685.6 1017.9,1736.5 1020.0,1807.0 1022.8,1877.6 1024.9,1908.7 1026.7,1918.6 1028.4,1928.4 1030.6,1933.5 1032.7,1939.7 1034.8,1938.0 1036.9,1936.9 1039.0,1939.6 1041.1,1941.8 1043.2,1938.7 1045.4,1935.5" fill="none" stroke="#555" stroke-width="1.6" stroke-linejoin="round"/>
<line x1="555.9" y1="1410.7" x2="555.9" y2="1499.3" stroke="#111" stroke-width="2"/>
<polygon points="549.9,1495.3 561.9,1495.3 555.9,1517.3" fill="#111"/>
<line x1="577.2" y1="1403.5" x2="577.2" y2="1491.3" stroke="#111" stroke-width="2"/>
<polygon points="571.2,1487.3 583.2,1487.3 577.2,1509.3" fill="#111"/>
<line x1="707.9" y1="1388.5" x2="707.9" y2="1476.7" stroke="#111" stroke-width="2"/>
<polygon points="701.9,1472.7 713.9,1472.7 707.9,1494.7" fill="#111"/>
<g font-size="15.5" fill="#333">
<text x="459.3" y="1552" textLength="21.4" lengthAdjust="spacingAndGlyphs">477</text>
<text x="495.3" y="1552" textLength="21.4" lengthAdjust="spacingAndGlyphs">615</text>
<text x="547.3" y="1545" textLength="21.4" lengthAdjust="spacingAndGlyphs">892</text>
<text x="572.7" y="1526.7" textLength="26.6" lengthAdjust="spacingAndGlyphs">1062</text>
<text x="600.7" y="1532" textLength="27.3" lengthAdjust="spacingAndGlyphs">1129</text>
<text x="566" y="1569.3" textLength="26" lengthAdjust="spacingAndGlyphs">1002</text>
<text x="614.8" y="1569.3" textLength="26.7" lengthAdjust="spacingAndGlyphs">1276</text>
<text x="625.5" y="1512" textLength="26.5" lengthAdjust="spacingAndGlyphs">1296</text>
<text x="660" y="1509.3" textLength="26" lengthAdjust="spacingAndGlyphs">1443</text>
<text x="692.7" y="1518.7" textLength="25.3" lengthAdjust="spacingAndGlyphs">1601</text>
<text x="708.7" y="1533.3" textLength="26.6" lengthAdjust="spacingAndGlyphs">1656</text>
<text x="980" y="1272" textLength="29.3" lengthAdjust="spacingAndGlyphs">2881</text>
<text x="970" y="1416" textLength="29.5" lengthAdjust="spacingAndGlyphs">2881</text>
<text x="570.5" y="1674.7" textLength="27.5" lengthAdjust="spacingAndGlyphs">1062</text>
<text x="599.9" y="1664" textLength="26.6" lengthAdjust="spacingAndGlyphs">1129</text>
<text x="627.3" y="1644" textLength="28.6" lengthAdjust="spacingAndGlyphs">1296</text>
<text x="679.3" y="1651.5" textLength="29.9" lengthAdjust="spacingAndGlyphs">1443</text>
<text x="713.5" y="1663.2" textLength="27.2" lengthAdjust="spacingAndGlyphs">1656</text>
<text x="460.8" y="1965" textLength="21.7" lengthAdjust="spacingAndGlyphs">477</text>
<text x="484.2" y="1911.7" textLength="23.3" lengthAdjust="spacingAndGlyphs">615</text>
<text x="545.8" y="1924.2" textLength="23.4" lengthAdjust="spacingAndGlyphs">892</text>
<text x="579.7" y="1904.2" textLength="28.6" lengthAdjust="spacingAndGlyphs">1027</text>
<text x="590" y="1747.5" textLength="40" lengthAdjust="spacingAndGlyphs">1002.1</text>
<text x="715" y="1735.8" textLength="28.3" lengthAdjust="spacingAndGlyphs">1601</text>
<text x="735.8" y="1848.3" textLength="29.2" lengthAdjust="spacingAndGlyphs">1715</text>
<text x="702.5" y="1890" textLength="29.2" lengthAdjust="spacingAndGlyphs">1647</text>
<text x="640.8" y="1908.3" textLength="29.2" lengthAdjust="spacingAndGlyphs">1325</text>
<text x="614.2" y="1928.3" textLength="30" lengthAdjust="spacingAndGlyphs">1276</text>
<text x="665" y="1940" textLength="28.3" lengthAdjust="spacingAndGlyphs">1450</text>
<text x="957.2" y="1702.6" textLength="31.7" lengthAdjust="spacingAndGlyphs">2945</text>
<text x="1027" y="1702.6" textLength="41.7" lengthAdjust="spacingAndGlyphs">3063.2</text>
</g>
<g font-size="53" font-weight="bold" fill="#000">
<text x="1114" y="1460">a</text><text x="1115" y="1650">b</text><text x="1115" y="1867">c</text>
</g>
</svg></body></html>
